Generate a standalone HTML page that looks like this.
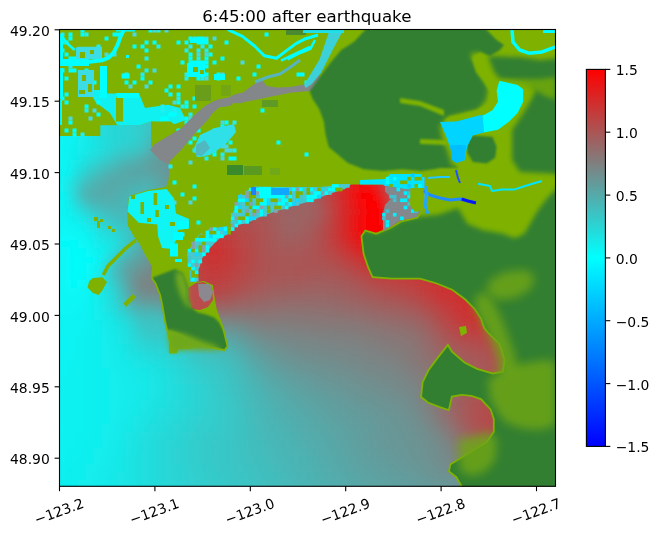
<!DOCTYPE html><html><head><meta charset="utf-8"><style>html,body{margin:0;padding:0;background:#fff;}svg{display:block;}text{font-family:"DejaVu Sans","Liberation Sans",sans-serif;fill:#000;}</style></head><body>
<svg width="658" height="536" viewBox="0 0 658 536">
<defs><clipPath id="ax"><rect x="59.5" y="29.5" width="496.0" height="456.8"/></clipPath>
<filter id="wb" x="-5%" y="-5%" width="110%" height="110%"><feGaussianBlur stdDeviation="5"/></filter>
<filter id="b1" x="-20%" y="-20%" width="140%" height="140%"><feGaussianBlur stdDeviation="1"/></filter>
<filter id="b2" x="-20%" y="-20%" width="140%" height="140%"><feGaussianBlur stdDeviation="2.5"/></filter>
<filter id="b3" x="-20%" y="-20%" width="140%" height="140%"><feGaussianBlur stdDeviation="5"/></filter>
<linearGradient id="cb" x1="0" y1="1" x2="0" y2="0"><stop offset="0" stop-color="#0000ff"/><stop offset="0.5" stop-color="#00ffff"/><stop offset="1" stop-color="#ff0000"/></linearGradient>
</defs>
<g clip-path="url(#ax)">
<g filter="url(#wb)"><rect x="38" y="8" width="8" height="8" fill="#00f9ff"/>
<rect x="46" y="8" width="8" height="8" fill="#00fbff"/>
<rect x="54" y="8" width="8" height="8" fill="#00fdff"/>
<rect x="62" y="8" width="8" height="8" fill="#00ffff"/>
<rect x="70" y="8" width="8" height="8" fill="#03fcfc"/>
<rect x="78" y="8" width="8" height="8" fill="#05fafa"/>
<rect x="86" y="8" width="8" height="8" fill="#08f7f7"/>
<rect x="94" y="8" width="8" height="8" fill="#0af5f5"/>
<rect x="102" y="8" width="8" height="8" fill="#0df2f2"/>
<rect x="110" y="8" width="8" height="8" fill="#0ff0f0"/>
<rect x="118" y="8" width="8" height="8" fill="#12eded"/>
<rect x="126" y="8" width="8" height="8" fill="#15eaea"/>
<rect x="134" y="8" width="8" height="8" fill="#17e8e8"/>
<rect x="142" y="8" width="8" height="8" fill="#1ae5e5"/>
<rect x="150" y="8" width="8" height="8" fill="#1de2e2"/>
<rect x="158" y="8" width="8" height="8" fill="#1fe0e0"/>
<rect x="166" y="8" width="8" height="8" fill="#22dddd"/>
<rect x="174" y="8" width="8" height="8" fill="#25dada"/>
<rect x="182" y="8" width="8" height="8" fill="#27d8d8"/>
<rect x="190" y="8" width="8" height="8" fill="#2ad5d5"/>
<rect x="198" y="8" width="8" height="8" fill="#2cd3d3"/>
<rect x="206" y="8" width="8" height="8" fill="#2fd0d0"/>
<rect x="214" y="8" width="8" height="8" fill="#31cece"/>
<rect x="222" y="8" width="8" height="8" fill="#33cccc"/>
<rect x="230" y="8" width="8" height="8" fill="#35caca"/>
<rect x="238" y="8" width="8" height="8" fill="#36c9c9"/>
<rect x="246" y="8" width="8" height="8" fill="#38c7c7"/>
<rect x="254" y="8" width="8" height="8" fill="#39c6c6"/>
<rect x="262" y="8" width="40" height="8" fill="#3ac5c5"/>
<rect x="302" y="8" width="8" height="8" fill="#39c6c6"/>
<rect x="310" y="8" width="8" height="8" fill="#38c7c7"/>
<rect x="318" y="8" width="8" height="8" fill="#37c8c8"/>
<rect x="326" y="8" width="8" height="8" fill="#35caca"/>
<rect x="334" y="8" width="8" height="8" fill="#33cccc"/>
<rect x="342" y="8" width="8" height="8" fill="#30cfcf"/>
<rect x="350" y="8" width="8" height="8" fill="#2dd2d2"/>
<rect x="358" y="8" width="8" height="8" fill="#2ad5d5"/>
<rect x="366" y="8" width="8" height="8" fill="#26d9d9"/>
<rect x="374" y="8" width="8" height="8" fill="#23dcdc"/>
<rect x="382" y="8" width="8" height="8" fill="#1fe0e0"/>
<rect x="390" y="8" width="8" height="8" fill="#1ae5e5"/>
<rect x="398" y="8" width="8" height="8" fill="#16e9e9"/>
<rect x="406" y="8" width="8" height="8" fill="#12eded"/>
<rect x="414" y="8" width="8" height="8" fill="#0df2f2"/>
<rect x="422" y="8" width="8" height="8" fill="#09f6f6"/>
<rect x="430" y="8" width="8" height="8" fill="#05fafa"/>
<rect x="438" y="8" width="8" height="8" fill="#00ffff"/>
<rect x="446" y="8" width="8" height="8" fill="#00fbff"/>
<rect x="454" y="8" width="8" height="8" fill="#00f7ff"/>
<rect x="462" y="8" width="8" height="8" fill="#00f4ff"/>
<rect x="470" y="8" width="8" height="8" fill="#00f0ff"/>
<rect x="478" y="8" width="8" height="8" fill="#00edff"/>
<rect x="486" y="8" width="8" height="8" fill="#00eaff"/>
<rect x="494" y="8" width="8" height="8" fill="#00e7ff"/>
<rect x="502" y="8" width="8" height="8" fill="#00e4ff"/>
<rect x="510" y="8" width="8" height="8" fill="#00e2ff"/>
<rect x="518" y="8" width="8" height="8" fill="#00e0ff"/>
<rect x="526" y="8" width="8" height="8" fill="#00deff"/>
<rect x="534" y="8" width="8" height="8" fill="#00dcff"/>
<rect x="542" y="8" width="8" height="8" fill="#00dbff"/>
<rect x="550" y="8" width="8" height="8" fill="#00daff"/>
<rect x="558" y="8" width="8" height="8" fill="#00d8ff"/>
<rect x="566" y="8" width="16" height="8" fill="#00d7ff"/>
<rect x="38" y="16" width="8" height="8" fill="#00faff"/>
<rect x="46" y="16" width="8" height="8" fill="#00fcff"/>
<rect x="54" y="16" width="8" height="8" fill="#00ffff"/>
<rect x="62" y="16" width="8" height="8" fill="#02fdfd"/>
<rect x="70" y="16" width="8" height="8" fill="#05fafa"/>
<rect x="78" y="16" width="8" height="8" fill="#07f8f8"/>
<rect x="86" y="16" width="8" height="8" fill="#0af5f5"/>
<rect x="94" y="16" width="8" height="8" fill="#0cf3f3"/>
<rect x="102" y="16" width="8" height="8" fill="#0ff0f0"/>
<rect x="110" y="16" width="8" height="8" fill="#12eded"/>
<rect x="118" y="16" width="8" height="8" fill="#14ebeb"/>
<rect x="126" y="16" width="8" height="8" fill="#17e8e8"/>
<rect x="134" y="16" width="8" height="8" fill="#1ae5e5"/>
<rect x="142" y="16" width="8" height="8" fill="#1de2e2"/>
<rect x="150" y="16" width="8" height="8" fill="#20dfdf"/>
<rect x="158" y="16" width="8" height="8" fill="#23dcdc"/>
<rect x="166" y="16" width="8" height="8" fill="#25dada"/>
<rect x="174" y="16" width="8" height="8" fill="#28d7d7"/>
<rect x="182" y="16" width="8" height="8" fill="#2bd4d4"/>
<rect x="190" y="16" width="8" height="8" fill="#2ed1d1"/>
<rect x="198" y="16" width="8" height="8" fill="#31cece"/>
<rect x="206" y="16" width="8" height="8" fill="#33cccc"/>
<rect x="214" y="16" width="8" height="8" fill="#35caca"/>
<rect x="222" y="16" width="8" height="8" fill="#38c7c7"/>
<rect x="230" y="16" width="8" height="8" fill="#3ac5c5"/>
<rect x="238" y="16" width="8" height="8" fill="#3bc4c4"/>
<rect x="246" y="16" width="8" height="8" fill="#3dc2c2"/>
<rect x="254" y="16" width="8" height="8" fill="#3ec1c1"/>
<rect x="262" y="16" width="8" height="8" fill="#3fc0c0"/>
<rect x="270" y="16" width="32" height="8" fill="#40bfbf"/>
<rect x="302" y="16" width="8" height="8" fill="#3fc0c0"/>
<rect x="310" y="16" width="8" height="8" fill="#3ec1c1"/>
<rect x="318" y="16" width="8" height="8" fill="#3cc3c3"/>
<rect x="326" y="16" width="8" height="8" fill="#3bc4c4"/>
<rect x="334" y="16" width="8" height="8" fill="#38c7c7"/>
<rect x="342" y="16" width="8" height="8" fill="#36c9c9"/>
<rect x="350" y="16" width="8" height="8" fill="#33cccc"/>
<rect x="358" y="16" width="8" height="8" fill="#2fd0d0"/>
<rect x="366" y="16" width="8" height="8" fill="#2cd3d3"/>
<rect x="374" y="16" width="8" height="8" fill="#28d7d7"/>
<rect x="382" y="16" width="8" height="8" fill="#23dcdc"/>
<rect x="390" y="16" width="8" height="8" fill="#1fe0e0"/>
<rect x="398" y="16" width="8" height="8" fill="#1be4e4"/>
<rect x="406" y="16" width="8" height="8" fill="#16e9e9"/>
<rect x="414" y="16" width="8" height="8" fill="#11eeee"/>
<rect x="422" y="16" width="8" height="8" fill="#0df2f2"/>
<rect x="430" y="16" width="8" height="8" fill="#08f7f7"/>
<rect x="438" y="16" width="8" height="8" fill="#04fbfb"/>
<rect x="446" y="16" width="8" height="8" fill="#00feff"/>
<rect x="454" y="16" width="8" height="8" fill="#00faff"/>
<rect x="462" y="16" width="8" height="8" fill="#00f6ff"/>
<rect x="470" y="16" width="8" height="8" fill="#00f3ff"/>
<rect x="478" y="16" width="8" height="8" fill="#00efff"/>
<rect x="486" y="16" width="8" height="8" fill="#00ecff"/>
<rect x="494" y="16" width="8" height="8" fill="#00e9ff"/>
<rect x="502" y="16" width="8" height="8" fill="#00e7ff"/>
<rect x="510" y="16" width="8" height="8" fill="#00e4ff"/>
<rect x="518" y="16" width="8" height="8" fill="#00e2ff"/>
<rect x="526" y="16" width="8" height="8" fill="#00e0ff"/>
<rect x="534" y="16" width="8" height="8" fill="#00dfff"/>
<rect x="542" y="16" width="8" height="8" fill="#00ddff"/>
<rect x="550" y="16" width="8" height="8" fill="#00dcff"/>
<rect x="558" y="16" width="8" height="8" fill="#00dbff"/>
<rect x="566" y="16" width="8" height="8" fill="#00daff"/>
<rect x="574" y="16" width="8" height="8" fill="#00d9ff"/>
<rect x="38" y="24" width="8" height="8" fill="#00fcff"/>
<rect x="46" y="24" width="8" height="8" fill="#00feff"/>
<rect x="54" y="24" width="8" height="8" fill="#01fefe"/>
<rect x="62" y="24" width="8" height="8" fill="#04fbfb"/>
<rect x="70" y="24" width="8" height="8" fill="#06f9f9"/>
<rect x="78" y="24" width="8" height="8" fill="#09f6f6"/>
<rect x="86" y="24" width="8" height="8" fill="#0cf3f3"/>
<rect x="94" y="24" width="8" height="8" fill="#0ef1f1"/>
<rect x="102" y="24" width="8" height="8" fill="#11eeee"/>
<rect x="110" y="24" width="8" height="8" fill="#14ebeb"/>
<rect x="118" y="24" width="8" height="8" fill="#17e8e8"/>
<rect x="126" y="24" width="8" height="8" fill="#1ae5e5"/>
<rect x="134" y="24" width="8" height="8" fill="#1de2e2"/>
<rect x="142" y="24" width="8" height="8" fill="#20dfdf"/>
<rect x="150" y="24" width="8" height="8" fill="#23dcdc"/>
<rect x="158" y="24" width="8" height="8" fill="#26d9d9"/>
<rect x="166" y="24" width="8" height="8" fill="#29d6d6"/>
<rect x="174" y="24" width="8" height="8" fill="#2cd3d3"/>
<rect x="182" y="24" width="8" height="8" fill="#2fd0d0"/>
<rect x="190" y="24" width="8" height="8" fill="#32cdcd"/>
<rect x="198" y="24" width="8" height="8" fill="#35caca"/>
<rect x="206" y="24" width="8" height="8" fill="#37c8c8"/>
<rect x="214" y="24" width="8" height="8" fill="#3ac5c5"/>
<rect x="222" y="24" width="8" height="8" fill="#3cc3c3"/>
<rect x="230" y="24" width="8" height="8" fill="#3ec1c1"/>
<rect x="238" y="24" width="8" height="8" fill="#40bfbf"/>
<rect x="246" y="24" width="8" height="8" fill="#42bdbd"/>
<rect x="254" y="24" width="8" height="8" fill="#43bcbc"/>
<rect x="262" y="24" width="16" height="8" fill="#45baba"/>
<rect x="278" y="24" width="24" height="8" fill="#46b9b9"/>
<rect x="302" y="24" width="8" height="8" fill="#45baba"/>
<rect x="310" y="24" width="8" height="8" fill="#44bbbb"/>
<rect x="318" y="24" width="8" height="8" fill="#43bcbc"/>
<rect x="326" y="24" width="8" height="8" fill="#41bebe"/>
<rect x="334" y="24" width="8" height="8" fill="#3ec1c1"/>
<rect x="342" y="24" width="8" height="8" fill="#3cc3c3"/>
<rect x="350" y="24" width="8" height="8" fill="#39c6c6"/>
<rect x="358" y="24" width="8" height="8" fill="#35caca"/>
<rect x="366" y="24" width="8" height="8" fill="#31cece"/>
<rect x="374" y="24" width="8" height="8" fill="#2dd2d2"/>
<rect x="382" y="24" width="8" height="8" fill="#28d7d7"/>
<rect x="390" y="24" width="8" height="8" fill="#24dbdb"/>
<rect x="398" y="24" width="8" height="8" fill="#1fe0e0"/>
<rect x="406" y="24" width="8" height="8" fill="#1ae5e5"/>
<rect x="414" y="24" width="8" height="8" fill="#15eaea"/>
<rect x="422" y="24" width="8" height="8" fill="#10efef"/>
<rect x="430" y="24" width="8" height="8" fill="#0bf4f4"/>
<rect x="438" y="24" width="8" height="8" fill="#07f8f8"/>
<rect x="446" y="24" width="8" height="8" fill="#02fdfd"/>
<rect x="454" y="24" width="8" height="8" fill="#00fdff"/>
<rect x="462" y="24" width="8" height="8" fill="#00f9ff"/>
<rect x="470" y="24" width="8" height="8" fill="#00f5ff"/>
<rect x="478" y="24" width="8" height="8" fill="#00f2ff"/>
<rect x="486" y="24" width="8" height="8" fill="#00efff"/>
<rect x="494" y="24" width="8" height="8" fill="#00ecff"/>
<rect x="502" y="24" width="8" height="8" fill="#00e9ff"/>
<rect x="510" y="24" width="8" height="8" fill="#00e7ff"/>
<rect x="518" y="24" width="8" height="8" fill="#00e5ff"/>
<rect x="526" y="24" width="8" height="8" fill="#00e3ff"/>
<rect x="534" y="24" width="8" height="8" fill="#00e1ff"/>
<rect x="542" y="24" width="8" height="8" fill="#00e0ff"/>
<rect x="550" y="24" width="8" height="8" fill="#00dfff"/>
<rect x="558" y="24" width="8" height="8" fill="#00deff"/>
<rect x="566" y="24" width="8" height="8" fill="#00ddff"/>
<rect x="574" y="24" width="8" height="8" fill="#00dcff"/>
<rect x="38" y="32" width="8" height="8" fill="#00fdff"/>
<rect x="46" y="32" width="8" height="8" fill="#01fefe"/>
<rect x="54" y="32" width="8" height="8" fill="#03fcfc"/>
<rect x="62" y="32" width="8" height="8" fill="#05fafa"/>
<rect x="70" y="32" width="8" height="8" fill="#08f7f7"/>
<rect x="78" y="32" width="8" height="8" fill="#0bf4f4"/>
<rect x="86" y="32" width="8" height="8" fill="#0df2f2"/>
<rect x="94" y="32" width="8" height="8" fill="#10efef"/>
<rect x="102" y="32" width="8" height="8" fill="#13ecec"/>
<rect x="110" y="32" width="8" height="8" fill="#16e9e9"/>
<rect x="118" y="32" width="8" height="8" fill="#19e6e6"/>
<rect x="126" y="32" width="8" height="8" fill="#1ce3e3"/>
<rect x="134" y="32" width="8" height="8" fill="#1fe0e0"/>
<rect x="142" y="32" width="8" height="8" fill="#22dddd"/>
<rect x="150" y="32" width="8" height="8" fill="#26d9d9"/>
<rect x="158" y="32" width="8" height="8" fill="#29d6d6"/>
<rect x="166" y="32" width="8" height="8" fill="#2cd3d3"/>
<rect x="174" y="32" width="8" height="8" fill="#2fd0d0"/>
<rect x="182" y="32" width="8" height="8" fill="#33cccc"/>
<rect x="190" y="32" width="8" height="8" fill="#36c9c9"/>
<rect x="198" y="32" width="8" height="8" fill="#39c6c6"/>
<rect x="206" y="32" width="8" height="8" fill="#3cc3c3"/>
<rect x="214" y="32" width="8" height="8" fill="#3fc0c0"/>
<rect x="222" y="32" width="8" height="8" fill="#41bebe"/>
<rect x="230" y="32" width="8" height="8" fill="#43bcbc"/>
<rect x="238" y="32" width="8" height="8" fill="#46b9b9"/>
<rect x="246" y="32" width="8" height="8" fill="#47b8b8"/>
<rect x="254" y="32" width="8" height="8" fill="#49b6b6"/>
<rect x="262" y="32" width="8" height="8" fill="#4ab5b5"/>
<rect x="270" y="32" width="8" height="8" fill="#4bb4b4"/>
<rect x="278" y="32" width="24" height="8" fill="#4cb3b3"/>
<rect x="302" y="32" width="8" height="8" fill="#4bb4b4"/>
<rect x="310" y="32" width="8" height="8" fill="#4ab5b5"/>
<rect x="318" y="32" width="8" height="8" fill="#49b6b6"/>
<rect x="326" y="32" width="8" height="8" fill="#47b8b8"/>
<rect x="334" y="32" width="8" height="8" fill="#45baba"/>
<rect x="342" y="32" width="8" height="8" fill="#42bdbd"/>
<rect x="350" y="32" width="8" height="8" fill="#3fc0c0"/>
<rect x="358" y="32" width="8" height="8" fill="#3bc4c4"/>
<rect x="366" y="32" width="8" height="8" fill="#37c8c8"/>
<rect x="374" y="32" width="8" height="8" fill="#32cdcd"/>
<rect x="382" y="32" width="8" height="8" fill="#2ed1d1"/>
<rect x="390" y="32" width="8" height="8" fill="#29d6d6"/>
<rect x="398" y="32" width="8" height="8" fill="#24dbdb"/>
<rect x="406" y="32" width="8" height="8" fill="#1ee1e1"/>
<rect x="414" y="32" width="8" height="8" fill="#19e6e6"/>
<rect x="422" y="32" width="8" height="8" fill="#14ebeb"/>
<rect x="430" y="32" width="8" height="8" fill="#0ff0f0"/>
<rect x="438" y="32" width="8" height="8" fill="#0af5f5"/>
<rect x="446" y="32" width="8" height="8" fill="#05fafa"/>
<rect x="454" y="32" width="8" height="8" fill="#01fefe"/>
<rect x="462" y="32" width="8" height="8" fill="#00fcff"/>
<rect x="470" y="32" width="8" height="8" fill="#00f8ff"/>
<rect x="478" y="32" width="8" height="8" fill="#00f4ff"/>
<rect x="486" y="32" width="8" height="8" fill="#00f1ff"/>
<rect x="494" y="32" width="8" height="8" fill="#00eeff"/>
<rect x="502" y="32" width="8" height="8" fill="#00ebff"/>
<rect x="510" y="32" width="8" height="8" fill="#00e9ff"/>
<rect x="518" y="32" width="8" height="8" fill="#00e7ff"/>
<rect x="526" y="32" width="8" height="8" fill="#00e5ff"/>
<rect x="534" y="32" width="8" height="8" fill="#00e4ff"/>
<rect x="542" y="32" width="8" height="8" fill="#00e2ff"/>
<rect x="550" y="32" width="8" height="8" fill="#00e1ff"/>
<rect x="558" y="32" width="16" height="8" fill="#00e0ff"/>
<rect x="574" y="32" width="8" height="8" fill="#00dfff"/>
<rect x="38" y="40" width="8" height="8" fill="#00feff"/>
<rect x="46" y="40" width="8" height="8" fill="#02fdfd"/>
<rect x="54" y="40" width="8" height="8" fill="#04fbfb"/>
<rect x="62" y="40" width="8" height="8" fill="#07f8f8"/>
<rect x="70" y="40" width="8" height="8" fill="#0af5f5"/>
<rect x="78" y="40" width="8" height="8" fill="#0cf3f3"/>
<rect x="86" y="40" width="8" height="8" fill="#0ff0f0"/>
<rect x="94" y="40" width="8" height="8" fill="#12eded"/>
<rect x="102" y="40" width="8" height="8" fill="#15eaea"/>
<rect x="110" y="40" width="8" height="8" fill="#18e7e7"/>
<rect x="118" y="40" width="8" height="8" fill="#1be4e4"/>
<rect x="126" y="40" width="8" height="8" fill="#1ee1e1"/>
<rect x="134" y="40" width="8" height="8" fill="#22dddd"/>
<rect x="142" y="40" width="8" height="8" fill="#25dada"/>
<rect x="150" y="40" width="8" height="8" fill="#28d7d7"/>
<rect x="158" y="40" width="8" height="8" fill="#2cd3d3"/>
<rect x="166" y="40" width="8" height="8" fill="#2fd0d0"/>
<rect x="174" y="40" width="8" height="8" fill="#33cccc"/>
<rect x="182" y="40" width="8" height="8" fill="#36c9c9"/>
<rect x="190" y="40" width="8" height="8" fill="#3ac5c5"/>
<rect x="198" y="40" width="8" height="8" fill="#3dc2c2"/>
<rect x="206" y="40" width="8" height="8" fill="#40bfbf"/>
<rect x="214" y="40" width="8" height="8" fill="#43bcbc"/>
<rect x="222" y="40" width="8" height="8" fill="#46b9b9"/>
<rect x="230" y="40" width="8" height="8" fill="#48b7b7"/>
<rect x="238" y="40" width="8" height="8" fill="#4bb4b4"/>
<rect x="246" y="40" width="8" height="8" fill="#4db2b2"/>
<rect x="254" y="40" width="8" height="8" fill="#4eb1b1"/>
<rect x="262" y="40" width="8" height="8" fill="#50afaf"/>
<rect x="270" y="40" width="8" height="8" fill="#51aeae"/>
<rect x="278" y="40" width="32" height="8" fill="#52adad"/>
<rect x="310" y="40" width="8" height="8" fill="#51aeae"/>
<rect x="318" y="40" width="8" height="8" fill="#4fb0b0"/>
<rect x="326" y="40" width="8" height="8" fill="#4db2b2"/>
<rect x="334" y="40" width="8" height="8" fill="#4bb4b4"/>
<rect x="342" y="40" width="8" height="8" fill="#48b7b7"/>
<rect x="350" y="40" width="8" height="8" fill="#45baba"/>
<rect x="358" y="40" width="8" height="8" fill="#41bebe"/>
<rect x="366" y="40" width="8" height="8" fill="#3dc2c2"/>
<rect x="374" y="40" width="8" height="8" fill="#38c7c7"/>
<rect x="382" y="40" width="8" height="8" fill="#33cccc"/>
<rect x="390" y="40" width="8" height="8" fill="#2ed1d1"/>
<rect x="398" y="40" width="8" height="8" fill="#28d7d7"/>
<rect x="406" y="40" width="8" height="8" fill="#23dcdc"/>
<rect x="414" y="40" width="8" height="8" fill="#1de2e2"/>
<rect x="422" y="40" width="8" height="8" fill="#18e7e7"/>
<rect x="430" y="40" width="8" height="8" fill="#12eded"/>
<rect x="438" y="40" width="8" height="8" fill="#0df2f2"/>
<rect x="446" y="40" width="8" height="8" fill="#08f7f7"/>
<rect x="454" y="40" width="8" height="8" fill="#04fbfb"/>
<rect x="462" y="40" width="8" height="8" fill="#00feff"/>
<rect x="470" y="40" width="8" height="8" fill="#00faff"/>
<rect x="478" y="40" width="8" height="8" fill="#00f7ff"/>
<rect x="486" y="40" width="8" height="8" fill="#00f3ff"/>
<rect x="494" y="40" width="8" height="8" fill="#00f0ff"/>
<rect x="502" y="40" width="8" height="8" fill="#00eeff"/>
<rect x="510" y="40" width="8" height="8" fill="#00ebff"/>
<rect x="518" y="40" width="8" height="8" fill="#00e9ff"/>
<rect x="526" y="40" width="8" height="8" fill="#00e8ff"/>
<rect x="534" y="40" width="8" height="8" fill="#00e6ff"/>
<rect x="542" y="40" width="8" height="8" fill="#00e5ff"/>
<rect x="550" y="40" width="8" height="8" fill="#00e4ff"/>
<rect x="558" y="40" width="8" height="8" fill="#00e3ff"/>
<rect x="566" y="40" width="16" height="8" fill="#00e2ff"/>
<rect x="38" y="48" width="8" height="8" fill="#01fefe"/>
<rect x="46" y="48" width="8" height="8" fill="#03fcfc"/>
<rect x="54" y="48" width="8" height="8" fill="#06f9f9"/>
<rect x="62" y="48" width="8" height="8" fill="#08f7f7"/>
<rect x="70" y="48" width="8" height="8" fill="#0bf4f4"/>
<rect x="78" y="48" width="8" height="8" fill="#0ef1f1"/>
<rect x="86" y="48" width="8" height="8" fill="#11eeee"/>
<rect x="94" y="48" width="8" height="8" fill="#14ebeb"/>
<rect x="102" y="48" width="8" height="8" fill="#17e8e8"/>
<rect x="110" y="48" width="8" height="8" fill="#1ae5e5"/>
<rect x="118" y="48" width="8" height="8" fill="#1de2e2"/>
<rect x="126" y="48" width="8" height="8" fill="#21dede"/>
<rect x="134" y="48" width="8" height="8" fill="#24dbdb"/>
<rect x="142" y="48" width="8" height="8" fill="#27d8d8"/>
<rect x="150" y="48" width="8" height="8" fill="#2bd4d4"/>
<rect x="158" y="48" width="8" height="8" fill="#2fd0d0"/>
<rect x="166" y="48" width="8" height="8" fill="#32cdcd"/>
<rect x="174" y="48" width="8" height="8" fill="#36c9c9"/>
<rect x="182" y="48" width="8" height="8" fill="#3ac5c5"/>
<rect x="190" y="48" width="8" height="8" fill="#3ec1c1"/>
<rect x="198" y="48" width="8" height="8" fill="#41bebe"/>
<rect x="206" y="48" width="8" height="8" fill="#45baba"/>
<rect x="214" y="48" width="8" height="8" fill="#48b7b7"/>
<rect x="222" y="48" width="8" height="8" fill="#4bb4b4"/>
<rect x="230" y="48" width="8" height="8" fill="#4db2b2"/>
<rect x="238" y="48" width="8" height="8" fill="#50afaf"/>
<rect x="246" y="48" width="8" height="8" fill="#52adad"/>
<rect x="254" y="48" width="8" height="8" fill="#54abab"/>
<rect x="262" y="48" width="8" height="8" fill="#56a9a9"/>
<rect x="270" y="48" width="8" height="8" fill="#57a8a8"/>
<rect x="278" y="48" width="32" height="8" fill="#58a7a7"/>
<rect x="310" y="48" width="8" height="8" fill="#57a8a8"/>
<rect x="318" y="48" width="8" height="8" fill="#56a9a9"/>
<rect x="326" y="48" width="8" height="8" fill="#54abab"/>
<rect x="334" y="48" width="8" height="8" fill="#52adad"/>
<rect x="342" y="48" width="8" height="8" fill="#4fb0b0"/>
<rect x="350" y="48" width="8" height="8" fill="#4bb4b4"/>
<rect x="358" y="48" width="8" height="8" fill="#47b8b8"/>
<rect x="366" y="48" width="8" height="8" fill="#43bcbc"/>
<rect x="374" y="48" width="8" height="8" fill="#3ec1c1"/>
<rect x="382" y="48" width="8" height="8" fill="#38c7c7"/>
<rect x="390" y="48" width="8" height="8" fill="#33cccc"/>
<rect x="398" y="48" width="8" height="8" fill="#2dd2d2"/>
<rect x="406" y="48" width="8" height="8" fill="#27d8d8"/>
<rect x="414" y="48" width="8" height="8" fill="#21dede"/>
<rect x="422" y="48" width="8" height="8" fill="#1be4e4"/>
<rect x="430" y="48" width="8" height="8" fill="#16e9e9"/>
<rect x="438" y="48" width="8" height="8" fill="#10efef"/>
<rect x="446" y="48" width="8" height="8" fill="#0bf4f4"/>
<rect x="454" y="48" width="8" height="8" fill="#06f9f9"/>
<rect x="462" y="48" width="8" height="8" fill="#02fdfd"/>
<rect x="470" y="48" width="8" height="8" fill="#00fdff"/>
<rect x="478" y="48" width="8" height="8" fill="#00f9ff"/>
<rect x="486" y="48" width="8" height="8" fill="#00f6ff"/>
<rect x="494" y="48" width="8" height="8" fill="#00f3ff"/>
<rect x="502" y="48" width="8" height="8" fill="#00f0ff"/>
<rect x="510" y="48" width="8" height="8" fill="#00eeff"/>
<rect x="518" y="48" width="8" height="8" fill="#00ecff"/>
<rect x="526" y="48" width="8" height="8" fill="#00eaff"/>
<rect x="534" y="48" width="8" height="8" fill="#00e9ff"/>
<rect x="542" y="48" width="8" height="8" fill="#00e8ff"/>
<rect x="550" y="48" width="8" height="8" fill="#00e7ff"/>
<rect x="558" y="48" width="8" height="8" fill="#00e6ff"/>
<rect x="566" y="48" width="16" height="8" fill="#00e5ff"/>
<rect x="38" y="56" width="8" height="8" fill="#02fdfd"/>
<rect x="46" y="56" width="8" height="8" fill="#04fbfb"/>
<rect x="54" y="56" width="8" height="8" fill="#07f8f8"/>
<rect x="62" y="56" width="8" height="8" fill="#0af5f5"/>
<rect x="70" y="56" width="8" height="8" fill="#0df2f2"/>
<rect x="78" y="56" width="8" height="8" fill="#0ff0f0"/>
<rect x="86" y="56" width="8" height="8" fill="#13ecec"/>
<rect x="94" y="56" width="8" height="8" fill="#16e9e9"/>
<rect x="102" y="56" width="8" height="8" fill="#19e6e6"/>
<rect x="110" y="56" width="8" height="8" fill="#1ce3e3"/>
<rect x="118" y="56" width="8" height="8" fill="#1fe0e0"/>
<rect x="126" y="56" width="8" height="8" fill="#23dcdc"/>
<rect x="134" y="56" width="8" height="8" fill="#26d9d9"/>
<rect x="142" y="56" width="8" height="8" fill="#2ad5d5"/>
<rect x="150" y="56" width="8" height="8" fill="#2ed1d1"/>
<rect x="158" y="56" width="8" height="8" fill="#32cdcd"/>
<rect x="166" y="56" width="8" height="8" fill="#36c9c9"/>
<rect x="174" y="56" width="8" height="8" fill="#3ac5c5"/>
<rect x="182" y="56" width="8" height="8" fill="#3ec1c1"/>
<rect x="190" y="56" width="8" height="8" fill="#41bebe"/>
<rect x="198" y="56" width="8" height="8" fill="#45baba"/>
<rect x="206" y="56" width="8" height="8" fill="#49b6b6"/>
<rect x="214" y="56" width="8" height="8" fill="#4cb3b3"/>
<rect x="222" y="56" width="8" height="8" fill="#50afaf"/>
<rect x="230" y="56" width="8" height="8" fill="#53acac"/>
<rect x="238" y="56" width="8" height="8" fill="#55aaaa"/>
<rect x="246" y="56" width="8" height="8" fill="#58a7a7"/>
<rect x="254" y="56" width="8" height="8" fill="#5aa5a5"/>
<rect x="262" y="56" width="8" height="8" fill="#5ba4a4"/>
<rect x="270" y="56" width="8" height="8" fill="#5da2a2"/>
<rect x="278" y="56" width="8" height="8" fill="#5ea1a1"/>
<rect x="286" y="56" width="24" height="8" fill="#5fa0a0"/>
<rect x="310" y="56" width="8" height="8" fill="#5ea1a1"/>
<rect x="318" y="56" width="8" height="8" fill="#5da2a2"/>
<rect x="326" y="56" width="8" height="8" fill="#5ba4a4"/>
<rect x="334" y="56" width="8" height="8" fill="#59a6a6"/>
<rect x="342" y="56" width="8" height="8" fill="#56a9a9"/>
<rect x="350" y="56" width="8" height="8" fill="#52adad"/>
<rect x="358" y="56" width="8" height="8" fill="#4eb1b1"/>
<rect x="366" y="56" width="8" height="8" fill="#49b6b6"/>
<rect x="374" y="56" width="8" height="8" fill="#44bbbb"/>
<rect x="382" y="56" width="8" height="8" fill="#3ec1c1"/>
<rect x="390" y="56" width="8" height="8" fill="#38c7c7"/>
<rect x="398" y="56" width="8" height="8" fill="#32cdcd"/>
<rect x="406" y="56" width="8" height="8" fill="#2bd4d4"/>
<rect x="414" y="56" width="8" height="8" fill="#25dada"/>
<rect x="422" y="56" width="8" height="8" fill="#1fe0e0"/>
<rect x="430" y="56" width="8" height="8" fill="#19e6e6"/>
<rect x="438" y="56" width="8" height="8" fill="#13ecec"/>
<rect x="446" y="56" width="8" height="8" fill="#0ef1f1"/>
<rect x="454" y="56" width="8" height="8" fill="#09f6f6"/>
<rect x="462" y="56" width="8" height="8" fill="#04fbfb"/>
<rect x="470" y="56" width="8" height="8" fill="#00ffff"/>
<rect x="478" y="56" width="8" height="8" fill="#00fbff"/>
<rect x="486" y="56" width="8" height="8" fill="#00f8ff"/>
<rect x="494" y="56" width="8" height="8" fill="#00f5ff"/>
<rect x="502" y="56" width="8" height="8" fill="#00f2ff"/>
<rect x="510" y="56" width="8" height="8" fill="#00f0ff"/>
<rect x="518" y="56" width="8" height="8" fill="#00eeff"/>
<rect x="526" y="56" width="8" height="8" fill="#00edff"/>
<rect x="534" y="56" width="8" height="8" fill="#00ecff"/>
<rect x="542" y="56" width="8" height="8" fill="#00ebff"/>
<rect x="550" y="56" width="8" height="8" fill="#00eaff"/>
<rect x="558" y="56" width="8" height="8" fill="#00e9ff"/>
<rect x="566" y="56" width="16" height="8" fill="#00e8ff"/>
<rect x="38" y="64" width="8" height="8" fill="#03fcfc"/>
<rect x="46" y="64" width="8" height="8" fill="#05fafa"/>
<rect x="54" y="64" width="8" height="8" fill="#08f7f7"/>
<rect x="62" y="64" width="8" height="8" fill="#0bf4f4"/>
<rect x="70" y="64" width="8" height="8" fill="#0ef1f1"/>
<rect x="78" y="64" width="8" height="8" fill="#11eeee"/>
<rect x="86" y="64" width="8" height="8" fill="#14ebeb"/>
<rect x="94" y="64" width="8" height="8" fill="#17e8e8"/>
<rect x="102" y="64" width="8" height="8" fill="#1be4e4"/>
<rect x="110" y="64" width="8" height="8" fill="#1ee1e1"/>
<rect x="118" y="64" width="8" height="8" fill="#21dede"/>
<rect x="126" y="64" width="8" height="8" fill="#25dada"/>
<rect x="134" y="64" width="8" height="8" fill="#28d7d7"/>
<rect x="142" y="64" width="8" height="8" fill="#2cd3d3"/>
<rect x="150" y="64" width="8" height="8" fill="#30cfcf"/>
<rect x="158" y="64" width="8" height="8" fill="#34cbcb"/>
<rect x="166" y="64" width="8" height="8" fill="#39c6c6"/>
<rect x="174" y="64" width="8" height="8" fill="#3dc2c2"/>
<rect x="182" y="64" width="8" height="8" fill="#41bebe"/>
<rect x="190" y="64" width="8" height="8" fill="#45baba"/>
<rect x="198" y="64" width="8" height="8" fill="#4ab5b5"/>
<rect x="206" y="64" width="8" height="8" fill="#4db2b2"/>
<rect x="214" y="64" width="8" height="8" fill="#51aeae"/>
<rect x="222" y="64" width="8" height="8" fill="#54abab"/>
<rect x="230" y="64" width="8" height="8" fill="#58a7a7"/>
<rect x="238" y="64" width="8" height="8" fill="#5aa5a5"/>
<rect x="246" y="64" width="8" height="8" fill="#5da2a2"/>
<rect x="254" y="64" width="8" height="8" fill="#5fa0a0"/>
<rect x="262" y="64" width="8" height="8" fill="#619e9e"/>
<rect x="270" y="64" width="8" height="8" fill="#639c9c"/>
<rect x="278" y="64" width="8" height="8" fill="#649b9b"/>
<rect x="286" y="64" width="32" height="8" fill="#659a9a"/>
<rect x="318" y="64" width="8" height="8" fill="#649b9b"/>
<rect x="326" y="64" width="8" height="8" fill="#629d9d"/>
<rect x="334" y="64" width="8" height="8" fill="#609f9f"/>
<rect x="342" y="64" width="8" height="8" fill="#5da2a2"/>
<rect x="350" y="64" width="8" height="8" fill="#59a6a6"/>
<rect x="358" y="64" width="8" height="8" fill="#54abab"/>
<rect x="366" y="64" width="8" height="8" fill="#4fb0b0"/>
<rect x="374" y="64" width="8" height="8" fill="#4ab5b5"/>
<rect x="382" y="64" width="8" height="8" fill="#44bbbb"/>
<rect x="390" y="64" width="8" height="8" fill="#3dc2c2"/>
<rect x="398" y="64" width="8" height="8" fill="#37c8c8"/>
<rect x="406" y="64" width="8" height="8" fill="#30cfcf"/>
<rect x="414" y="64" width="8" height="8" fill="#29d6d6"/>
<rect x="422" y="64" width="8" height="8" fill="#22dddd"/>
<rect x="430" y="64" width="8" height="8" fill="#1ce3e3"/>
<rect x="438" y="64" width="8" height="8" fill="#16e9e9"/>
<rect x="446" y="64" width="8" height="8" fill="#10efef"/>
<rect x="454" y="64" width="8" height="8" fill="#0bf4f4"/>
<rect x="462" y="64" width="8" height="8" fill="#06f9f9"/>
<rect x="470" y="64" width="8" height="8" fill="#02fdfd"/>
<rect x="478" y="64" width="8" height="8" fill="#00fdff"/>
<rect x="486" y="64" width="8" height="8" fill="#00faff"/>
<rect x="494" y="64" width="8" height="8" fill="#00f7ff"/>
<rect x="502" y="64" width="8" height="8" fill="#00f5ff"/>
<rect x="510" y="64" width="8" height="8" fill="#00f3ff"/>
<rect x="518" y="64" width="8" height="8" fill="#00f1ff"/>
<rect x="526" y="64" width="8" height="8" fill="#00f0ff"/>
<rect x="534" y="64" width="8" height="8" fill="#00eeff"/>
<rect x="542" y="64" width="16" height="8" fill="#00edff"/>
<rect x="558" y="64" width="16" height="8" fill="#00ecff"/>
<rect x="574" y="64" width="8" height="8" fill="#00ebff"/>
<rect x="38" y="72" width="8" height="8" fill="#04fbfb"/>
<rect x="46" y="72" width="8" height="8" fill="#06f9f9"/>
<rect x="54" y="72" width="8" height="8" fill="#09f6f6"/>
<rect x="62" y="72" width="8" height="8" fill="#0cf3f3"/>
<rect x="70" y="72" width="8" height="8" fill="#0ff0f0"/>
<rect x="78" y="72" width="8" height="8" fill="#12eded"/>
<rect x="86" y="72" width="8" height="8" fill="#15eaea"/>
<rect x="94" y="72" width="8" height="8" fill="#19e6e6"/>
<rect x="102" y="72" width="8" height="8" fill="#1ce3e3"/>
<rect x="110" y="72" width="8" height="8" fill="#20dfdf"/>
<rect x="118" y="72" width="8" height="8" fill="#23dcdc"/>
<rect x="126" y="72" width="8" height="8" fill="#27d8d8"/>
<rect x="134" y="72" width="8" height="8" fill="#2ad5d5"/>
<rect x="142" y="72" width="8" height="8" fill="#2ed1d1"/>
<rect x="150" y="72" width="8" height="8" fill="#32cdcd"/>
<rect x="158" y="72" width="8" height="8" fill="#37c8c8"/>
<rect x="166" y="72" width="8" height="8" fill="#3cc3c3"/>
<rect x="174" y="72" width="8" height="8" fill="#40bfbf"/>
<rect x="182" y="72" width="8" height="8" fill="#45baba"/>
<rect x="190" y="72" width="8" height="8" fill="#49b6b6"/>
<rect x="198" y="72" width="8" height="8" fill="#4eb1b1"/>
<rect x="206" y="72" width="8" height="8" fill="#52adad"/>
<rect x="214" y="72" width="8" height="8" fill="#56a9a9"/>
<rect x="222" y="72" width="8" height="8" fill="#59a6a6"/>
<rect x="230" y="72" width="8" height="8" fill="#5da2a2"/>
<rect x="238" y="72" width="8" height="8" fill="#609f9f"/>
<rect x="246" y="72" width="8" height="8" fill="#629d9d"/>
<rect x="254" y="72" width="8" height="8" fill="#659a9a"/>
<rect x="262" y="72" width="8" height="8" fill="#679898"/>
<rect x="270" y="72" width="8" height="8" fill="#699696"/>
<rect x="278" y="72" width="8" height="8" fill="#6a9595"/>
<rect x="286" y="72" width="8" height="8" fill="#6b9494"/>
<rect x="294" y="72" width="24" height="8" fill="#6c9393"/>
<rect x="318" y="72" width="8" height="8" fill="#6b9494"/>
<rect x="326" y="72" width="8" height="8" fill="#699696"/>
<rect x="334" y="72" width="8" height="8" fill="#679898"/>
<rect x="342" y="72" width="8" height="8" fill="#649b9b"/>
<rect x="350" y="72" width="8" height="8" fill="#609f9f"/>
<rect x="358" y="72" width="8" height="8" fill="#5ba4a4"/>
<rect x="366" y="72" width="8" height="8" fill="#56a9a9"/>
<rect x="374" y="72" width="8" height="8" fill="#50afaf"/>
<rect x="382" y="72" width="8" height="8" fill="#4ab5b5"/>
<rect x="390" y="72" width="8" height="8" fill="#43bcbc"/>
<rect x="398" y="72" width="8" height="8" fill="#3bc4c4"/>
<rect x="406" y="72" width="8" height="8" fill="#34cbcb"/>
<rect x="414" y="72" width="8" height="8" fill="#2dd2d2"/>
<rect x="422" y="72" width="8" height="8" fill="#26d9d9"/>
<rect x="430" y="72" width="8" height="8" fill="#1fe0e0"/>
<rect x="438" y="72" width="8" height="8" fill="#19e6e6"/>
<rect x="446" y="72" width="8" height="8" fill="#13ecec"/>
<rect x="454" y="72" width="8" height="8" fill="#0ef1f1"/>
<rect x="462" y="72" width="8" height="8" fill="#09f6f6"/>
<rect x="470" y="72" width="8" height="8" fill="#04fbfb"/>
<rect x="478" y="72" width="8" height="8" fill="#01fefe"/>
<rect x="486" y="72" width="8" height="8" fill="#00fcff"/>
<rect x="494" y="72" width="8" height="8" fill="#00faff"/>
<rect x="502" y="72" width="8" height="8" fill="#00f7ff"/>
<rect x="510" y="72" width="8" height="8" fill="#00f5ff"/>
<rect x="518" y="72" width="8" height="8" fill="#00f4ff"/>
<rect x="526" y="72" width="8" height="8" fill="#00f2ff"/>
<rect x="534" y="72" width="8" height="8" fill="#00f1ff"/>
<rect x="542" y="72" width="16" height="8" fill="#00f0ff"/>
<rect x="558" y="72" width="24" height="8" fill="#00efff"/>
<rect x="38" y="80" width="8" height="8" fill="#04fbfb"/>
<rect x="46" y="80" width="8" height="8" fill="#07f8f8"/>
<rect x="54" y="80" width="8" height="8" fill="#0af5f5"/>
<rect x="62" y="80" width="8" height="8" fill="#0df2f2"/>
<rect x="70" y="80" width="8" height="8" fill="#10efef"/>
<rect x="78" y="80" width="8" height="8" fill="#13ecec"/>
<rect x="86" y="80" width="8" height="8" fill="#17e8e8"/>
<rect x="94" y="80" width="8" height="8" fill="#1ae5e5"/>
<rect x="102" y="80" width="8" height="8" fill="#1ee1e1"/>
<rect x="110" y="80" width="8" height="8" fill="#21dede"/>
<rect x="118" y="80" width="8" height="8" fill="#25dada"/>
<rect x="126" y="80" width="8" height="8" fill="#28d7d7"/>
<rect x="134" y="80" width="8" height="8" fill="#2cd3d3"/>
<rect x="142" y="80" width="8" height="8" fill="#30cfcf"/>
<rect x="150" y="80" width="8" height="8" fill="#35caca"/>
<rect x="158" y="80" width="8" height="8" fill="#3ac5c5"/>
<rect x="166" y="80" width="8" height="8" fill="#3fc0c0"/>
<rect x="174" y="80" width="8" height="8" fill="#44bbbb"/>
<rect x="182" y="80" width="8" height="8" fill="#49b6b6"/>
<rect x="190" y="80" width="8" height="8" fill="#4eb1b1"/>
<rect x="198" y="80" width="8" height="8" fill="#52adad"/>
<rect x="206" y="80" width="8" height="8" fill="#57a8a8"/>
<rect x="214" y="80" width="8" height="8" fill="#5ba4a4"/>
<rect x="222" y="80" width="8" height="8" fill="#5ea1a1"/>
<rect x="230" y="80" width="8" height="8" fill="#629d9d"/>
<rect x="238" y="80" width="8" height="8" fill="#659a9a"/>
<rect x="246" y="80" width="8" height="8" fill="#689797"/>
<rect x="254" y="80" width="8" height="8" fill="#6a9595"/>
<rect x="262" y="80" width="8" height="8" fill="#6d9292"/>
<rect x="270" y="80" width="8" height="8" fill="#6f9090"/>
<rect x="278" y="80" width="8" height="8" fill="#708f8f"/>
<rect x="286" y="80" width="8" height="8" fill="#728d8d"/>
<rect x="294" y="80" width="24" height="8" fill="#738c8c"/>
<rect x="318" y="80" width="8" height="8" fill="#728d8d"/>
<rect x="326" y="80" width="8" height="8" fill="#718e8e"/>
<rect x="334" y="80" width="8" height="8" fill="#6e9191"/>
<rect x="342" y="80" width="8" height="8" fill="#6b9494"/>
<rect x="350" y="80" width="8" height="8" fill="#689797"/>
<rect x="358" y="80" width="8" height="8" fill="#639c9c"/>
<rect x="366" y="80" width="8" height="8" fill="#5da2a2"/>
<rect x="374" y="80" width="8" height="8" fill="#57a8a8"/>
<rect x="382" y="80" width="8" height="8" fill="#50afaf"/>
<rect x="390" y="80" width="8" height="8" fill="#48b7b7"/>
<rect x="398" y="80" width="8" height="8" fill="#41bebe"/>
<rect x="406" y="80" width="8" height="8" fill="#39c6c6"/>
<rect x="414" y="80" width="8" height="8" fill="#31cece"/>
<rect x="422" y="80" width="8" height="8" fill="#29d6d6"/>
<rect x="430" y="80" width="8" height="8" fill="#22dddd"/>
<rect x="438" y="80" width="8" height="8" fill="#1ce3e3"/>
<rect x="446" y="80" width="8" height="8" fill="#15eaea"/>
<rect x="454" y="80" width="8" height="8" fill="#10efef"/>
<rect x="462" y="80" width="8" height="8" fill="#0bf4f4"/>
<rect x="470" y="80" width="8" height="8" fill="#07f8f8"/>
<rect x="478" y="80" width="8" height="8" fill="#03fcfc"/>
<rect x="486" y="80" width="8" height="8" fill="#00ffff"/>
<rect x="494" y="80" width="8" height="8" fill="#00fcff"/>
<rect x="502" y="80" width="8" height="8" fill="#00faff"/>
<rect x="510" y="80" width="8" height="8" fill="#00f8ff"/>
<rect x="518" y="80" width="8" height="8" fill="#00f6ff"/>
<rect x="526" y="80" width="8" height="8" fill="#00f5ff"/>
<rect x="534" y="80" width="16" height="8" fill="#00f4ff"/>
<rect x="550" y="80" width="32" height="8" fill="#00f3ff"/>
<rect x="38" y="88" width="8" height="8" fill="#05fafa"/>
<rect x="46" y="88" width="8" height="8" fill="#08f7f7"/>
<rect x="54" y="88" width="8" height="8" fill="#0af5f5"/>
<rect x="62" y="88" width="8" height="8" fill="#0df2f2"/>
<rect x="70" y="88" width="8" height="8" fill="#10efef"/>
<rect x="78" y="88" width="8" height="8" fill="#14ebeb"/>
<rect x="86" y="88" width="8" height="8" fill="#18e7e7"/>
<rect x="94" y="88" width="8" height="8" fill="#1ce3e3"/>
<rect x="102" y="88" width="8" height="8" fill="#1fe0e0"/>
<rect x="110" y="88" width="8" height="8" fill="#23dcdc"/>
<rect x="118" y="88" width="8" height="8" fill="#26d9d9"/>
<rect x="126" y="88" width="8" height="8" fill="#2ad5d5"/>
<rect x="134" y="88" width="8" height="8" fill="#2ed1d1"/>
<rect x="142" y="88" width="8" height="8" fill="#32cdcd"/>
<rect x="150" y="88" width="8" height="8" fill="#37c8c8"/>
<rect x="158" y="88" width="8" height="8" fill="#3cc3c3"/>
<rect x="166" y="88" width="8" height="8" fill="#42bdbd"/>
<rect x="174" y="88" width="8" height="8" fill="#47b8b8"/>
<rect x="182" y="88" width="8" height="8" fill="#4db2b2"/>
<rect x="190" y="88" width="8" height="8" fill="#52adad"/>
<rect x="198" y="88" width="8" height="8" fill="#57a8a8"/>
<rect x="206" y="88" width="8" height="8" fill="#5ba4a4"/>
<rect x="214" y="88" width="8" height="8" fill="#609f9f"/>
<rect x="222" y="88" width="8" height="8" fill="#639c9c"/>
<rect x="230" y="88" width="8" height="8" fill="#679898"/>
<rect x="238" y="88" width="8" height="8" fill="#6a9595"/>
<rect x="246" y="88" width="8" height="8" fill="#6d9292"/>
<rect x="254" y="88" width="8" height="8" fill="#708f8f"/>
<rect x="262" y="88" width="8" height="8" fill="#728d8d"/>
<rect x="270" y="88" width="8" height="8" fill="#758a8a"/>
<rect x="278" y="88" width="8" height="8" fill="#768989"/>
<rect x="286" y="88" width="8" height="8" fill="#788787"/>
<rect x="294" y="88" width="8" height="8" fill="#798686"/>
<rect x="302" y="88" width="24" height="8" fill="#7a8585"/>
<rect x="326" y="88" width="8" height="8" fill="#788787"/>
<rect x="334" y="88" width="8" height="8" fill="#768989"/>
<rect x="342" y="88" width="8" height="8" fill="#738c8c"/>
<rect x="350" y="88" width="8" height="8" fill="#6f9090"/>
<rect x="358" y="88" width="8" height="8" fill="#6a9595"/>
<rect x="366" y="88" width="8" height="8" fill="#649b9b"/>
<rect x="374" y="88" width="8" height="8" fill="#5ea1a1"/>
<rect x="382" y="88" width="8" height="8" fill="#56a9a9"/>
<rect x="390" y="88" width="8" height="8" fill="#4eb1b1"/>
<rect x="398" y="88" width="8" height="8" fill="#46b9b9"/>
<rect x="406" y="88" width="8" height="8" fill="#3dc2c2"/>
<rect x="414" y="88" width="8" height="8" fill="#35caca"/>
<rect x="422" y="88" width="8" height="8" fill="#2dd2d2"/>
<rect x="430" y="88" width="8" height="8" fill="#25dada"/>
<rect x="438" y="88" width="8" height="8" fill="#1ee1e1"/>
<rect x="446" y="88" width="8" height="8" fill="#18e7e7"/>
<rect x="454" y="88" width="8" height="8" fill="#12eded"/>
<rect x="462" y="88" width="8" height="8" fill="#0df2f2"/>
<rect x="470" y="88" width="8" height="8" fill="#09f6f6"/>
<rect x="478" y="88" width="8" height="8" fill="#05fafa"/>
<rect x="486" y="88" width="8" height="8" fill="#02fdfd"/>
<rect x="494" y="88" width="8" height="8" fill="#00feff"/>
<rect x="502" y="88" width="8" height="8" fill="#00fcff"/>
<rect x="510" y="88" width="8" height="8" fill="#00fbff"/>
<rect x="518" y="88" width="8" height="8" fill="#00f9ff"/>
<rect x="526" y="88" width="16" height="8" fill="#00f8ff"/>
<rect x="542" y="88" width="24" height="8" fill="#00f7ff"/>
<rect x="566" y="88" width="16" height="8" fill="#00f6ff"/>
<rect x="38" y="96" width="8" height="8" fill="#05fafa"/>
<rect x="46" y="96" width="8" height="8" fill="#08f7f7"/>
<rect x="54" y="96" width="8" height="8" fill="#0bf4f4"/>
<rect x="62" y="96" width="8" height="8" fill="#0df2f2"/>
<rect x="70" y="96" width="8" height="8" fill="#11eeee"/>
<rect x="78" y="96" width="8" height="8" fill="#15eaea"/>
<rect x="86" y="96" width="8" height="8" fill="#19e6e6"/>
<rect x="94" y="96" width="8" height="8" fill="#1de2e2"/>
<rect x="102" y="96" width="8" height="8" fill="#21dede"/>
<rect x="110" y="96" width="8" height="8" fill="#24dbdb"/>
<rect x="118" y="96" width="8" height="8" fill="#28d7d7"/>
<rect x="126" y="96" width="8" height="8" fill="#2bd4d4"/>
<rect x="134" y="96" width="8" height="8" fill="#2fd0d0"/>
<rect x="142" y="96" width="8" height="8" fill="#34cbcb"/>
<rect x="150" y="96" width="8" height="8" fill="#39c6c6"/>
<rect x="158" y="96" width="8" height="8" fill="#3fc0c0"/>
<rect x="166" y="96" width="8" height="8" fill="#45baba"/>
<rect x="174" y="96" width="8" height="8" fill="#4bb4b4"/>
<rect x="182" y="96" width="8" height="8" fill="#51aeae"/>
<rect x="190" y="96" width="8" height="8" fill="#56a9a9"/>
<rect x="198" y="96" width="8" height="8" fill="#5ba4a4"/>
<rect x="206" y="96" width="8" height="8" fill="#609f9f"/>
<rect x="214" y="96" width="8" height="8" fill="#649b9b"/>
<rect x="222" y="96" width="8" height="8" fill="#689797"/>
<rect x="230" y="96" width="8" height="8" fill="#6c9393"/>
<rect x="238" y="96" width="8" height="8" fill="#708f8f"/>
<rect x="246" y="96" width="8" height="8" fill="#738c8c"/>
<rect x="254" y="96" width="8" height="8" fill="#758a8a"/>
<rect x="262" y="96" width="8" height="8" fill="#788787"/>
<rect x="270" y="96" width="8" height="8" fill="#7a8585"/>
<rect x="278" y="96" width="8" height="8" fill="#7c8383"/>
<rect x="286" y="96" width="8" height="8" fill="#7e8181"/>
<rect x="294" y="96" width="8" height="8" fill="#7f8080"/>
<rect x="302" y="96" width="24" height="8" fill="#817e7e"/>
<rect x="326" y="96" width="8" height="8" fill="#807f7f"/>
<rect x="334" y="96" width="8" height="8" fill="#7e8181"/>
<rect x="342" y="96" width="8" height="8" fill="#7c8383"/>
<rect x="350" y="96" width="8" height="8" fill="#788787"/>
<rect x="358" y="96" width="8" height="8" fill="#728d8d"/>
<rect x="366" y="96" width="8" height="8" fill="#6c9393"/>
<rect x="374" y="96" width="8" height="8" fill="#659a9a"/>
<rect x="382" y="96" width="8" height="8" fill="#5da2a2"/>
<rect x="390" y="96" width="8" height="8" fill="#54abab"/>
<rect x="398" y="96" width="8" height="8" fill="#4bb4b4"/>
<rect x="406" y="96" width="8" height="8" fill="#42bdbd"/>
<rect x="414" y="96" width="8" height="8" fill="#39c6c6"/>
<rect x="422" y="96" width="8" height="8" fill="#30cfcf"/>
<rect x="430" y="96" width="8" height="8" fill="#28d7d7"/>
<rect x="438" y="96" width="8" height="8" fill="#21dede"/>
<rect x="446" y="96" width="8" height="8" fill="#1ae5e5"/>
<rect x="454" y="96" width="8" height="8" fill="#14ebeb"/>
<rect x="462" y="96" width="8" height="8" fill="#0ff0f0"/>
<rect x="470" y="96" width="8" height="8" fill="#0bf4f4"/>
<rect x="478" y="96" width="8" height="8" fill="#07f8f8"/>
<rect x="486" y="96" width="8" height="8" fill="#04fbfb"/>
<rect x="494" y="96" width="8" height="8" fill="#02fdfd"/>
<rect x="502" y="96" width="8" height="8" fill="#00ffff"/>
<rect x="510" y="96" width="8" height="8" fill="#00feff"/>
<rect x="518" y="96" width="16" height="8" fill="#00fcff"/>
<rect x="534" y="96" width="16" height="8" fill="#00fbff"/>
<rect x="550" y="96" width="24" height="8" fill="#00faff"/>
<rect x="574" y="96" width="8" height="8" fill="#00fbff"/>
<rect x="38" y="104" width="8" height="8" fill="#06f9f9"/>
<rect x="46" y="104" width="8" height="8" fill="#08f7f7"/>
<rect x="54" y="104" width="8" height="8" fill="#0bf4f4"/>
<rect x="62" y="104" width="8" height="8" fill="#0df2f2"/>
<rect x="70" y="104" width="8" height="8" fill="#11eeee"/>
<rect x="78" y="104" width="8" height="8" fill="#15eaea"/>
<rect x="86" y="104" width="8" height="8" fill="#19e6e6"/>
<rect x="94" y="104" width="8" height="8" fill="#1ee1e1"/>
<rect x="102" y="104" width="8" height="8" fill="#22dddd"/>
<rect x="110" y="104" width="8" height="8" fill="#26d9d9"/>
<rect x="118" y="104" width="8" height="8" fill="#29d6d6"/>
<rect x="126" y="104" width="8" height="8" fill="#2cd3d3"/>
<rect x="134" y="104" width="8" height="8" fill="#30cfcf"/>
<rect x="142" y="104" width="8" height="8" fill="#35caca"/>
<rect x="150" y="104" width="8" height="8" fill="#3bc4c4"/>
<rect x="158" y="104" width="8" height="8" fill="#41bebe"/>
<rect x="166" y="104" width="8" height="8" fill="#48b7b7"/>
<rect x="174" y="104" width="8" height="8" fill="#4fb0b0"/>
<rect x="182" y="104" width="8" height="8" fill="#55aaaa"/>
<rect x="190" y="104" width="8" height="8" fill="#5ba4a4"/>
<rect x="198" y="104" width="8" height="8" fill="#609f9f"/>
<rect x="206" y="104" width="8" height="8" fill="#659a9a"/>
<rect x="214" y="104" width="8" height="8" fill="#699696"/>
<rect x="222" y="104" width="8" height="8" fill="#6e9191"/>
<rect x="230" y="104" width="8" height="8" fill="#718e8e"/>
<rect x="238" y="104" width="8" height="8" fill="#758a8a"/>
<rect x="246" y="104" width="8" height="8" fill="#788787"/>
<rect x="254" y="104" width="8" height="8" fill="#7b8484"/>
<rect x="262" y="104" width="8" height="8" fill="#7d8282"/>
<rect x="270" y="104" width="8" height="8" fill="#807f7f"/>
<rect x="278" y="104" width="8" height="8" fill="#827d7d"/>
<rect x="286" y="104" width="8" height="8" fill="#847b7b"/>
<rect x="294" y="104" width="8" height="8" fill="#867979"/>
<rect x="302" y="104" width="8" height="8" fill="#877878"/>
<rect x="310" y="104" width="8" height="8" fill="#887777"/>
<rect x="318" y="104" width="8" height="8" fill="#897676"/>
<rect x="326" y="104" width="8" height="8" fill="#887777"/>
<rect x="334" y="104" width="8" height="8" fill="#877878"/>
<rect x="342" y="104" width="8" height="8" fill="#847b7b"/>
<rect x="350" y="104" width="8" height="8" fill="#807f7f"/>
<rect x="358" y="104" width="8" height="8" fill="#7b8484"/>
<rect x="366" y="104" width="8" height="8" fill="#748b8b"/>
<rect x="374" y="104" width="8" height="8" fill="#6c9393"/>
<rect x="382" y="104" width="8" height="8" fill="#649b9b"/>
<rect x="390" y="104" width="8" height="8" fill="#5aa5a5"/>
<rect x="398" y="104" width="8" height="8" fill="#50afaf"/>
<rect x="406" y="104" width="8" height="8" fill="#46b9b9"/>
<rect x="414" y="104" width="8" height="8" fill="#3cc3c3"/>
<rect x="422" y="104" width="8" height="8" fill="#33cccc"/>
<rect x="430" y="104" width="8" height="8" fill="#2ad5d5"/>
<rect x="438" y="104" width="8" height="8" fill="#23dcdc"/>
<rect x="446" y="104" width="8" height="8" fill="#1ce3e3"/>
<rect x="454" y="104" width="8" height="8" fill="#16e9e9"/>
<rect x="462" y="104" width="8" height="8" fill="#11eeee"/>
<rect x="470" y="104" width="8" height="8" fill="#0df2f2"/>
<rect x="478" y="104" width="8" height="8" fill="#0af5f5"/>
<rect x="486" y="104" width="8" height="8" fill="#07f8f8"/>
<rect x="494" y="104" width="8" height="8" fill="#05fafa"/>
<rect x="502" y="104" width="8" height="8" fill="#03fcfc"/>
<rect x="510" y="104" width="8" height="8" fill="#02fdfd"/>
<rect x="518" y="104" width="8" height="8" fill="#01fefe"/>
<rect x="526" y="104" width="24" height="8" fill="#00ffff"/>
<rect x="550" y="104" width="8" height="8" fill="#00feff"/>
<rect x="558" y="104" width="24" height="8" fill="#00ffff"/>
<rect x="38" y="112" width="8" height="8" fill="#06f9f9"/>
<rect x="46" y="112" width="8" height="8" fill="#08f7f7"/>
<rect x="54" y="112" width="8" height="8" fill="#0bf4f4"/>
<rect x="62" y="112" width="8" height="8" fill="#0df2f2"/>
<rect x="70" y="112" width="8" height="8" fill="#10efef"/>
<rect x="78" y="112" width="8" height="8" fill="#15eaea"/>
<rect x="86" y="112" width="8" height="8" fill="#1ae5e5"/>
<rect x="94" y="112" width="8" height="8" fill="#1fe0e0"/>
<rect x="102" y="112" width="8" height="8" fill="#24dbdb"/>
<rect x="110" y="112" width="8" height="8" fill="#27d8d8"/>
<rect x="118" y="112" width="8" height="8" fill="#2ad5d5"/>
<rect x="126" y="112" width="8" height="8" fill="#2dd2d2"/>
<rect x="134" y="112" width="8" height="8" fill="#31cece"/>
<rect x="142" y="112" width="8" height="8" fill="#36c9c9"/>
<rect x="150" y="112" width="8" height="8" fill="#3dc2c2"/>
<rect x="158" y="112" width="8" height="8" fill="#44bbbb"/>
<rect x="166" y="112" width="8" height="8" fill="#4cb3b3"/>
<rect x="174" y="112" width="8" height="8" fill="#53acac"/>
<rect x="182" y="112" width="8" height="8" fill="#5aa5a5"/>
<rect x="190" y="112" width="8" height="8" fill="#609f9f"/>
<rect x="198" y="112" width="8" height="8" fill="#659a9a"/>
<rect x="206" y="112" width="8" height="8" fill="#6a9595"/>
<rect x="214" y="112" width="8" height="8" fill="#6f9090"/>
<rect x="222" y="112" width="8" height="8" fill="#738c8c"/>
<rect x="230" y="112" width="8" height="8" fill="#768989"/>
<rect x="238" y="112" width="8" height="8" fill="#7a8585"/>
<rect x="246" y="112" width="8" height="8" fill="#7d8282"/>
<rect x="254" y="112" width="8" height="8" fill="#807f7f"/>
<rect x="262" y="112" width="8" height="8" fill="#827d7d"/>
<rect x="270" y="112" width="8" height="8" fill="#857a7a"/>
<rect x="278" y="112" width="8" height="8" fill="#877878"/>
<rect x="286" y="112" width="8" height="8" fill="#8a7575"/>
<rect x="294" y="112" width="8" height="8" fill="#8c7373"/>
<rect x="302" y="112" width="8" height="8" fill="#8e7171"/>
<rect x="310" y="112" width="8" height="8" fill="#8f7070"/>
<rect x="318" y="112" width="16" height="8" fill="#906f6f"/>
<rect x="334" y="112" width="8" height="8" fill="#8f7070"/>
<rect x="342" y="112" width="8" height="8" fill="#8d7272"/>
<rect x="350" y="112" width="8" height="8" fill="#897676"/>
<rect x="358" y="112" width="8" height="8" fill="#847b7b"/>
<rect x="366" y="112" width="8" height="8" fill="#7d8282"/>
<rect x="374" y="112" width="8" height="8" fill="#758a8a"/>
<rect x="382" y="112" width="8" height="8" fill="#6b9494"/>
<rect x="390" y="112" width="8" height="8" fill="#609f9f"/>
<rect x="398" y="112" width="8" height="8" fill="#55aaaa"/>
<rect x="406" y="112" width="8" height="8" fill="#4ab5b5"/>
<rect x="414" y="112" width="8" height="8" fill="#40bfbf"/>
<rect x="422" y="112" width="8" height="8" fill="#36c9c9"/>
<rect x="430" y="112" width="8" height="8" fill="#2dd2d2"/>
<rect x="438" y="112" width="8" height="8" fill="#25dada"/>
<rect x="446" y="112" width="8" height="8" fill="#1ee1e1"/>
<rect x="454" y="112" width="8" height="8" fill="#18e7e7"/>
<rect x="462" y="112" width="8" height="8" fill="#13ecec"/>
<rect x="470" y="112" width="8" height="8" fill="#0ff0f0"/>
<rect x="478" y="112" width="8" height="8" fill="#0cf3f3"/>
<rect x="486" y="112" width="8" height="8" fill="#0af5f5"/>
<rect x="494" y="112" width="8" height="8" fill="#08f7f7"/>
<rect x="502" y="112" width="8" height="8" fill="#06f9f9"/>
<rect x="510" y="112" width="8" height="8" fill="#05fafa"/>
<rect x="518" y="112" width="64" height="8" fill="#04fbfb"/>
<rect x="38" y="120" width="8" height="8" fill="#06f9f9"/>
<rect x="46" y="120" width="8" height="8" fill="#08f7f7"/>
<rect x="54" y="120" width="8" height="8" fill="#0af5f5"/>
<rect x="62" y="120" width="8" height="8" fill="#0cf3f3"/>
<rect x="70" y="120" width="8" height="8" fill="#0ff0f0"/>
<rect x="78" y="120" width="8" height="8" fill="#14ebeb"/>
<rect x="86" y="120" width="8" height="8" fill="#1ae5e5"/>
<rect x="94" y="120" width="8" height="8" fill="#20dfdf"/>
<rect x="102" y="120" width="8" height="8" fill="#25dada"/>
<rect x="110" y="120" width="8" height="8" fill="#28d7d7"/>
<rect x="118" y="120" width="8" height="8" fill="#2bd4d4"/>
<rect x="126" y="120" width="8" height="8" fill="#2dd2d2"/>
<rect x="134" y="120" width="8" height="8" fill="#31cece"/>
<rect x="142" y="120" width="8" height="8" fill="#37c8c8"/>
<rect x="150" y="120" width="8" height="8" fill="#3fc0c0"/>
<rect x="158" y="120" width="8" height="8" fill="#47b8b8"/>
<rect x="166" y="120" width="8" height="8" fill="#50afaf"/>
<rect x="174" y="120" width="8" height="8" fill="#58a7a7"/>
<rect x="182" y="120" width="8" height="8" fill="#5fa0a0"/>
<rect x="190" y="120" width="8" height="8" fill="#659a9a"/>
<rect x="198" y="120" width="8" height="8" fill="#6a9595"/>
<rect x="206" y="120" width="8" height="8" fill="#6f9090"/>
<rect x="214" y="120" width="8" height="8" fill="#748b8b"/>
<rect x="222" y="120" width="8" height="8" fill="#788787"/>
<rect x="230" y="120" width="8" height="8" fill="#7b8484"/>
<rect x="238" y="120" width="8" height="8" fill="#7f8080"/>
<rect x="246" y="120" width="8" height="8" fill="#827d7d"/>
<rect x="254" y="120" width="8" height="8" fill="#847b7b"/>
<rect x="262" y="120" width="8" height="8" fill="#877878"/>
<rect x="270" y="120" width="8" height="8" fill="#8a7575"/>
<rect x="278" y="120" width="8" height="8" fill="#8c7373"/>
<rect x="286" y="120" width="8" height="8" fill="#8f7070"/>
<rect x="294" y="120" width="8" height="8" fill="#916e6e"/>
<rect x="302" y="120" width="8" height="8" fill="#946b6b"/>
<rect x="310" y="120" width="8" height="8" fill="#966969"/>
<rect x="318" y="120" width="8" height="8" fill="#976868"/>
<rect x="326" y="120" width="16" height="8" fill="#986767"/>
<rect x="342" y="120" width="8" height="8" fill="#966969"/>
<rect x="350" y="120" width="8" height="8" fill="#936c6c"/>
<rect x="358" y="120" width="8" height="8" fill="#8e7171"/>
<rect x="366" y="120" width="8" height="8" fill="#867979"/>
<rect x="374" y="120" width="8" height="8" fill="#7d8282"/>
<rect x="382" y="120" width="8" height="8" fill="#728d8d"/>
<rect x="390" y="120" width="8" height="8" fill="#679898"/>
<rect x="398" y="120" width="8" height="8" fill="#5ba4a4"/>
<rect x="406" y="120" width="8" height="8" fill="#4eb1b1"/>
<rect x="414" y="120" width="8" height="8" fill="#43bcbc"/>
<rect x="422" y="120" width="8" height="8" fill="#38c7c7"/>
<rect x="430" y="120" width="8" height="8" fill="#2fd0d0"/>
<rect x="438" y="120" width="8" height="8" fill="#27d8d8"/>
<rect x="446" y="120" width="8" height="8" fill="#20dfdf"/>
<rect x="454" y="120" width="8" height="8" fill="#1ae5e5"/>
<rect x="462" y="120" width="8" height="8" fill="#15eaea"/>
<rect x="470" y="120" width="8" height="8" fill="#12eded"/>
<rect x="478" y="120" width="8" height="8" fill="#0ff0f0"/>
<rect x="486" y="120" width="8" height="8" fill="#0cf3f3"/>
<rect x="494" y="120" width="8" height="8" fill="#0bf4f4"/>
<rect x="502" y="120" width="8" height="8" fill="#0af5f5"/>
<rect x="510" y="120" width="8" height="8" fill="#09f6f6"/>
<rect x="518" y="120" width="40" height="8" fill="#08f7f7"/>
<rect x="558" y="120" width="24" height="8" fill="#09f6f6"/>
<rect x="38" y="128" width="8" height="8" fill="#06f9f9"/>
<rect x="46" y="128" width="8" height="8" fill="#08f7f7"/>
<rect x="54" y="128" width="8" height="8" fill="#0af5f5"/>
<rect x="62" y="128" width="8" height="8" fill="#0cf3f3"/>
<rect x="70" y="128" width="8" height="8" fill="#0ef1f1"/>
<rect x="78" y="128" width="8" height="8" fill="#12eded"/>
<rect x="86" y="128" width="8" height="8" fill="#19e6e6"/>
<rect x="94" y="128" width="8" height="8" fill="#21dede"/>
<rect x="102" y="128" width="8" height="8" fill="#25dada"/>
<rect x="110" y="128" width="8" height="8" fill="#28d7d7"/>
<rect x="118" y="128" width="8" height="8" fill="#2bd4d4"/>
<rect x="126" y="128" width="8" height="8" fill="#2dd2d2"/>
<rect x="134" y="128" width="8" height="8" fill="#31cece"/>
<rect x="142" y="128" width="8" height="8" fill="#38c7c7"/>
<rect x="150" y="128" width="8" height="8" fill="#42bdbd"/>
<rect x="158" y="128" width="8" height="8" fill="#4cb3b3"/>
<rect x="166" y="128" width="8" height="8" fill="#55aaaa"/>
<rect x="174" y="128" width="8" height="8" fill="#5da2a2"/>
<rect x="182" y="128" width="8" height="8" fill="#649b9b"/>
<rect x="190" y="128" width="8" height="8" fill="#6a9595"/>
<rect x="198" y="128" width="8" height="8" fill="#6f9090"/>
<rect x="206" y="128" width="8" height="8" fill="#748b8b"/>
<rect x="214" y="128" width="8" height="8" fill="#798686"/>
<rect x="222" y="128" width="8" height="8" fill="#7d8282"/>
<rect x="230" y="128" width="8" height="8" fill="#807f7f"/>
<rect x="238" y="128" width="8" height="8" fill="#837c7c"/>
<rect x="246" y="128" width="8" height="8" fill="#867979"/>
<rect x="254" y="128" width="8" height="8" fill="#897676"/>
<rect x="262" y="128" width="8" height="8" fill="#8b7474"/>
<rect x="270" y="128" width="8" height="8" fill="#8e7171"/>
<rect x="278" y="128" width="8" height="8" fill="#916e6e"/>
<rect x="286" y="128" width="8" height="8" fill="#936c6c"/>
<rect x="294" y="128" width="8" height="8" fill="#966969"/>
<rect x="302" y="128" width="8" height="8" fill="#996666"/>
<rect x="310" y="128" width="8" height="8" fill="#9c6363"/>
<rect x="318" y="128" width="8" height="8" fill="#9f6060"/>
<rect x="326" y="128" width="8" height="8" fill="#a05f5f"/>
<rect x="334" y="128" width="8" height="8" fill="#a15e5e"/>
<rect x="342" y="128" width="8" height="8" fill="#a05f5f"/>
<rect x="350" y="128" width="8" height="8" fill="#9d6262"/>
<rect x="358" y="128" width="8" height="8" fill="#986767"/>
<rect x="366" y="128" width="8" height="8" fill="#906f6f"/>
<rect x="374" y="128" width="8" height="8" fill="#867979"/>
<rect x="382" y="128" width="8" height="8" fill="#7a8585"/>
<rect x="390" y="128" width="8" height="8" fill="#6d9292"/>
<rect x="398" y="128" width="8" height="8" fill="#609f9f"/>
<rect x="406" y="128" width="8" height="8" fill="#52adad"/>
<rect x="414" y="128" width="8" height="8" fill="#46b9b9"/>
<rect x="422" y="128" width="8" height="8" fill="#3bc4c4"/>
<rect x="430" y="128" width="8" height="8" fill="#31cece"/>
<rect x="438" y="128" width="8" height="8" fill="#29d6d6"/>
<rect x="446" y="128" width="8" height="8" fill="#22dddd"/>
<rect x="454" y="128" width="8" height="8" fill="#1ce3e3"/>
<rect x="462" y="128" width="8" height="8" fill="#18e7e7"/>
<rect x="470" y="128" width="8" height="8" fill="#14ebeb"/>
<rect x="478" y="128" width="8" height="8" fill="#11eeee"/>
<rect x="486" y="128" width="8" height="8" fill="#10efef"/>
<rect x="494" y="128" width="8" height="8" fill="#0ef1f1"/>
<rect x="502" y="128" width="56" height="8" fill="#0df2f2"/>
<rect x="558" y="128" width="16" height="8" fill="#0ef1f1"/>
<rect x="574" y="128" width="8" height="8" fill="#0ff0f0"/>
<rect x="38" y="136" width="8" height="8" fill="#06f9f9"/>
<rect x="46" y="136" width="8" height="8" fill="#08f7f7"/>
<rect x="54" y="136" width="8" height="8" fill="#09f6f6"/>
<rect x="62" y="136" width="8" height="8" fill="#0bf4f4"/>
<rect x="70" y="136" width="8" height="8" fill="#0ef1f1"/>
<rect x="78" y="136" width="8" height="8" fill="#12eded"/>
<rect x="86" y="136" width="8" height="8" fill="#18e7e7"/>
<rect x="94" y="136" width="8" height="8" fill="#1fe0e0"/>
<rect x="102" y="136" width="8" height="8" fill="#24dbdb"/>
<rect x="110" y="136" width="8" height="8" fill="#28d7d7"/>
<rect x="118" y="136" width="8" height="8" fill="#2bd4d4"/>
<rect x="126" y="136" width="8" height="8" fill="#2dd2d2"/>
<rect x="134" y="136" width="8" height="8" fill="#31cece"/>
<rect x="142" y="136" width="8" height="8" fill="#3bc4c4"/>
<rect x="150" y="136" width="8" height="8" fill="#47b8b8"/>
<rect x="158" y="136" width="8" height="8" fill="#52adad"/>
<rect x="166" y="136" width="8" height="8" fill="#5ca3a3"/>
<rect x="174" y="136" width="8" height="8" fill="#639c9c"/>
<rect x="182" y="136" width="8" height="8" fill="#6a9595"/>
<rect x="190" y="136" width="8" height="8" fill="#6f9090"/>
<rect x="198" y="136" width="8" height="8" fill="#758a8a"/>
<rect x="206" y="136" width="8" height="8" fill="#798686"/>
<rect x="214" y="136" width="8" height="8" fill="#7e8181"/>
<rect x="222" y="136" width="8" height="8" fill="#817e7e"/>
<rect x="230" y="136" width="8" height="8" fill="#857a7a"/>
<rect x="238" y="136" width="8" height="8" fill="#887777"/>
<rect x="246" y="136" width="8" height="8" fill="#8a7575"/>
<rect x="254" y="136" width="8" height="8" fill="#8d7272"/>
<rect x="262" y="136" width="8" height="8" fill="#8f7070"/>
<rect x="270" y="136" width="8" height="8" fill="#926d6d"/>
<rect x="278" y="136" width="8" height="8" fill="#956a6a"/>
<rect x="286" y="136" width="8" height="8" fill="#976868"/>
<rect x="294" y="136" width="8" height="8" fill="#9b6464"/>
<rect x="302" y="136" width="8" height="8" fill="#9e6161"/>
<rect x="310" y="136" width="8" height="8" fill="#a25d5d"/>
<rect x="318" y="136" width="8" height="8" fill="#a55a5a"/>
<rect x="326" y="136" width="8" height="8" fill="#a85757"/>
<rect x="334" y="136" width="16" height="8" fill="#aa5555"/>
<rect x="350" y="136" width="8" height="8" fill="#a85757"/>
<rect x="358" y="136" width="8" height="8" fill="#a35c5c"/>
<rect x="366" y="136" width="8" height="8" fill="#9b6464"/>
<rect x="374" y="136" width="8" height="8" fill="#906f6f"/>
<rect x="382" y="136" width="8" height="8" fill="#837c7c"/>
<rect x="390" y="136" width="8" height="8" fill="#748b8b"/>
<rect x="398" y="136" width="8" height="8" fill="#659a9a"/>
<rect x="406" y="136" width="8" height="8" fill="#56a9a9"/>
<rect x="414" y="136" width="8" height="8" fill="#49b6b6"/>
<rect x="422" y="136" width="8" height="8" fill="#3dc2c2"/>
<rect x="430" y="136" width="8" height="8" fill="#32cdcd"/>
<rect x="438" y="136" width="8" height="8" fill="#2ad5d5"/>
<rect x="446" y="136" width="8" height="8" fill="#23dcdc"/>
<rect x="454" y="136" width="8" height="8" fill="#1ee1e1"/>
<rect x="462" y="136" width="8" height="8" fill="#1ae5e5"/>
<rect x="470" y="136" width="8" height="8" fill="#17e8e8"/>
<rect x="478" y="136" width="8" height="8" fill="#15eaea"/>
<rect x="486" y="136" width="8" height="8" fill="#13ecec"/>
<rect x="494" y="136" width="16" height="8" fill="#12eded"/>
<rect x="510" y="136" width="16" height="8" fill="#11eeee"/>
<rect x="526" y="136" width="24" height="8" fill="#12eded"/>
<rect x="550" y="136" width="16" height="8" fill="#13ecec"/>
<rect x="566" y="136" width="16" height="8" fill="#14ebeb"/>
<rect x="38" y="144" width="8" height="8" fill="#06f9f9"/>
<rect x="46" y="144" width="8" height="8" fill="#07f8f8"/>
<rect x="54" y="144" width="8" height="8" fill="#09f6f6"/>
<rect x="62" y="144" width="8" height="8" fill="#0cf3f3"/>
<rect x="70" y="144" width="8" height="8" fill="#0ff0f0"/>
<rect x="78" y="144" width="8" height="8" fill="#13ecec"/>
<rect x="86" y="144" width="8" height="8" fill="#18e7e7"/>
<rect x="94" y="144" width="8" height="8" fill="#1ee1e1"/>
<rect x="102" y="144" width="8" height="8" fill="#24dbdb"/>
<rect x="110" y="144" width="8" height="8" fill="#2bd4d4"/>
<rect x="118" y="144" width="8" height="8" fill="#30cfcf"/>
<rect x="126" y="144" width="8" height="8" fill="#33cccc"/>
<rect x="134" y="144" width="8" height="8" fill="#36c9c9"/>
<rect x="142" y="144" width="8" height="8" fill="#42bdbd"/>
<rect x="150" y="144" width="8" height="8" fill="#50afaf"/>
<rect x="158" y="144" width="8" height="8" fill="#5ba4a4"/>
<rect x="166" y="144" width="8" height="8" fill="#639c9c"/>
<rect x="174" y="144" width="8" height="8" fill="#699696"/>
<rect x="182" y="144" width="8" height="8" fill="#6f9090"/>
<rect x="190" y="144" width="8" height="8" fill="#748b8b"/>
<rect x="198" y="144" width="8" height="8" fill="#7a8585"/>
<rect x="206" y="144" width="8" height="8" fill="#7e8181"/>
<rect x="214" y="144" width="8" height="8" fill="#827d7d"/>
<rect x="222" y="144" width="8" height="8" fill="#867979"/>
<rect x="230" y="144" width="8" height="8" fill="#897676"/>
<rect x="238" y="144" width="8" height="8" fill="#8c7373"/>
<rect x="246" y="144" width="8" height="8" fill="#8f7070"/>
<rect x="254" y="144" width="8" height="8" fill="#916e6e"/>
<rect x="262" y="144" width="8" height="8" fill="#936c6c"/>
<rect x="270" y="144" width="8" height="8" fill="#956a6a"/>
<rect x="278" y="144" width="8" height="8" fill="#986767"/>
<rect x="286" y="144" width="8" height="8" fill="#9b6464"/>
<rect x="294" y="144" width="8" height="8" fill="#9e6161"/>
<rect x="302" y="144" width="8" height="8" fill="#a25d5d"/>
<rect x="310" y="144" width="8" height="8" fill="#a75858"/>
<rect x="318" y="144" width="8" height="8" fill="#ab5454"/>
<rect x="326" y="144" width="8" height="8" fill="#b04f4f"/>
<rect x="334" y="144" width="8" height="8" fill="#b34c4c"/>
<rect x="342" y="144" width="8" height="8" fill="#b54a4a"/>
<rect x="350" y="144" width="8" height="8" fill="#b34c4c"/>
<rect x="358" y="144" width="8" height="8" fill="#af5050"/>
<rect x="366" y="144" width="8" height="8" fill="#a75858"/>
<rect x="374" y="144" width="8" height="8" fill="#9b6464"/>
<rect x="382" y="144" width="8" height="8" fill="#8c7373"/>
<rect x="390" y="144" width="8" height="8" fill="#7b8484"/>
<rect x="398" y="144" width="8" height="8" fill="#6a9595"/>
<rect x="406" y="144" width="8" height="8" fill="#59a6a6"/>
<rect x="414" y="144" width="8" height="8" fill="#4bb4b4"/>
<rect x="422" y="144" width="8" height="8" fill="#3ec1c1"/>
<rect x="430" y="144" width="8" height="8" fill="#34cbcb"/>
<rect x="438" y="144" width="8" height="8" fill="#2cd3d3"/>
<rect x="446" y="144" width="8" height="8" fill="#25dada"/>
<rect x="454" y="144" width="8" height="8" fill="#20dfdf"/>
<rect x="462" y="144" width="8" height="8" fill="#1de2e2"/>
<rect x="470" y="144" width="8" height="8" fill="#1ae5e5"/>
<rect x="478" y="144" width="8" height="8" fill="#18e7e7"/>
<rect x="486" y="144" width="16" height="8" fill="#17e8e8"/>
<rect x="502" y="144" width="16" height="8" fill="#16e9e9"/>
<rect x="518" y="144" width="24" height="8" fill="#17e8e8"/>
<rect x="542" y="144" width="16" height="8" fill="#18e7e7"/>
<rect x="558" y="144" width="16" height="8" fill="#19e6e6"/>
<rect x="574" y="144" width="8" height="8" fill="#1ae5e5"/>
<rect x="38" y="152" width="8" height="8" fill="#06f9f9"/>
<rect x="46" y="152" width="8" height="8" fill="#07f8f8"/>
<rect x="54" y="152" width="8" height="8" fill="#09f6f6"/>
<rect x="62" y="152" width="8" height="8" fill="#0cf3f3"/>
<rect x="70" y="152" width="8" height="8" fill="#11eeee"/>
<rect x="78" y="152" width="8" height="8" fill="#17e8e8"/>
<rect x="86" y="152" width="8" height="8" fill="#1de2e2"/>
<rect x="94" y="152" width="8" height="8" fill="#25dada"/>
<rect x="102" y="152" width="8" height="8" fill="#2cd3d3"/>
<rect x="110" y="152" width="8" height="8" fill="#34cbcb"/>
<rect x="118" y="152" width="8" height="8" fill="#3cc3c3"/>
<rect x="126" y="152" width="8" height="8" fill="#41bebe"/>
<rect x="134" y="152" width="8" height="8" fill="#47b8b8"/>
<rect x="142" y="152" width="8" height="8" fill="#52adad"/>
<rect x="150" y="152" width="8" height="8" fill="#5ca3a3"/>
<rect x="158" y="152" width="8" height="8" fill="#639c9c"/>
<rect x="166" y="152" width="8" height="8" fill="#689797"/>
<rect x="174" y="152" width="8" height="8" fill="#6e9191"/>
<rect x="182" y="152" width="8" height="8" fill="#738c8c"/>
<rect x="190" y="152" width="8" height="8" fill="#798686"/>
<rect x="198" y="152" width="8" height="8" fill="#7e8181"/>
<rect x="206" y="152" width="8" height="8" fill="#837c7c"/>
<rect x="214" y="152" width="8" height="8" fill="#877878"/>
<rect x="222" y="152" width="8" height="8" fill="#8b7474"/>
<rect x="230" y="152" width="8" height="8" fill="#8e7171"/>
<rect x="238" y="152" width="8" height="8" fill="#906f6f"/>
<rect x="246" y="152" width="8" height="8" fill="#926d6d"/>
<rect x="254" y="152" width="8" height="8" fill="#946b6b"/>
<rect x="262" y="152" width="8" height="8" fill="#966969"/>
<rect x="270" y="152" width="8" height="8" fill="#986767"/>
<rect x="278" y="152" width="8" height="8" fill="#9a6565"/>
<rect x="286" y="152" width="8" height="8" fill="#9d6262"/>
<rect x="294" y="152" width="8" height="8" fill="#a15e5e"/>
<rect x="302" y="152" width="8" height="8" fill="#a55a5a"/>
<rect x="310" y="152" width="8" height="8" fill="#aa5555"/>
<rect x="318" y="152" width="8" height="8" fill="#b04f4f"/>
<rect x="326" y="152" width="8" height="8" fill="#b64949"/>
<rect x="334" y="152" width="8" height="8" fill="#bb4444"/>
<rect x="342" y="152" width="16" height="8" fill="#bf4040"/>
<rect x="358" y="152" width="8" height="8" fill="#bc4343"/>
<rect x="366" y="152" width="8" height="8" fill="#b34c4c"/>
<rect x="374" y="152" width="8" height="8" fill="#a65959"/>
<rect x="382" y="152" width="8" height="8" fill="#956a6a"/>
<rect x="390" y="152" width="8" height="8" fill="#827d7d"/>
<rect x="398" y="152" width="8" height="8" fill="#6e9191"/>
<rect x="406" y="152" width="8" height="8" fill="#5ca3a3"/>
<rect x="414" y="152" width="8" height="8" fill="#4cb3b3"/>
<rect x="422" y="152" width="8" height="8" fill="#3fc0c0"/>
<rect x="430" y="152" width="8" height="8" fill="#35caca"/>
<rect x="438" y="152" width="8" height="8" fill="#2dd2d2"/>
<rect x="446" y="152" width="8" height="8" fill="#27d8d8"/>
<rect x="454" y="152" width="8" height="8" fill="#23dcdc"/>
<rect x="462" y="152" width="8" height="8" fill="#20dfdf"/>
<rect x="470" y="152" width="8" height="8" fill="#1ee1e1"/>
<rect x="478" y="152" width="8" height="8" fill="#1de2e2"/>
<rect x="486" y="152" width="32" height="8" fill="#1ce3e3"/>
<rect x="518" y="152" width="16" height="8" fill="#1de2e2"/>
<rect x="534" y="152" width="16" height="8" fill="#1ee1e1"/>
<rect x="550" y="152" width="16" height="8" fill="#1fe0e0"/>
<rect x="566" y="152" width="16" height="8" fill="#20dfdf"/>
<rect x="38" y="160" width="8" height="8" fill="#06f9f9"/>
<rect x="46" y="160" width="8" height="8" fill="#08f7f7"/>
<rect x="54" y="160" width="8" height="8" fill="#09f6f6"/>
<rect x="62" y="160" width="8" height="8" fill="#0bf4f4"/>
<rect x="70" y="160" width="8" height="8" fill="#14ebeb"/>
<rect x="78" y="160" width="8" height="8" fill="#1ee1e1"/>
<rect x="86" y="160" width="8" height="8" fill="#28d7d7"/>
<rect x="94" y="160" width="8" height="8" fill="#31cece"/>
<rect x="102" y="160" width="8" height="8" fill="#3ac5c5"/>
<rect x="110" y="160" width="8" height="8" fill="#43bcbc"/>
<rect x="118" y="160" width="8" height="8" fill="#4bb4b4"/>
<rect x="126" y="160" width="8" height="8" fill="#51aeae"/>
<rect x="134" y="160" width="8" height="8" fill="#55aaaa"/>
<rect x="142" y="160" width="8" height="8" fill="#5ca3a3"/>
<rect x="150" y="160" width="8" height="8" fill="#629d9d"/>
<rect x="158" y="160" width="8" height="8" fill="#669999"/>
<rect x="166" y="160" width="8" height="8" fill="#6b9494"/>
<rect x="174" y="160" width="8" height="8" fill="#708f8f"/>
<rect x="182" y="160" width="8" height="8" fill="#778888"/>
<rect x="190" y="160" width="8" height="8" fill="#7d8282"/>
<rect x="198" y="160" width="8" height="8" fill="#827d7d"/>
<rect x="206" y="160" width="8" height="8" fill="#877878"/>
<rect x="214" y="160" width="8" height="8" fill="#8c7373"/>
<rect x="222" y="160" width="8" height="8" fill="#8f7070"/>
<rect x="230" y="160" width="8" height="8" fill="#926d6d"/>
<rect x="238" y="160" width="8" height="8" fill="#946b6b"/>
<rect x="246" y="160" width="8" height="8" fill="#966969"/>
<rect x="254" y="160" width="8" height="8" fill="#976868"/>
<rect x="262" y="160" width="8" height="8" fill="#996666"/>
<rect x="270" y="160" width="8" height="8" fill="#9a6565"/>
<rect x="278" y="160" width="8" height="8" fill="#9c6363"/>
<rect x="286" y="160" width="8" height="8" fill="#9e6161"/>
<rect x="294" y="160" width="8" height="8" fill="#a25d5d"/>
<rect x="302" y="160" width="8" height="8" fill="#a75858"/>
<rect x="310" y="160" width="8" height="8" fill="#ad5252"/>
<rect x="318" y="160" width="8" height="8" fill="#b44b4b"/>
<rect x="326" y="160" width="8" height="8" fill="#bc4343"/>
<rect x="334" y="160" width="8" height="8" fill="#c33c3c"/>
<rect x="342" y="160" width="8" height="8" fill="#c93636"/>
<rect x="350" y="160" width="8" height="8" fill="#cc3333"/>
<rect x="358" y="160" width="8" height="8" fill="#ca3535"/>
<rect x="366" y="160" width="8" height="8" fill="#c23d3d"/>
<rect x="374" y="160" width="8" height="8" fill="#b34c4c"/>
<rect x="382" y="160" width="8" height="8" fill="#9f6060"/>
<rect x="390" y="160" width="8" height="8" fill="#897676"/>
<rect x="398" y="160" width="8" height="8" fill="#728d8d"/>
<rect x="406" y="160" width="8" height="8" fill="#5ea1a1"/>
<rect x="414" y="160" width="8" height="8" fill="#4eb1b1"/>
<rect x="422" y="160" width="8" height="8" fill="#40bfbf"/>
<rect x="430" y="160" width="8" height="8" fill="#37c8c8"/>
<rect x="438" y="160" width="8" height="8" fill="#2fd0d0"/>
<rect x="446" y="160" width="8" height="8" fill="#2ad5d5"/>
<rect x="454" y="160" width="8" height="8" fill="#26d9d9"/>
<rect x="462" y="160" width="8" height="8" fill="#24dbdb"/>
<rect x="470" y="160" width="8" height="8" fill="#23dcdc"/>
<rect x="478" y="160" width="40" height="8" fill="#22dddd"/>
<rect x="518" y="160" width="8" height="8" fill="#23dcdc"/>
<rect x="526" y="160" width="16" height="8" fill="#24dbdb"/>
<rect x="542" y="160" width="16" height="8" fill="#25dada"/>
<rect x="558" y="160" width="24" height="8" fill="#26d9d9"/>
<rect x="38" y="168" width="8" height="8" fill="#05fafa"/>
<rect x="46" y="168" width="8" height="8" fill="#08f7f7"/>
<rect x="54" y="168" width="8" height="8" fill="#0af5f5"/>
<rect x="62" y="168" width="8" height="8" fill="#0cf3f3"/>
<rect x="70" y="168" width="8" height="8" fill="#19e6e6"/>
<rect x="78" y="168" width="8" height="8" fill="#28d7d7"/>
<rect x="86" y="168" width="8" height="8" fill="#35caca"/>
<rect x="94" y="168" width="8" height="8" fill="#3fc0c0"/>
<rect x="102" y="168" width="8" height="8" fill="#48b7b7"/>
<rect x="110" y="168" width="8" height="8" fill="#4fb0b0"/>
<rect x="118" y="168" width="8" height="8" fill="#55aaaa"/>
<rect x="126" y="168" width="16" height="8" fill="#59a6a6"/>
<rect x="142" y="168" width="8" height="8" fill="#5aa5a5"/>
<rect x="150" y="168" width="8" height="8" fill="#5ea1a1"/>
<rect x="158" y="168" width="8" height="8" fill="#639c9c"/>
<rect x="166" y="168" width="8" height="8" fill="#6a9595"/>
<rect x="174" y="168" width="8" height="8" fill="#718e8e"/>
<rect x="182" y="168" width="8" height="8" fill="#798686"/>
<rect x="190" y="168" width="8" height="8" fill="#807f7f"/>
<rect x="198" y="168" width="8" height="8" fill="#867979"/>
<rect x="206" y="168" width="8" height="8" fill="#8c7373"/>
<rect x="214" y="168" width="8" height="8" fill="#906f6f"/>
<rect x="222" y="168" width="8" height="8" fill="#946b6b"/>
<rect x="230" y="168" width="8" height="8" fill="#966969"/>
<rect x="238" y="168" width="8" height="8" fill="#986767"/>
<rect x="246" y="168" width="16" height="8" fill="#9a6565"/>
<rect x="262" y="168" width="8" height="8" fill="#9b6464"/>
<rect x="270" y="168" width="8" height="8" fill="#9c6363"/>
<rect x="278" y="168" width="8" height="8" fill="#9d6262"/>
<rect x="286" y="168" width="8" height="8" fill="#9f6060"/>
<rect x="294" y="168" width="8" height="8" fill="#a25d5d"/>
<rect x="302" y="168" width="8" height="8" fill="#a75858"/>
<rect x="310" y="168" width="8" height="8" fill="#ad5252"/>
<rect x="318" y="168" width="8" height="8" fill="#b64949"/>
<rect x="326" y="168" width="8" height="8" fill="#bf4040"/>
<rect x="334" y="168" width="8" height="8" fill="#c93636"/>
<rect x="342" y="168" width="8" height="8" fill="#d22d2d"/>
<rect x="350" y="168" width="8" height="8" fill="#d82727"/>
<rect x="358" y="168" width="8" height="8" fill="#d92626"/>
<rect x="366" y="168" width="8" height="8" fill="#d12e2e"/>
<rect x="374" y="168" width="8" height="8" fill="#c13e3e"/>
<rect x="382" y="168" width="8" height="8" fill="#aa5555"/>
<rect x="390" y="168" width="8" height="8" fill="#8f7070"/>
<rect x="398" y="168" width="8" height="8" fill="#758a8a"/>
<rect x="406" y="168" width="8" height="8" fill="#5fa0a0"/>
<rect x="414" y="168" width="8" height="8" fill="#4eb1b1"/>
<rect x="422" y="168" width="8" height="8" fill="#42bdbd"/>
<rect x="430" y="168" width="8" height="8" fill="#38c7c7"/>
<rect x="438" y="168" width="8" height="8" fill="#32cdcd"/>
<rect x="446" y="168" width="8" height="8" fill="#2ed1d1"/>
<rect x="454" y="168" width="8" height="8" fill="#2bd4d4"/>
<rect x="462" y="168" width="8" height="8" fill="#29d6d6"/>
<rect x="470" y="168" width="32" height="8" fill="#28d7d7"/>
<rect x="502" y="168" width="8" height="8" fill="#29d6d6"/>
<rect x="510" y="168" width="16" height="8" fill="#2ad5d5"/>
<rect x="526" y="168" width="16" height="8" fill="#2bd4d4"/>
<rect x="542" y="168" width="16" height="8" fill="#2cd3d3"/>
<rect x="558" y="168" width="24" height="8" fill="#2dd2d2"/>
<rect x="38" y="176" width="8" height="8" fill="#04fbfb"/>
<rect x="46" y="176" width="8" height="8" fill="#06f9f9"/>
<rect x="54" y="176" width="8" height="8" fill="#0af5f5"/>
<rect x="62" y="176" width="8" height="8" fill="#12eded"/>
<rect x="70" y="176" width="8" height="8" fill="#22dddd"/>
<rect x="78" y="176" width="8" height="8" fill="#34cbcb"/>
<rect x="86" y="176" width="8" height="8" fill="#42bdbd"/>
<rect x="94" y="176" width="8" height="8" fill="#4bb4b4"/>
<rect x="102" y="176" width="8" height="8" fill="#52adad"/>
<rect x="110" y="176" width="16" height="8" fill="#56a9a9"/>
<rect x="126" y="176" width="8" height="8" fill="#55aaaa"/>
<rect x="134" y="176" width="8" height="8" fill="#53acac"/>
<rect x="142" y="176" width="8" height="8" fill="#52adad"/>
<rect x="150" y="176" width="8" height="8" fill="#55aaaa"/>
<rect x="158" y="176" width="8" height="8" fill="#5ea1a1"/>
<rect x="166" y="176" width="8" height="8" fill="#679898"/>
<rect x="174" y="176" width="8" height="8" fill="#718e8e"/>
<rect x="182" y="176" width="8" height="8" fill="#7a8585"/>
<rect x="190" y="176" width="8" height="8" fill="#837c7c"/>
<rect x="198" y="176" width="8" height="8" fill="#8a7575"/>
<rect x="206" y="176" width="8" height="8" fill="#906f6f"/>
<rect x="214" y="176" width="8" height="8" fill="#956a6a"/>
<rect x="222" y="176" width="8" height="8" fill="#996666"/>
<rect x="230" y="176" width="8" height="8" fill="#9b6464"/>
<rect x="238" y="176" width="8" height="8" fill="#9c6363"/>
<rect x="246" y="176" width="40" height="8" fill="#9d6262"/>
<rect x="286" y="176" width="8" height="8" fill="#9f6060"/>
<rect x="294" y="176" width="8" height="8" fill="#a15e5e"/>
<rect x="302" y="176" width="8" height="8" fill="#a55a5a"/>
<rect x="310" y="176" width="8" height="8" fill="#ac5353"/>
<rect x="318" y="176" width="8" height="8" fill="#b54a4a"/>
<rect x="326" y="176" width="8" height="8" fill="#c13e3e"/>
<rect x="334" y="176" width="8" height="8" fill="#ce3131"/>
<rect x="342" y="176" width="8" height="8" fill="#da2525"/>
<rect x="350" y="176" width="8" height="8" fill="#e41b1b"/>
<rect x="358" y="176" width="8" height="8" fill="#e81717"/>
<rect x="366" y="176" width="8" height="8" fill="#e21d1d"/>
<rect x="374" y="176" width="8" height="8" fill="#d02f2f"/>
<rect x="382" y="176" width="8" height="8" fill="#b54a4a"/>
<rect x="390" y="176" width="8" height="8" fill="#956a6a"/>
<rect x="398" y="176" width="8" height="8" fill="#788787"/>
<rect x="406" y="176" width="8" height="8" fill="#609f9f"/>
<rect x="414" y="176" width="8" height="8" fill="#4fb0b0"/>
<rect x="422" y="176" width="8" height="8" fill="#44bbbb"/>
<rect x="430" y="176" width="8" height="8" fill="#3cc3c3"/>
<rect x="438" y="176" width="8" height="8" fill="#36c9c9"/>
<rect x="446" y="176" width="8" height="8" fill="#33cccc"/>
<rect x="454" y="176" width="8" height="8" fill="#31cece"/>
<rect x="462" y="176" width="8" height="8" fill="#30cfcf"/>
<rect x="470" y="176" width="16" height="8" fill="#2fd0d0"/>
<rect x="486" y="176" width="16" height="8" fill="#30cfcf"/>
<rect x="502" y="176" width="16" height="8" fill="#31cece"/>
<rect x="518" y="176" width="16" height="8" fill="#32cdcd"/>
<rect x="534" y="176" width="16" height="8" fill="#33cccc"/>
<rect x="550" y="176" width="32" height="8" fill="#34cbcb"/>
<rect x="38" y="184" width="8" height="8" fill="#02fdfd"/>
<rect x="46" y="184" width="8" height="8" fill="#04fbfb"/>
<rect x="54" y="184" width="8" height="8" fill="#08f7f7"/>
<rect x="62" y="184" width="8" height="8" fill="#14ebeb"/>
<rect x="70" y="184" width="8" height="8" fill="#29d6d6"/>
<rect x="78" y="184" width="8" height="8" fill="#40bfbf"/>
<rect x="86" y="184" width="8" height="8" fill="#4db2b2"/>
<rect x="94" y="184" width="8" height="8" fill="#52adad"/>
<rect x="102" y="184" width="16" height="8" fill="#56a9a9"/>
<rect x="118" y="184" width="8" height="8" fill="#52adad"/>
<rect x="126" y="184" width="8" height="8" fill="#4eb1b1"/>
<rect x="134" y="184" width="8" height="8" fill="#4bb4b4"/>
<rect x="142" y="184" width="8" height="8" fill="#4ab5b5"/>
<rect x="150" y="184" width="8" height="8" fill="#4fb0b0"/>
<rect x="158" y="184" width="8" height="8" fill="#5aa5a5"/>
<rect x="166" y="184" width="8" height="8" fill="#669999"/>
<rect x="174" y="184" width="8" height="8" fill="#728d8d"/>
<rect x="182" y="184" width="8" height="8" fill="#7d8282"/>
<rect x="190" y="184" width="8" height="8" fill="#877878"/>
<rect x="198" y="184" width="8" height="8" fill="#8f7070"/>
<rect x="206" y="184" width="8" height="8" fill="#956a6a"/>
<rect x="214" y="184" width="8" height="8" fill="#9a6565"/>
<rect x="222" y="184" width="8" height="8" fill="#9e6161"/>
<rect x="230" y="184" width="8" height="8" fill="#a05f5f"/>
<rect x="238" y="184" width="16" height="8" fill="#a15e5e"/>
<rect x="254" y="184" width="8" height="8" fill="#a05f5f"/>
<rect x="262" y="184" width="8" height="8" fill="#9f6060"/>
<rect x="270" y="184" width="24" height="8" fill="#9e6161"/>
<rect x="294" y="184" width="8" height="8" fill="#9f6060"/>
<rect x="302" y="184" width="8" height="8" fill="#a25d5d"/>
<rect x="310" y="184" width="8" height="8" fill="#a95656"/>
<rect x="318" y="184" width="8" height="8" fill="#b34c4c"/>
<rect x="326" y="184" width="8" height="8" fill="#c03f3f"/>
<rect x="334" y="184" width="8" height="8" fill="#cf3030"/>
<rect x="342" y="184" width="8" height="8" fill="#de2121"/>
<rect x="350" y="184" width="8" height="8" fill="#ec1313"/>
<rect x="358" y="184" width="8" height="8" fill="#f50a0a"/>
<rect x="366" y="184" width="8" height="8" fill="#f30c0c"/>
<rect x="374" y="184" width="8" height="8" fill="#e11e1e"/>
<rect x="382" y="184" width="8" height="8" fill="#c13e3e"/>
<rect x="390" y="184" width="8" height="8" fill="#9b6464"/>
<rect x="398" y="184" width="8" height="8" fill="#798686"/>
<rect x="406" y="184" width="8" height="8" fill="#619e9e"/>
<rect x="414" y="184" width="8" height="8" fill="#52adad"/>
<rect x="422" y="184" width="8" height="8" fill="#47b8b8"/>
<rect x="430" y="184" width="8" height="8" fill="#41bebe"/>
<rect x="438" y="184" width="8" height="8" fill="#3cc3c3"/>
<rect x="446" y="184" width="8" height="8" fill="#3ac5c5"/>
<rect x="454" y="184" width="40" height="8" fill="#38c7c7"/>
<rect x="494" y="184" width="16" height="8" fill="#39c6c6"/>
<rect x="510" y="184" width="16" height="8" fill="#3ac5c5"/>
<rect x="526" y="184" width="24" height="8" fill="#3bc4c4"/>
<rect x="550" y="184" width="32" height="8" fill="#3cc3c3"/>
<rect x="38" y="192" width="8" height="8" fill="#02fdfd"/>
<rect x="46" y="192" width="8" height="8" fill="#03fcfc"/>
<rect x="54" y="192" width="8" height="8" fill="#06f9f9"/>
<rect x="62" y="192" width="8" height="8" fill="#10efef"/>
<rect x="70" y="192" width="8" height="8" fill="#28d7d7"/>
<rect x="78" y="192" width="8" height="8" fill="#45baba"/>
<rect x="86" y="192" width="8" height="8" fill="#52adad"/>
<rect x="94" y="192" width="8" height="8" fill="#53acac"/>
<rect x="102" y="192" width="8" height="8" fill="#54abab"/>
<rect x="110" y="192" width="8" height="8" fill="#52adad"/>
<rect x="118" y="192" width="8" height="8" fill="#4eb1b1"/>
<rect x="126" y="192" width="8" height="8" fill="#4ab5b5"/>
<rect x="134" y="192" width="8" height="8" fill="#48b7b7"/>
<rect x="142" y="192" width="8" height="8" fill="#49b6b6"/>
<rect x="150" y="192" width="8" height="8" fill="#4fb0b0"/>
<rect x="158" y="192" width="8" height="8" fill="#5aa5a5"/>
<rect x="166" y="192" width="8" height="8" fill="#679898"/>
<rect x="174" y="192" width="8" height="8" fill="#748b8b"/>
<rect x="182" y="192" width="8" height="8" fill="#817e7e"/>
<rect x="190" y="192" width="8" height="8" fill="#8b7474"/>
<rect x="198" y="192" width="8" height="8" fill="#946b6b"/>
<rect x="206" y="192" width="8" height="8" fill="#9b6464"/>
<rect x="214" y="192" width="8" height="8" fill="#a05f5f"/>
<rect x="222" y="192" width="8" height="8" fill="#a35c5c"/>
<rect x="230" y="192" width="16" height="8" fill="#a55a5a"/>
<rect x="246" y="192" width="8" height="8" fill="#a45b5b"/>
<rect x="254" y="192" width="8" height="8" fill="#a35c5c"/>
<rect x="262" y="192" width="8" height="8" fill="#a15e5e"/>
<rect x="270" y="192" width="8" height="8" fill="#9f6060"/>
<rect x="278" y="192" width="8" height="8" fill="#9e6161"/>
<rect x="286" y="192" width="16" height="8" fill="#9d6262"/>
<rect x="302" y="192" width="8" height="8" fill="#9f6060"/>
<rect x="310" y="192" width="8" height="8" fill="#a45b5b"/>
<rect x="318" y="192" width="8" height="8" fill="#af5050"/>
<rect x="326" y="192" width="8" height="8" fill="#be4141"/>
<rect x="334" y="192" width="8" height="8" fill="#ce3131"/>
<rect x="342" y="192" width="8" height="8" fill="#de2121"/>
<rect x="350" y="192" width="8" height="8" fill="#ed1212"/>
<rect x="358" y="192" width="8" height="8" fill="#fc0303"/>
<rect x="366" y="192" width="8" height="8" fill="#ff0000"/>
<rect x="374" y="192" width="8" height="8" fill="#f10e0e"/>
<rect x="382" y="192" width="8" height="8" fill="#ce3131"/>
<rect x="390" y="192" width="8" height="8" fill="#a25d5d"/>
<rect x="398" y="192" width="8" height="8" fill="#7c8383"/>
<rect x="406" y="192" width="8" height="8" fill="#669999"/>
<rect x="414" y="192" width="8" height="8" fill="#58a7a7"/>
<rect x="422" y="192" width="8" height="8" fill="#4fb0b0"/>
<rect x="430" y="192" width="8" height="8" fill="#49b6b6"/>
<rect x="438" y="192" width="8" height="8" fill="#45baba"/>
<rect x="446" y="192" width="8" height="8" fill="#43bcbc"/>
<rect x="454" y="192" width="8" height="8" fill="#42bdbd"/>
<rect x="462" y="192" width="24" height="8" fill="#41bebe"/>
<rect x="486" y="192" width="16" height="8" fill="#42bdbd"/>
<rect x="502" y="192" width="24" height="8" fill="#43bcbc"/>
<rect x="526" y="192" width="40" height="8" fill="#44bbbb"/>
<rect x="566" y="192" width="16" height="8" fill="#43bcbc"/>
<rect x="38" y="200" width="8" height="8" fill="#04fbfb"/>
<rect x="46" y="200" width="8" height="8" fill="#05fafa"/>
<rect x="54" y="200" width="8" height="8" fill="#07f8f8"/>
<rect x="62" y="200" width="8" height="8" fill="#0ef1f1"/>
<rect x="70" y="200" width="8" height="8" fill="#1fe0e0"/>
<rect x="78" y="200" width="8" height="8" fill="#33cccc"/>
<rect x="86" y="200" width="8" height="8" fill="#43bcbc"/>
<rect x="94" y="200" width="8" height="8" fill="#4ab5b5"/>
<rect x="102" y="200" width="16" height="8" fill="#4db2b2"/>
<rect x="118" y="200" width="8" height="8" fill="#4bb4b4"/>
<rect x="126" y="200" width="8" height="8" fill="#49b6b6"/>
<rect x="134" y="200" width="8" height="8" fill="#48b7b7"/>
<rect x="142" y="200" width="8" height="8" fill="#4bb4b4"/>
<rect x="150" y="200" width="8" height="8" fill="#52adad"/>
<rect x="158" y="200" width="8" height="8" fill="#5da2a2"/>
<rect x="166" y="200" width="8" height="8" fill="#6b9494"/>
<rect x="174" y="200" width="8" height="8" fill="#798686"/>
<rect x="182" y="200" width="8" height="8" fill="#867979"/>
<rect x="190" y="200" width="8" height="8" fill="#926d6d"/>
<rect x="198" y="200" width="8" height="8" fill="#9b6464"/>
<rect x="206" y="200" width="8" height="8" fill="#a25d5d"/>
<rect x="214" y="200" width="8" height="8" fill="#a75858"/>
<rect x="222" y="200" width="8" height="8" fill="#a95656"/>
<rect x="230" y="200" width="8" height="8" fill="#aa5555"/>
<rect x="238" y="200" width="8" height="8" fill="#a95656"/>
<rect x="246" y="200" width="8" height="8" fill="#a85757"/>
<rect x="254" y="200" width="8" height="8" fill="#a65959"/>
<rect x="262" y="200" width="8" height="8" fill="#a45b5b"/>
<rect x="270" y="200" width="8" height="8" fill="#a05f5f"/>
<rect x="278" y="200" width="8" height="8" fill="#9e6161"/>
<rect x="286" y="200" width="16" height="8" fill="#9c6363"/>
<rect x="302" y="200" width="8" height="8" fill="#9d6262"/>
<rect x="310" y="200" width="8" height="8" fill="#9f6060"/>
<rect x="318" y="200" width="8" height="8" fill="#aa5555"/>
<rect x="326" y="200" width="8" height="8" fill="#bb4444"/>
<rect x="334" y="200" width="8" height="8" fill="#cb3434"/>
<rect x="342" y="200" width="8" height="8" fill="#da2525"/>
<rect x="350" y="200" width="8" height="8" fill="#e71818"/>
<rect x="358" y="200" width="8" height="8" fill="#f60909"/>
<rect x="366" y="200" width="8" height="8" fill="#ff0000"/>
<rect x="374" y="200" width="8" height="8" fill="#fe0101"/>
<rect x="382" y="200" width="8" height="8" fill="#dd2222"/>
<rect x="390" y="200" width="8" height="8" fill="#b04f4f"/>
<rect x="398" y="200" width="8" height="8" fill="#897676"/>
<rect x="406" y="200" width="8" height="8" fill="#728d8d"/>
<rect x="414" y="200" width="8" height="8" fill="#639c9c"/>
<rect x="422" y="200" width="8" height="8" fill="#5aa5a5"/>
<rect x="430" y="200" width="8" height="8" fill="#54abab"/>
<rect x="438" y="200" width="8" height="8" fill="#51aeae"/>
<rect x="446" y="200" width="8" height="8" fill="#4eb1b1"/>
<rect x="454" y="200" width="8" height="8" fill="#4db2b2"/>
<rect x="462" y="200" width="24" height="8" fill="#4cb3b3"/>
<rect x="486" y="200" width="64" height="8" fill="#4db2b2"/>
<rect x="550" y="200" width="16" height="8" fill="#4cb3b3"/>
<rect x="566" y="200" width="16" height="8" fill="#4bb4b4"/>
<rect x="38" y="208" width="8" height="8" fill="#05fafa"/>
<rect x="46" y="208" width="8" height="8" fill="#08f7f7"/>
<rect x="54" y="208" width="8" height="8" fill="#0af5f5"/>
<rect x="62" y="208" width="8" height="8" fill="#0df2f2"/>
<rect x="70" y="208" width="8" height="8" fill="#16e9e9"/>
<rect x="78" y="208" width="8" height="8" fill="#22dddd"/>
<rect x="86" y="208" width="8" height="8" fill="#30cfcf"/>
<rect x="94" y="208" width="8" height="8" fill="#3bc4c4"/>
<rect x="102" y="208" width="8" height="8" fill="#42bdbd"/>
<rect x="110" y="208" width="8" height="8" fill="#46b9b9"/>
<rect x="118" y="208" width="16" height="8" fill="#47b8b8"/>
<rect x="134" y="208" width="8" height="8" fill="#49b6b6"/>
<rect x="142" y="208" width="8" height="8" fill="#4eb1b1"/>
<rect x="150" y="208" width="8" height="8" fill="#56a9a9"/>
<rect x="158" y="208" width="8" height="8" fill="#629d9d"/>
<rect x="166" y="208" width="8" height="8" fill="#708f8f"/>
<rect x="174" y="208" width="8" height="8" fill="#7f8080"/>
<rect x="182" y="208" width="8" height="8" fill="#8d7272"/>
<rect x="190" y="208" width="8" height="8" fill="#996666"/>
<rect x="198" y="208" width="8" height="8" fill="#a35c5c"/>
<rect x="206" y="208" width="8" height="8" fill="#aa5555"/>
<rect x="214" y="208" width="8" height="8" fill="#ae5151"/>
<rect x="222" y="208" width="16" height="8" fill="#af5050"/>
<rect x="238" y="208" width="8" height="8" fill="#ad5252"/>
<rect x="246" y="208" width="8" height="8" fill="#ac5353"/>
<rect x="254" y="208" width="8" height="8" fill="#a95656"/>
<rect x="262" y="208" width="8" height="8" fill="#a65959"/>
<rect x="270" y="208" width="8" height="8" fill="#a25d5d"/>
<rect x="278" y="208" width="8" height="8" fill="#9d6262"/>
<rect x="286" y="208" width="8" height="8" fill="#9b6464"/>
<rect x="294" y="208" width="16" height="8" fill="#9c6363"/>
<rect x="310" y="208" width="8" height="8" fill="#9f6060"/>
<rect x="318" y="208" width="8" height="8" fill="#a95656"/>
<rect x="326" y="208" width="8" height="8" fill="#b94646"/>
<rect x="334" y="208" width="8" height="8" fill="#c93636"/>
<rect x="342" y="208" width="8" height="8" fill="#d82727"/>
<rect x="350" y="208" width="8" height="8" fill="#e41b1b"/>
<rect x="358" y="208" width="8" height="8" fill="#f20d0d"/>
<rect x="366" y="208" width="16" height="8" fill="#ff0000"/>
<rect x="382" y="208" width="8" height="8" fill="#e61919"/>
<rect x="390" y="208" width="8" height="8" fill="#c13e3e"/>
<rect x="398" y="208" width="8" height="8" fill="#9e6161"/>
<rect x="406" y="208" width="8" height="8" fill="#857a7a"/>
<rect x="414" y="208" width="8" height="8" fill="#748b8b"/>
<rect x="422" y="208" width="8" height="8" fill="#6a9595"/>
<rect x="430" y="208" width="8" height="8" fill="#639c9c"/>
<rect x="438" y="208" width="8" height="8" fill="#5fa0a0"/>
<rect x="446" y="208" width="8" height="8" fill="#5ca3a3"/>
<rect x="454" y="208" width="8" height="8" fill="#5aa5a5"/>
<rect x="462" y="208" width="16" height="8" fill="#59a6a6"/>
<rect x="478" y="208" width="40" height="8" fill="#58a7a7"/>
<rect x="518" y="208" width="16" height="8" fill="#57a8a8"/>
<rect x="534" y="208" width="16" height="8" fill="#56a9a9"/>
<rect x="550" y="208" width="8" height="8" fill="#55aaaa"/>
<rect x="558" y="208" width="16" height="8" fill="#54abab"/>
<rect x="574" y="208" width="8" height="8" fill="#53acac"/>
<rect x="38" y="216" width="8" height="8" fill="#07f8f8"/>
<rect x="46" y="216" width="8" height="8" fill="#08f7f7"/>
<rect x="54" y="216" width="8" height="8" fill="#09f6f6"/>
<rect x="62" y="216" width="8" height="8" fill="#0bf4f4"/>
<rect x="70" y="216" width="8" height="8" fill="#0ff0f0"/>
<rect x="78" y="216" width="8" height="8" fill="#16e9e9"/>
<rect x="86" y="216" width="8" height="8" fill="#20dfdf"/>
<rect x="94" y="216" width="8" height="8" fill="#2cd3d3"/>
<rect x="102" y="216" width="8" height="8" fill="#35caca"/>
<rect x="110" y="216" width="8" height="8" fill="#3dc2c2"/>
<rect x="118" y="216" width="8" height="8" fill="#41bebe"/>
<rect x="126" y="216" width="8" height="8" fill="#44bbbb"/>
<rect x="134" y="216" width="8" height="8" fill="#48b7b7"/>
<rect x="142" y="216" width="8" height="8" fill="#50afaf"/>
<rect x="150" y="216" width="8" height="8" fill="#5ba4a4"/>
<rect x="158" y="216" width="8" height="8" fill="#689797"/>
<rect x="166" y="216" width="8" height="8" fill="#778888"/>
<rect x="174" y="216" width="8" height="8" fill="#867979"/>
<rect x="182" y="216" width="8" height="8" fill="#956a6a"/>
<rect x="190" y="216" width="8" height="8" fill="#a25d5d"/>
<rect x="198" y="216" width="8" height="8" fill="#ac5353"/>
<rect x="206" y="216" width="8" height="8" fill="#b24d4d"/>
<rect x="214" y="216" width="16" height="8" fill="#b54a4a"/>
<rect x="230" y="216" width="8" height="8" fill="#b44b4b"/>
<rect x="238" y="216" width="8" height="8" fill="#b14e4e"/>
<rect x="246" y="216" width="8" height="8" fill="#af5050"/>
<rect x="254" y="216" width="8" height="8" fill="#ac5353"/>
<rect x="262" y="216" width="8" height="8" fill="#a85757"/>
<rect x="270" y="216" width="8" height="8" fill="#a35c5c"/>
<rect x="278" y="216" width="8" height="8" fill="#9d6262"/>
<rect x="286" y="216" width="8" height="8" fill="#996666"/>
<rect x="294" y="216" width="8" height="8" fill="#9b6464"/>
<rect x="302" y="216" width="8" height="8" fill="#9e6161"/>
<rect x="310" y="216" width="8" height="8" fill="#a25d5d"/>
<rect x="318" y="216" width="8" height="8" fill="#ab5454"/>
<rect x="326" y="216" width="8" height="8" fill="#ba4545"/>
<rect x="334" y="216" width="8" height="8" fill="#c93636"/>
<rect x="342" y="216" width="8" height="8" fill="#d82727"/>
<rect x="350" y="216" width="8" height="8" fill="#e71818"/>
<rect x="358" y="216" width="8" height="8" fill="#f50a0a"/>
<rect x="366" y="216" width="16" height="8" fill="#ff0000"/>
<rect x="382" y="216" width="8" height="8" fill="#ed1212"/>
<rect x="390" y="216" width="8" height="8" fill="#cf3030"/>
<rect x="398" y="216" width="8" height="8" fill="#b14e4e"/>
<rect x="406" y="216" width="8" height="8" fill="#996666"/>
<rect x="414" y="216" width="8" height="8" fill="#877878"/>
<rect x="422" y="216" width="8" height="8" fill="#7b8484"/>
<rect x="430" y="216" width="8" height="8" fill="#738c8c"/>
<rect x="438" y="216" width="8" height="8" fill="#6e9191"/>
<rect x="446" y="216" width="8" height="8" fill="#6b9494"/>
<rect x="454" y="216" width="8" height="8" fill="#699696"/>
<rect x="462" y="216" width="8" height="8" fill="#679898"/>
<rect x="470" y="216" width="8" height="8" fill="#669999"/>
<rect x="478" y="216" width="16" height="8" fill="#659a9a"/>
<rect x="494" y="216" width="8" height="8" fill="#649b9b"/>
<rect x="502" y="216" width="16" height="8" fill="#639c9c"/>
<rect x="518" y="216" width="8" height="8" fill="#629d9d"/>
<rect x="526" y="216" width="8" height="8" fill="#619e9e"/>
<rect x="534" y="216" width="8" height="8" fill="#609f9f"/>
<rect x="542" y="216" width="8" height="8" fill="#5fa0a0"/>
<rect x="550" y="216" width="8" height="8" fill="#5ea1a1"/>
<rect x="558" y="216" width="8" height="8" fill="#5da2a2"/>
<rect x="566" y="216" width="8" height="8" fill="#5ca3a3"/>
<rect x="574" y="216" width="8" height="8" fill="#5ba4a4"/>
<rect x="38" y="224" width="8" height="8" fill="#07f8f8"/>
<rect x="46" y="224" width="24" height="8" fill="#08f7f7"/>
<rect x="70" y="224" width="8" height="8" fill="#0af5f5"/>
<rect x="78" y="224" width="8" height="8" fill="#0df2f2"/>
<rect x="86" y="224" width="8" height="8" fill="#14ebeb"/>
<rect x="94" y="224" width="8" height="8" fill="#20dfdf"/>
<rect x="102" y="224" width="8" height="8" fill="#2ad5d5"/>
<rect x="110" y="224" width="8" height="8" fill="#31cece"/>
<rect x="118" y="224" width="8" height="8" fill="#37c8c8"/>
<rect x="126" y="224" width="8" height="8" fill="#3ec1c1"/>
<rect x="134" y="224" width="8" height="8" fill="#47b8b8"/>
<rect x="142" y="224" width="8" height="8" fill="#52adad"/>
<rect x="150" y="224" width="8" height="8" fill="#5fa0a0"/>
<rect x="158" y="224" width="8" height="8" fill="#6e9191"/>
<rect x="166" y="224" width="8" height="8" fill="#7d8282"/>
<rect x="174" y="224" width="8" height="8" fill="#8e7171"/>
<rect x="182" y="224" width="8" height="8" fill="#9d6262"/>
<rect x="190" y="224" width="8" height="8" fill="#ab5454"/>
<rect x="198" y="224" width="8" height="8" fill="#b54a4a"/>
<rect x="206" y="224" width="8" height="8" fill="#bb4444"/>
<rect x="214" y="224" width="8" height="8" fill="#bd4242"/>
<rect x="222" y="224" width="8" height="8" fill="#bb4444"/>
<rect x="230" y="224" width="8" height="8" fill="#b84747"/>
<rect x="238" y="224" width="8" height="8" fill="#b44b4b"/>
<rect x="246" y="224" width="8" height="8" fill="#b14e4e"/>
<rect x="254" y="224" width="8" height="8" fill="#ad5252"/>
<rect x="262" y="224" width="8" height="8" fill="#aa5555"/>
<rect x="270" y="224" width="8" height="8" fill="#a45b5b"/>
<rect x="278" y="224" width="8" height="8" fill="#9e6161"/>
<rect x="286" y="224" width="8" height="8" fill="#9b6464"/>
<rect x="294" y="224" width="8" height="8" fill="#9c6363"/>
<rect x="302" y="224" width="8" height="8" fill="#a05f5f"/>
<rect x="310" y="224" width="8" height="8" fill="#a65959"/>
<rect x="318" y="224" width="8" height="8" fill="#af5050"/>
<rect x="326" y="224" width="8" height="8" fill="#bc4343"/>
<rect x="334" y="224" width="8" height="8" fill="#ca3535"/>
<rect x="342" y="224" width="8" height="8" fill="#d92626"/>
<rect x="350" y="224" width="8" height="8" fill="#e81717"/>
<rect x="358" y="224" width="8" height="8" fill="#f50a0a"/>
<rect x="366" y="224" width="8" height="8" fill="#fe0101"/>
<rect x="374" y="224" width="8" height="8" fill="#fd0202"/>
<rect x="382" y="224" width="8" height="8" fill="#ee1111"/>
<rect x="390" y="224" width="8" height="8" fill="#d82727"/>
<rect x="398" y="224" width="8" height="8" fill="#bf4040"/>
<rect x="406" y="224" width="8" height="8" fill="#aa5555"/>
<rect x="414" y="224" width="8" height="8" fill="#996666"/>
<rect x="422" y="224" width="8" height="8" fill="#8d7272"/>
<rect x="430" y="224" width="8" height="8" fill="#857a7a"/>
<rect x="438" y="224" width="8" height="8" fill="#7f8080"/>
<rect x="446" y="224" width="8" height="8" fill="#7b8484"/>
<rect x="454" y="224" width="8" height="8" fill="#788787"/>
<rect x="462" y="224" width="8" height="8" fill="#768989"/>
<rect x="470" y="224" width="8" height="8" fill="#748b8b"/>
<rect x="478" y="224" width="8" height="8" fill="#738c8c"/>
<rect x="486" y="224" width="8" height="8" fill="#718e8e"/>
<rect x="494" y="224" width="8" height="8" fill="#708f8f"/>
<rect x="502" y="224" width="8" height="8" fill="#6f9090"/>
<rect x="510" y="224" width="8" height="8" fill="#6e9191"/>
<rect x="518" y="224" width="8" height="8" fill="#6c9393"/>
<rect x="526" y="224" width="8" height="8" fill="#6b9494"/>
<rect x="534" y="224" width="8" height="8" fill="#6a9595"/>
<rect x="542" y="224" width="8" height="8" fill="#689797"/>
<rect x="550" y="224" width="8" height="8" fill="#679898"/>
<rect x="558" y="224" width="8" height="8" fill="#659a9a"/>
<rect x="566" y="224" width="8" height="8" fill="#649b9b"/>
<rect x="574" y="224" width="8" height="8" fill="#629d9d"/>
<rect x="38" y="232" width="16" height="8" fill="#08f7f7"/>
<rect x="54" y="232" width="24" height="8" fill="#07f8f8"/>
<rect x="78" y="232" width="8" height="8" fill="#0af5f5"/>
<rect x="86" y="232" width="8" height="8" fill="#10efef"/>
<rect x="94" y="232" width="8" height="8" fill="#1ae5e5"/>
<rect x="102" y="232" width="8" height="8" fill="#20dfdf"/>
<rect x="110" y="232" width="8" height="8" fill="#25dada"/>
<rect x="118" y="232" width="8" height="8" fill="#2fd0d0"/>
<rect x="126" y="232" width="8" height="8" fill="#3ac5c5"/>
<rect x="134" y="232" width="8" height="8" fill="#47b8b8"/>
<rect x="142" y="232" width="8" height="8" fill="#55aaaa"/>
<rect x="150" y="232" width="8" height="8" fill="#639c9c"/>
<rect x="158" y="232" width="8" height="8" fill="#738c8c"/>
<rect x="166" y="232" width="8" height="8" fill="#847b7b"/>
<rect x="174" y="232" width="8" height="8" fill="#956a6a"/>
<rect x="182" y="232" width="8" height="8" fill="#a55a5a"/>
<rect x="190" y="232" width="8" height="8" fill="#b44b4b"/>
<rect x="198" y="232" width="8" height="8" fill="#be4141"/>
<rect x="206" y="232" width="16" height="8" fill="#c43b3b"/>
<rect x="222" y="232" width="8" height="8" fill="#c13e3e"/>
<rect x="230" y="232" width="8" height="8" fill="#bc4343"/>
<rect x="238" y="232" width="8" height="8" fill="#b74848"/>
<rect x="246" y="232" width="8" height="8" fill="#b34c4c"/>
<rect x="254" y="232" width="8" height="8" fill="#af5050"/>
<rect x="262" y="232" width="8" height="8" fill="#aa5555"/>
<rect x="270" y="232" width="8" height="8" fill="#a65959"/>
<rect x="278" y="232" width="8" height="8" fill="#a15e5e"/>
<rect x="286" y="232" width="8" height="8" fill="#9f6060"/>
<rect x="294" y="232" width="8" height="8" fill="#a05f5f"/>
<rect x="302" y="232" width="8" height="8" fill="#a35c5c"/>
<rect x="310" y="232" width="8" height="8" fill="#a95656"/>
<rect x="318" y="232" width="8" height="8" fill="#b14e4e"/>
<rect x="326" y="232" width="8" height="8" fill="#bd4242"/>
<rect x="334" y="232" width="8" height="8" fill="#ca3535"/>
<rect x="342" y="232" width="8" height="8" fill="#d72828"/>
<rect x="350" y="232" width="8" height="8" fill="#e41b1b"/>
<rect x="358" y="232" width="8" height="8" fill="#f00f0f"/>
<rect x="366" y="232" width="16" height="8" fill="#f60909"/>
<rect x="382" y="232" width="8" height="8" fill="#ec1313"/>
<rect x="390" y="232" width="8" height="8" fill="#db2424"/>
<rect x="398" y="232" width="8" height="8" fill="#c83737"/>
<rect x="406" y="232" width="8" height="8" fill="#b74848"/>
<rect x="414" y="232" width="8" height="8" fill="#a85757"/>
<rect x="422" y="232" width="8" height="8" fill="#9d6262"/>
<rect x="430" y="232" width="8" height="8" fill="#956a6a"/>
<rect x="438" y="232" width="8" height="8" fill="#8f7070"/>
<rect x="446" y="232" width="8" height="8" fill="#8a7575"/>
<rect x="454" y="232" width="8" height="8" fill="#877878"/>
<rect x="462" y="232" width="8" height="8" fill="#847b7b"/>
<rect x="470" y="232" width="8" height="8" fill="#827d7d"/>
<rect x="478" y="232" width="8" height="8" fill="#807f7f"/>
<rect x="486" y="232" width="8" height="8" fill="#7e8181"/>
<rect x="494" y="232" width="8" height="8" fill="#7d8282"/>
<rect x="502" y="232" width="8" height="8" fill="#7b8484"/>
<rect x="510" y="232" width="8" height="8" fill="#798686"/>
<rect x="518" y="232" width="8" height="8" fill="#778888"/>
<rect x="526" y="232" width="8" height="8" fill="#758a8a"/>
<rect x="534" y="232" width="8" height="8" fill="#738c8c"/>
<rect x="542" y="232" width="8" height="8" fill="#728d8d"/>
<rect x="550" y="232" width="8" height="8" fill="#708f8f"/>
<rect x="558" y="232" width="8" height="8" fill="#6e9191"/>
<rect x="566" y="232" width="8" height="8" fill="#6c9393"/>
<rect x="574" y="232" width="8" height="8" fill="#6a9595"/>
<rect x="38" y="240" width="16" height="8" fill="#09f6f6"/>
<rect x="54" y="240" width="8" height="8" fill="#08f7f7"/>
<rect x="62" y="240" width="16" height="8" fill="#06f9f9"/>
<rect x="78" y="240" width="8" height="8" fill="#07f8f8"/>
<rect x="86" y="240" width="8" height="8" fill="#0cf3f3"/>
<rect x="94" y="240" width="8" height="8" fill="#14ebeb"/>
<rect x="102" y="240" width="8" height="8" fill="#17e8e8"/>
<rect x="110" y="240" width="8" height="8" fill="#1ee1e1"/>
<rect x="118" y="240" width="8" height="8" fill="#2ed1d1"/>
<rect x="126" y="240" width="8" height="8" fill="#3dc2c2"/>
<rect x="134" y="240" width="8" height="8" fill="#4cb3b3"/>
<rect x="142" y="240" width="8" height="8" fill="#59a6a6"/>
<rect x="150" y="240" width="8" height="8" fill="#689797"/>
<rect x="158" y="240" width="8" height="8" fill="#788787"/>
<rect x="166" y="240" width="8" height="8" fill="#897676"/>
<rect x="174" y="240" width="8" height="8" fill="#9b6464"/>
<rect x="182" y="240" width="8" height="8" fill="#ab5454"/>
<rect x="190" y="240" width="8" height="8" fill="#ba4545"/>
<rect x="198" y="240" width="8" height="8" fill="#c63939"/>
<rect x="206" y="240" width="8" height="8" fill="#cb3434"/>
<rect x="214" y="240" width="8" height="8" fill="#ca3535"/>
<rect x="222" y="240" width="8" height="8" fill="#c53a3a"/>
<rect x="230" y="240" width="8" height="8" fill="#bf4040"/>
<rect x="238" y="240" width="8" height="8" fill="#b94646"/>
<rect x="246" y="240" width="8" height="8" fill="#b44b4b"/>
<rect x="254" y="240" width="8" height="8" fill="#b04f4f"/>
<rect x="262" y="240" width="8" height="8" fill="#ab5454"/>
<rect x="270" y="240" width="8" height="8" fill="#a85757"/>
<rect x="278" y="240" width="8" height="8" fill="#a45b5b"/>
<rect x="286" y="240" width="8" height="8" fill="#a35c5c"/>
<rect x="294" y="240" width="8" height="8" fill="#a45b5b"/>
<rect x="302" y="240" width="8" height="8" fill="#a65959"/>
<rect x="310" y="240" width="8" height="8" fill="#ab5454"/>
<rect x="318" y="240" width="8" height="8" fill="#b24d4d"/>
<rect x="326" y="240" width="8" height="8" fill="#bb4444"/>
<rect x="334" y="240" width="8" height="8" fill="#c63939"/>
<rect x="342" y="240" width="8" height="8" fill="#d22d2d"/>
<rect x="350" y="240" width="8" height="8" fill="#dc2323"/>
<rect x="358" y="240" width="8" height="8" fill="#e61919"/>
<rect x="366" y="240" width="16" height="8" fill="#ec1313"/>
<rect x="382" y="240" width="8" height="8" fill="#e61919"/>
<rect x="390" y="240" width="8" height="8" fill="#db2424"/>
<rect x="398" y="240" width="8" height="8" fill="#cd3232"/>
<rect x="406" y="240" width="8" height="8" fill="#c03f3f"/>
<rect x="414" y="240" width="8" height="8" fill="#b44b4b"/>
<rect x="422" y="240" width="8" height="8" fill="#ab5454"/>
<rect x="430" y="240" width="8" height="8" fill="#a45b5b"/>
<rect x="438" y="240" width="8" height="8" fill="#9e6161"/>
<rect x="446" y="240" width="8" height="8" fill="#996666"/>
<rect x="454" y="240" width="8" height="8" fill="#966969"/>
<rect x="462" y="240" width="8" height="8" fill="#936c6c"/>
<rect x="470" y="240" width="8" height="8" fill="#906f6f"/>
<rect x="478" y="240" width="8" height="8" fill="#8e7171"/>
<rect x="486" y="240" width="8" height="8" fill="#8b7474"/>
<rect x="494" y="240" width="8" height="8" fill="#897676"/>
<rect x="502" y="240" width="8" height="8" fill="#867979"/>
<rect x="510" y="240" width="8" height="8" fill="#847b7b"/>
<rect x="518" y="240" width="8" height="8" fill="#827d7d"/>
<rect x="526" y="240" width="8" height="8" fill="#7f8080"/>
<rect x="534" y="240" width="8" height="8" fill="#7d8282"/>
<rect x="542" y="240" width="8" height="8" fill="#7b8484"/>
<rect x="550" y="240" width="8" height="8" fill="#788787"/>
<rect x="558" y="240" width="8" height="8" fill="#768989"/>
<rect x="566" y="240" width="8" height="8" fill="#748b8b"/>
<rect x="574" y="240" width="8" height="8" fill="#728d8d"/>
<rect x="38" y="248" width="8" height="8" fill="#0bf4f4"/>
<rect x="46" y="248" width="8" height="8" fill="#0af5f5"/>
<rect x="54" y="248" width="8" height="8" fill="#09f6f6"/>
<rect x="62" y="248" width="8" height="8" fill="#07f8f8"/>
<rect x="70" y="248" width="16" height="8" fill="#05fafa"/>
<rect x="86" y="248" width="8" height="8" fill="#08f7f7"/>
<rect x="94" y="248" width="8" height="8" fill="#0ef1f1"/>
<rect x="102" y="248" width="8" height="8" fill="#15eaea"/>
<rect x="110" y="248" width="8" height="8" fill="#23dcdc"/>
<rect x="118" y="248" width="8" height="8" fill="#37c8c8"/>
<rect x="126" y="248" width="8" height="8" fill="#47b8b8"/>
<rect x="134" y="248" width="8" height="8" fill="#54abab"/>
<rect x="142" y="248" width="8" height="8" fill="#5fa0a0"/>
<rect x="150" y="248" width="8" height="8" fill="#6d9292"/>
<rect x="158" y="248" width="8" height="8" fill="#7d8282"/>
<rect x="166" y="248" width="8" height="8" fill="#8e7171"/>
<rect x="174" y="248" width="8" height="8" fill="#9e6161"/>
<rect x="182" y="248" width="8" height="8" fill="#af5050"/>
<rect x="190" y="248" width="8" height="8" fill="#bd4242"/>
<rect x="198" y="248" width="8" height="8" fill="#c93636"/>
<rect x="206" y="248" width="8" height="8" fill="#cd3232"/>
<rect x="214" y="248" width="8" height="8" fill="#cc3333"/>
<rect x="222" y="248" width="8" height="8" fill="#c73838"/>
<rect x="230" y="248" width="8" height="8" fill="#c13e3e"/>
<rect x="238" y="248" width="8" height="8" fill="#bb4444"/>
<rect x="246" y="248" width="8" height="8" fill="#b54a4a"/>
<rect x="254" y="248" width="8" height="8" fill="#b04f4f"/>
<rect x="262" y="248" width="8" height="8" fill="#ac5353"/>
<rect x="270" y="248" width="8" height="8" fill="#a95656"/>
<rect x="278" y="248" width="8" height="8" fill="#a75858"/>
<rect x="286" y="248" width="8" height="8" fill="#a65959"/>
<rect x="294" y="248" width="8" height="8" fill="#a75858"/>
<rect x="302" y="248" width="8" height="8" fill="#a95656"/>
<rect x="310" y="248" width="8" height="8" fill="#ac5353"/>
<rect x="318" y="248" width="8" height="8" fill="#b14e4e"/>
<rect x="326" y="248" width="8" height="8" fill="#b74848"/>
<rect x="334" y="248" width="8" height="8" fill="#bf4040"/>
<rect x="342" y="248" width="8" height="8" fill="#c83737"/>
<rect x="350" y="248" width="8" height="8" fill="#d22d2d"/>
<rect x="358" y="248" width="8" height="8" fill="#da2525"/>
<rect x="366" y="248" width="8" height="8" fill="#df2020"/>
<rect x="374" y="248" width="8" height="8" fill="#e11e1e"/>
<rect x="382" y="248" width="8" height="8" fill="#de2121"/>
<rect x="390" y="248" width="8" height="8" fill="#d72828"/>
<rect x="398" y="248" width="8" height="8" fill="#ce3131"/>
<rect x="406" y="248" width="8" height="8" fill="#c53a3a"/>
<rect x="414" y="248" width="8" height="8" fill="#bd4242"/>
<rect x="422" y="248" width="8" height="8" fill="#b64949"/>
<rect x="430" y="248" width="8" height="8" fill="#b04f4f"/>
<rect x="438" y="248" width="8" height="8" fill="#ab5454"/>
<rect x="446" y="248" width="8" height="8" fill="#a75858"/>
<rect x="454" y="248" width="8" height="8" fill="#a45b5b"/>
<rect x="462" y="248" width="8" height="8" fill="#a15e5e"/>
<rect x="470" y="248" width="8" height="8" fill="#9d6262"/>
<rect x="478" y="248" width="8" height="8" fill="#9a6565"/>
<rect x="486" y="248" width="8" height="8" fill="#976868"/>
<rect x="494" y="248" width="8" height="8" fill="#956a6a"/>
<rect x="502" y="248" width="8" height="8" fill="#926d6d"/>
<rect x="510" y="248" width="8" height="8" fill="#8f7070"/>
<rect x="518" y="248" width="8" height="8" fill="#8c7373"/>
<rect x="526" y="248" width="8" height="8" fill="#897676"/>
<rect x="534" y="248" width="8" height="8" fill="#867979"/>
<rect x="542" y="248" width="8" height="8" fill="#837c7c"/>
<rect x="550" y="248" width="8" height="8" fill="#817e7e"/>
<rect x="558" y="248" width="8" height="8" fill="#7e8181"/>
<rect x="566" y="248" width="8" height="8" fill="#7c8383"/>
<rect x="574" y="248" width="8" height="8" fill="#798686"/>
<rect x="38" y="256" width="16" height="8" fill="#0bf4f4"/>
<rect x="54" y="256" width="8" height="8" fill="#0af5f5"/>
<rect x="62" y="256" width="8" height="8" fill="#07f8f8"/>
<rect x="70" y="256" width="16" height="8" fill="#04fbfb"/>
<rect x="86" y="256" width="8" height="8" fill="#06f9f9"/>
<rect x="94" y="256" width="8" height="8" fill="#0df2f2"/>
<rect x="102" y="256" width="8" height="8" fill="#1de2e2"/>
<rect x="110" y="256" width="8" height="8" fill="#33cccc"/>
<rect x="118" y="256" width="8" height="8" fill="#49b6b6"/>
<rect x="126" y="256" width="8" height="8" fill="#55aaaa"/>
<rect x="134" y="256" width="8" height="8" fill="#5da2a2"/>
<rect x="142" y="256" width="8" height="8" fill="#669999"/>
<rect x="150" y="256" width="8" height="8" fill="#728d8d"/>
<rect x="158" y="256" width="8" height="8" fill="#817e7e"/>
<rect x="166" y="256" width="8" height="8" fill="#916e6e"/>
<rect x="174" y="256" width="8" height="8" fill="#a15e5e"/>
<rect x="182" y="256" width="8" height="8" fill="#af5050"/>
<rect x="190" y="256" width="8" height="8" fill="#bc4343"/>
<rect x="198" y="256" width="8" height="8" fill="#c63939"/>
<rect x="206" y="256" width="16" height="8" fill="#ca3535"/>
<rect x="222" y="256" width="8" height="8" fill="#c63939"/>
<rect x="230" y="256" width="8" height="8" fill="#c13e3e"/>
<rect x="238" y="256" width="8" height="8" fill="#bb4444"/>
<rect x="246" y="256" width="8" height="8" fill="#b54a4a"/>
<rect x="254" y="256" width="8" height="8" fill="#b04f4f"/>
<rect x="262" y="256" width="8" height="8" fill="#ad5252"/>
<rect x="270" y="256" width="8" height="8" fill="#aa5555"/>
<rect x="278" y="256" width="24" height="8" fill="#a95656"/>
<rect x="302" y="256" width="8" height="8" fill="#aa5555"/>
<rect x="310" y="256" width="8" height="8" fill="#ac5353"/>
<rect x="318" y="256" width="8" height="8" fill="#ae5151"/>
<rect x="326" y="256" width="8" height="8" fill="#b24d4d"/>
<rect x="334" y="256" width="8" height="8" fill="#b74848"/>
<rect x="342" y="256" width="8" height="8" fill="#be4141"/>
<rect x="350" y="256" width="8" height="8" fill="#c53a3a"/>
<rect x="358" y="256" width="8" height="8" fill="#cd3232"/>
<rect x="366" y="256" width="8" height="8" fill="#d32c2c"/>
<rect x="374" y="256" width="16" height="8" fill="#d52a2a"/>
<rect x="390" y="256" width="8" height="8" fill="#d22d2d"/>
<rect x="398" y="256" width="8" height="8" fill="#cd3232"/>
<rect x="406" y="256" width="8" height="8" fill="#c83737"/>
<rect x="414" y="256" width="8" height="8" fill="#c33c3c"/>
<rect x="422" y="256" width="8" height="8" fill="#be4141"/>
<rect x="430" y="256" width="8" height="8" fill="#bb4444"/>
<rect x="438" y="256" width="8" height="8" fill="#b74848"/>
<rect x="446" y="256" width="8" height="8" fill="#b44b4b"/>
<rect x="454" y="256" width="8" height="8" fill="#b04f4f"/>
<rect x="462" y="256" width="8" height="8" fill="#ad5252"/>
<rect x="470" y="256" width="8" height="8" fill="#aa5555"/>
<rect x="478" y="256" width="8" height="8" fill="#a65959"/>
<rect x="486" y="256" width="8" height="8" fill="#a35c5c"/>
<rect x="494" y="256" width="8" height="8" fill="#a05f5f"/>
<rect x="502" y="256" width="8" height="8" fill="#9c6363"/>
<rect x="510" y="256" width="8" height="8" fill="#996666"/>
<rect x="518" y="256" width="8" height="8" fill="#956a6a"/>
<rect x="526" y="256" width="8" height="8" fill="#926d6d"/>
<rect x="534" y="256" width="8" height="8" fill="#8f7070"/>
<rect x="542" y="256" width="8" height="8" fill="#8c7373"/>
<rect x="550" y="256" width="8" height="8" fill="#887777"/>
<rect x="558" y="256" width="8" height="8" fill="#867979"/>
<rect x="566" y="256" width="8" height="8" fill="#837c7c"/>
<rect x="574" y="256" width="8" height="8" fill="#807f7f"/>
<rect x="38" y="264" width="8" height="8" fill="#0cf3f3"/>
<rect x="46" y="264" width="8" height="8" fill="#0bf4f4"/>
<rect x="54" y="264" width="8" height="8" fill="#0af5f5"/>
<rect x="62" y="264" width="8" height="8" fill="#07f8f8"/>
<rect x="70" y="264" width="16" height="8" fill="#04fbfb"/>
<rect x="86" y="264" width="8" height="8" fill="#07f8f8"/>
<rect x="94" y="264" width="8" height="8" fill="#11eeee"/>
<rect x="102" y="264" width="8" height="8" fill="#26d9d9"/>
<rect x="110" y="264" width="8" height="8" fill="#3fc0c0"/>
<rect x="118" y="264" width="8" height="8" fill="#52adad"/>
<rect x="126" y="264" width="8" height="8" fill="#5ea1a1"/>
<rect x="134" y="264" width="8" height="8" fill="#679898"/>
<rect x="142" y="264" width="8" height="8" fill="#6e9191"/>
<rect x="150" y="264" width="8" height="8" fill="#788787"/>
<rect x="158" y="264" width="8" height="8" fill="#847b7b"/>
<rect x="166" y="264" width="8" height="8" fill="#926d6d"/>
<rect x="174" y="264" width="8" height="8" fill="#a15e5e"/>
<rect x="182" y="264" width="8" height="8" fill="#af5050"/>
<rect x="190" y="264" width="8" height="8" fill="#b94646"/>
<rect x="198" y="264" width="8" height="8" fill="#c13e3e"/>
<rect x="206" y="264" width="16" height="8" fill="#c63939"/>
<rect x="222" y="264" width="8" height="8" fill="#c33c3c"/>
<rect x="230" y="264" width="8" height="8" fill="#bf4040"/>
<rect x="238" y="264" width="8" height="8" fill="#b94646"/>
<rect x="246" y="264" width="8" height="8" fill="#b44b4b"/>
<rect x="254" y="264" width="8" height="8" fill="#b04f4f"/>
<rect x="262" y="264" width="8" height="8" fill="#ac5353"/>
<rect x="270" y="264" width="8" height="8" fill="#aa5555"/>
<rect x="278" y="264" width="16" height="8" fill="#a95656"/>
<rect x="294" y="264" width="32" height="8" fill="#aa5555"/>
<rect x="326" y="264" width="8" height="8" fill="#ac5353"/>
<rect x="334" y="264" width="8" height="8" fill="#af5050"/>
<rect x="342" y="264" width="8" height="8" fill="#b44b4b"/>
<rect x="350" y="264" width="8" height="8" fill="#ba4545"/>
<rect x="358" y="264" width="8" height="8" fill="#c13e3e"/>
<rect x="366" y="264" width="8" height="8" fill="#c73838"/>
<rect x="374" y="264" width="8" height="8" fill="#ca3535"/>
<rect x="382" y="264" width="8" height="8" fill="#cc3333"/>
<rect x="390" y="264" width="8" height="8" fill="#cb3434"/>
<rect x="398" y="264" width="8" height="8" fill="#ca3535"/>
<rect x="406" y="264" width="8" height="8" fill="#c73838"/>
<rect x="414" y="264" width="8" height="8" fill="#c63939"/>
<rect x="422" y="264" width="8" height="8" fill="#c43b3b"/>
<rect x="430" y="264" width="8" height="8" fill="#c23d3d"/>
<rect x="438" y="264" width="8" height="8" fill="#c13e3e"/>
<rect x="446" y="264" width="8" height="8" fill="#be4141"/>
<rect x="454" y="264" width="8" height="8" fill="#bb4444"/>
<rect x="462" y="264" width="8" height="8" fill="#b84747"/>
<rect x="470" y="264" width="8" height="8" fill="#b44b4b"/>
<rect x="478" y="264" width="8" height="8" fill="#b14e4e"/>
<rect x="486" y="264" width="8" height="8" fill="#ad5252"/>
<rect x="494" y="264" width="8" height="8" fill="#aa5555"/>
<rect x="502" y="264" width="8" height="8" fill="#a65959"/>
<rect x="510" y="264" width="8" height="8" fill="#a25d5d"/>
<rect x="518" y="264" width="8" height="8" fill="#9e6161"/>
<rect x="526" y="264" width="8" height="8" fill="#9a6565"/>
<rect x="534" y="264" width="8" height="8" fill="#976868"/>
<rect x="542" y="264" width="8" height="8" fill="#936c6c"/>
<rect x="550" y="264" width="8" height="8" fill="#906f6f"/>
<rect x="558" y="264" width="8" height="8" fill="#8d7272"/>
<rect x="566" y="264" width="8" height="8" fill="#8a7575"/>
<rect x="574" y="264" width="8" height="8" fill="#877878"/>
<rect x="38" y="272" width="8" height="8" fill="#0bf4f4"/>
<rect x="46" y="272" width="8" height="8" fill="#0af5f5"/>
<rect x="54" y="272" width="8" height="8" fill="#09f6f6"/>
<rect x="62" y="272" width="8" height="8" fill="#07f8f8"/>
<rect x="70" y="272" width="16" height="8" fill="#05fafa"/>
<rect x="86" y="272" width="8" height="8" fill="#09f6f6"/>
<rect x="94" y="272" width="8" height="8" fill="#15eaea"/>
<rect x="102" y="272" width="8" height="8" fill="#28d7d7"/>
<rect x="110" y="272" width="8" height="8" fill="#3ec1c1"/>
<rect x="118" y="272" width="8" height="8" fill="#51aeae"/>
<rect x="126" y="272" width="8" height="8" fill="#629d9d"/>
<rect x="134" y="272" width="8" height="8" fill="#718e8e"/>
<rect x="142" y="272" width="8" height="8" fill="#778888"/>
<rect x="150" y="272" width="8" height="8" fill="#7d8282"/>
<rect x="158" y="272" width="8" height="8" fill="#867979"/>
<rect x="166" y="272" width="8" height="8" fill="#926d6d"/>
<rect x="174" y="272" width="8" height="8" fill="#a05f5f"/>
<rect x="182" y="272" width="8" height="8" fill="#ad5252"/>
<rect x="190" y="272" width="8" height="8" fill="#b84747"/>
<rect x="198" y="272" width="8" height="8" fill="#c03f3f"/>
<rect x="206" y="272" width="8" height="8" fill="#c33c3c"/>
<rect x="214" y="272" width="8" height="8" fill="#c13e3e"/>
<rect x="222" y="272" width="8" height="8" fill="#bf4040"/>
<rect x="230" y="272" width="8" height="8" fill="#bb4444"/>
<rect x="238" y="272" width="8" height="8" fill="#b64949"/>
<rect x="246" y="272" width="8" height="8" fill="#b24d4d"/>
<rect x="254" y="272" width="8" height="8" fill="#ae5151"/>
<rect x="262" y="272" width="8" height="8" fill="#ab5454"/>
<rect x="270" y="272" width="8" height="8" fill="#a95656"/>
<rect x="278" y="272" width="8" height="8" fill="#a85757"/>
<rect x="286" y="272" width="8" height="8" fill="#a75858"/>
<rect x="294" y="272" width="8" height="8" fill="#a85757"/>
<rect x="302" y="272" width="8" height="8" fill="#a75858"/>
<rect x="310" y="272" width="16" height="8" fill="#a65959"/>
<rect x="326" y="272" width="8" height="8" fill="#a75858"/>
<rect x="334" y="272" width="8" height="8" fill="#a95656"/>
<rect x="342" y="272" width="8" height="8" fill="#ac5353"/>
<rect x="350" y="272" width="8" height="8" fill="#b14e4e"/>
<rect x="358" y="272" width="8" height="8" fill="#b64949"/>
<rect x="366" y="272" width="8" height="8" fill="#bc4343"/>
<rect x="374" y="272" width="8" height="8" fill="#c03f3f"/>
<rect x="382" y="272" width="8" height="8" fill="#c23d3d"/>
<rect x="390" y="272" width="16" height="8" fill="#c43b3b"/>
<rect x="406" y="272" width="8" height="8" fill="#c53a3a"/>
<rect x="414" y="272" width="8" height="8" fill="#c63939"/>
<rect x="422" y="272" width="8" height="8" fill="#c73838"/>
<rect x="430" y="272" width="16" height="8" fill="#c83737"/>
<rect x="446" y="272" width="8" height="8" fill="#c63939"/>
<rect x="454" y="272" width="8" height="8" fill="#c43b3b"/>
<rect x="462" y="272" width="8" height="8" fill="#c13e3e"/>
<rect x="470" y="272" width="8" height="8" fill="#bd4242"/>
<rect x="478" y="272" width="8" height="8" fill="#ba4545"/>
<rect x="486" y="272" width="8" height="8" fill="#b64949"/>
<rect x="494" y="272" width="8" height="8" fill="#b24d4d"/>
<rect x="502" y="272" width="8" height="8" fill="#ae5151"/>
<rect x="510" y="272" width="8" height="8" fill="#aa5555"/>
<rect x="518" y="272" width="8" height="8" fill="#a65959"/>
<rect x="526" y="272" width="8" height="8" fill="#a25d5d"/>
<rect x="534" y="272" width="8" height="8" fill="#9e6161"/>
<rect x="542" y="272" width="8" height="8" fill="#9a6565"/>
<rect x="550" y="272" width="8" height="8" fill="#966969"/>
<rect x="558" y="272" width="8" height="8" fill="#936c6c"/>
<rect x="566" y="272" width="8" height="8" fill="#906f6f"/>
<rect x="574" y="272" width="8" height="8" fill="#8d7272"/>
<rect x="38" y="280" width="8" height="8" fill="#0bf4f4"/>
<rect x="46" y="280" width="8" height="8" fill="#0af5f5"/>
<rect x="54" y="280" width="8" height="8" fill="#09f6f6"/>
<rect x="62" y="280" width="8" height="8" fill="#07f8f8"/>
<rect x="70" y="280" width="8" height="8" fill="#06f9f9"/>
<rect x="78" y="280" width="8" height="8" fill="#07f8f8"/>
<rect x="86" y="280" width="8" height="8" fill="#0bf4f4"/>
<rect x="94" y="280" width="8" height="8" fill="#15eaea"/>
<rect x="102" y="280" width="8" height="8" fill="#23dcdc"/>
<rect x="110" y="280" width="8" height="8" fill="#34cbcb"/>
<rect x="118" y="280" width="8" height="8" fill="#4ab5b5"/>
<rect x="126" y="280" width="8" height="8" fill="#629d9d"/>
<rect x="134" y="280" width="8" height="8" fill="#778888"/>
<rect x="142" y="280" width="8" height="8" fill="#7b8484"/>
<rect x="150" y="280" width="8" height="8" fill="#7c8383"/>
<rect x="158" y="280" width="8" height="8" fill="#837c7c"/>
<rect x="166" y="280" width="8" height="8" fill="#8e7171"/>
<rect x="174" y="280" width="8" height="8" fill="#9c6363"/>
<rect x="182" y="280" width="8" height="8" fill="#aa5555"/>
<rect x="190" y="280" width="8" height="8" fill="#b74848"/>
<rect x="198" y="280" width="8" height="8" fill="#bf4040"/>
<rect x="206" y="280" width="8" height="8" fill="#c03f3f"/>
<rect x="214" y="280" width="8" height="8" fill="#bd4242"/>
<rect x="222" y="280" width="8" height="8" fill="#ba4545"/>
<rect x="230" y="280" width="8" height="8" fill="#b64949"/>
<rect x="238" y="280" width="8" height="8" fill="#b24d4d"/>
<rect x="246" y="280" width="8" height="8" fill="#ae5151"/>
<rect x="254" y="280" width="8" height="8" fill="#aa5555"/>
<rect x="262" y="280" width="8" height="8" fill="#a75858"/>
<rect x="270" y="280" width="8" height="8" fill="#a55a5a"/>
<rect x="278" y="280" width="8" height="8" fill="#a45b5b"/>
<rect x="286" y="280" width="16" height="8" fill="#a35c5c"/>
<rect x="302" y="280" width="8" height="8" fill="#a25d5d"/>
<rect x="310" y="280" width="16" height="8" fill="#a15e5e"/>
<rect x="326" y="280" width="8" height="8" fill="#a25d5d"/>
<rect x="334" y="280" width="8" height="8" fill="#a35c5c"/>
<rect x="342" y="280" width="8" height="8" fill="#a65959"/>
<rect x="350" y="280" width="8" height="8" fill="#a95656"/>
<rect x="358" y="280" width="8" height="8" fill="#ad5252"/>
<rect x="366" y="280" width="8" height="8" fill="#b24d4d"/>
<rect x="374" y="280" width="8" height="8" fill="#b64949"/>
<rect x="382" y="280" width="8" height="8" fill="#b94646"/>
<rect x="390" y="280" width="8" height="8" fill="#bb4444"/>
<rect x="398" y="280" width="8" height="8" fill="#bd4242"/>
<rect x="406" y="280" width="8" height="8" fill="#c03f3f"/>
<rect x="414" y="280" width="8" height="8" fill="#c33c3c"/>
<rect x="422" y="280" width="8" height="8" fill="#c63939"/>
<rect x="430" y="280" width="8" height="8" fill="#ca3535"/>
<rect x="438" y="280" width="8" height="8" fill="#cc3333"/>
<rect x="446" y="280" width="8" height="8" fill="#cb3434"/>
<rect x="454" y="280" width="8" height="8" fill="#c93636"/>
<rect x="462" y="280" width="8" height="8" fill="#c73838"/>
<rect x="470" y="280" width="8" height="8" fill="#c53a3a"/>
<rect x="478" y="280" width="8" height="8" fill="#c13e3e"/>
<rect x="486" y="280" width="8" height="8" fill="#be4141"/>
<rect x="494" y="280" width="8" height="8" fill="#ba4545"/>
<rect x="502" y="280" width="8" height="8" fill="#b54a4a"/>
<rect x="510" y="280" width="8" height="8" fill="#b14e4e"/>
<rect x="518" y="280" width="8" height="8" fill="#ac5353"/>
<rect x="526" y="280" width="8" height="8" fill="#a85757"/>
<rect x="534" y="280" width="8" height="8" fill="#a45b5b"/>
<rect x="542" y="280" width="8" height="8" fill="#a05f5f"/>
<rect x="550" y="280" width="8" height="8" fill="#9c6363"/>
<rect x="558" y="280" width="8" height="8" fill="#996666"/>
<rect x="566" y="280" width="8" height="8" fill="#956a6a"/>
<rect x="574" y="280" width="8" height="8" fill="#926d6d"/>
<rect x="38" y="288" width="8" height="8" fill="#0bf4f4"/>
<rect x="46" y="288" width="8" height="8" fill="#0af5f5"/>
<rect x="54" y="288" width="8" height="8" fill="#09f6f6"/>
<rect x="62" y="288" width="8" height="8" fill="#08f7f7"/>
<rect x="70" y="288" width="8" height="8" fill="#07f8f8"/>
<rect x="78" y="288" width="8" height="8" fill="#09f6f6"/>
<rect x="86" y="288" width="8" height="8" fill="#0df2f2"/>
<rect x="94" y="288" width="8" height="8" fill="#14ebeb"/>
<rect x="102" y="288" width="8" height="8" fill="#1ee1e1"/>
<rect x="110" y="288" width="8" height="8" fill="#2ad5d5"/>
<rect x="118" y="288" width="8" height="8" fill="#41bebe"/>
<rect x="126" y="288" width="8" height="8" fill="#5da2a2"/>
<rect x="134" y="288" width="8" height="8" fill="#718e8e"/>
<rect x="142" y="288" width="16" height="8" fill="#768989"/>
<rect x="158" y="288" width="8" height="8" fill="#7b8484"/>
<rect x="166" y="288" width="8" height="8" fill="#857a7a"/>
<rect x="174" y="288" width="8" height="8" fill="#936c6c"/>
<rect x="182" y="288" width="8" height="8" fill="#a25d5d"/>
<rect x="190" y="288" width="8" height="8" fill="#b14e4e"/>
<rect x="198" y="288" width="16" height="8" fill="#b94646"/>
<rect x="214" y="288" width="8" height="8" fill="#b64949"/>
<rect x="222" y="288" width="8" height="8" fill="#b34c4c"/>
<rect x="230" y="288" width="8" height="8" fill="#af5050"/>
<rect x="238" y="288" width="8" height="8" fill="#ab5454"/>
<rect x="246" y="288" width="8" height="8" fill="#a75858"/>
<rect x="254" y="288" width="8" height="8" fill="#a45b5b"/>
<rect x="262" y="288" width="8" height="8" fill="#a15e5e"/>
<rect x="270" y="288" width="8" height="8" fill="#9f6060"/>
<rect x="278" y="288" width="8" height="8" fill="#9e6161"/>
<rect x="286" y="288" width="16" height="8" fill="#9d6262"/>
<rect x="302" y="288" width="24" height="8" fill="#9c6363"/>
<rect x="326" y="288" width="8" height="8" fill="#9d6262"/>
<rect x="334" y="288" width="8" height="8" fill="#9e6161"/>
<rect x="342" y="288" width="8" height="8" fill="#a15e5e"/>
<rect x="350" y="288" width="8" height="8" fill="#a35c5c"/>
<rect x="358" y="288" width="8" height="8" fill="#a65959"/>
<rect x="366" y="288" width="8" height="8" fill="#aa5555"/>
<rect x="374" y="288" width="8" height="8" fill="#ad5252"/>
<rect x="382" y="288" width="8" height="8" fill="#b04f4f"/>
<rect x="390" y="288" width="8" height="8" fill="#b34c4c"/>
<rect x="398" y="288" width="8" height="8" fill="#b64949"/>
<rect x="406" y="288" width="8" height="8" fill="#b94646"/>
<rect x="414" y="288" width="8" height="8" fill="#bd4242"/>
<rect x="422" y="288" width="8" height="8" fill="#c23d3d"/>
<rect x="430" y="288" width="8" height="8" fill="#c83737"/>
<rect x="438" y="288" width="24" height="8" fill="#cc3333"/>
<rect x="462" y="288" width="8" height="8" fill="#cb3434"/>
<rect x="470" y="288" width="8" height="8" fill="#ca3535"/>
<rect x="478" y="288" width="8" height="8" fill="#c73838"/>
<rect x="486" y="288" width="8" height="8" fill="#c33c3c"/>
<rect x="494" y="288" width="8" height="8" fill="#bf4040"/>
<rect x="502" y="288" width="8" height="8" fill="#bb4444"/>
<rect x="510" y="288" width="8" height="8" fill="#b64949"/>
<rect x="518" y="288" width="8" height="8" fill="#b24d4d"/>
<rect x="526" y="288" width="8" height="8" fill="#ad5252"/>
<rect x="534" y="288" width="8" height="8" fill="#a95656"/>
<rect x="542" y="288" width="8" height="8" fill="#a55a5a"/>
<rect x="550" y="288" width="8" height="8" fill="#a15e5e"/>
<rect x="558" y="288" width="8" height="8" fill="#9e6161"/>
<rect x="566" y="288" width="8" height="8" fill="#9a6565"/>
<rect x="574" y="288" width="8" height="8" fill="#976868"/>
<rect x="38" y="296" width="8" height="8" fill="#0bf4f4"/>
<rect x="46" y="296" width="16" height="8" fill="#0af5f5"/>
<rect x="62" y="296" width="16" height="8" fill="#09f6f6"/>
<rect x="78" y="296" width="8" height="8" fill="#0af5f5"/>
<rect x="86" y="296" width="8" height="8" fill="#0ef1f1"/>
<rect x="94" y="296" width="8" height="8" fill="#13ecec"/>
<rect x="102" y="296" width="8" height="8" fill="#1ce3e3"/>
<rect x="110" y="296" width="8" height="8" fill="#28d7d7"/>
<rect x="118" y="296" width="8" height="8" fill="#3cc3c3"/>
<rect x="126" y="296" width="8" height="8" fill="#55aaaa"/>
<rect x="134" y="296" width="8" height="8" fill="#639c9c"/>
<rect x="142" y="296" width="8" height="8" fill="#679898"/>
<rect x="150" y="296" width="8" height="8" fill="#689797"/>
<rect x="158" y="296" width="8" height="8" fill="#6d9292"/>
<rect x="166" y="296" width="8" height="8" fill="#778888"/>
<rect x="174" y="296" width="8" height="8" fill="#857a7a"/>
<rect x="182" y="296" width="8" height="8" fill="#946b6b"/>
<rect x="190" y="296" width="8" height="8" fill="#a15e5e"/>
<rect x="198" y="296" width="8" height="8" fill="#aa5555"/>
<rect x="206" y="296" width="8" height="8" fill="#ac5353"/>
<rect x="214" y="296" width="8" height="8" fill="#aa5555"/>
<rect x="222" y="296" width="8" height="8" fill="#a85757"/>
<rect x="230" y="296" width="8" height="8" fill="#a55a5a"/>
<rect x="238" y="296" width="8" height="8" fill="#a15e5e"/>
<rect x="246" y="296" width="8" height="8" fill="#9e6161"/>
<rect x="254" y="296" width="8" height="8" fill="#9c6363"/>
<rect x="262" y="296" width="8" height="8" fill="#9a6565"/>
<rect x="270" y="296" width="8" height="8" fill="#986767"/>
<rect x="278" y="296" width="8" height="8" fill="#976868"/>
<rect x="286" y="296" width="40" height="8" fill="#966969"/>
<rect x="326" y="296" width="8" height="8" fill="#976868"/>
<rect x="334" y="296" width="8" height="8" fill="#996666"/>
<rect x="342" y="296" width="8" height="8" fill="#9b6464"/>
<rect x="350" y="296" width="8" height="8" fill="#9d6262"/>
<rect x="358" y="296" width="8" height="8" fill="#9f6060"/>
<rect x="366" y="296" width="8" height="8" fill="#a25d5d"/>
<rect x="374" y="296" width="8" height="8" fill="#a55a5a"/>
<rect x="382" y="296" width="8" height="8" fill="#a85757"/>
<rect x="390" y="296" width="8" height="8" fill="#aa5555"/>
<rect x="398" y="296" width="8" height="8" fill="#ad5252"/>
<rect x="406" y="296" width="8" height="8" fill="#b04f4f"/>
<rect x="414" y="296" width="8" height="8" fill="#b54a4a"/>
<rect x="422" y="296" width="8" height="8" fill="#bb4444"/>
<rect x="430" y="296" width="8" height="8" fill="#c13e3e"/>
<rect x="438" y="296" width="8" height="8" fill="#c73838"/>
<rect x="446" y="296" width="8" height="8" fill="#ca3535"/>
<rect x="454" y="296" width="8" height="8" fill="#cc3333"/>
<rect x="462" y="296" width="16" height="8" fill="#cd3232"/>
<rect x="478" y="296" width="8" height="8" fill="#cb3434"/>
<rect x="486" y="296" width="8" height="8" fill="#c73838"/>
<rect x="494" y="296" width="8" height="8" fill="#c33c3c"/>
<rect x="502" y="296" width="8" height="8" fill="#bf4040"/>
<rect x="510" y="296" width="8" height="8" fill="#ba4545"/>
<rect x="518" y="296" width="8" height="8" fill="#b64949"/>
<rect x="526" y="296" width="8" height="8" fill="#b14e4e"/>
<rect x="534" y="296" width="8" height="8" fill="#ad5252"/>
<rect x="542" y="296" width="8" height="8" fill="#a95656"/>
<rect x="550" y="296" width="8" height="8" fill="#a65959"/>
<rect x="558" y="296" width="8" height="8" fill="#a25d5d"/>
<rect x="566" y="296" width="8" height="8" fill="#9f6060"/>
<rect x="574" y="296" width="8" height="8" fill="#9c6363"/>
<rect x="38" y="304" width="8" height="8" fill="#0cf3f3"/>
<rect x="46" y="304" width="8" height="8" fill="#0bf4f4"/>
<rect x="54" y="304" width="24" height="8" fill="#0af5f5"/>
<rect x="78" y="304" width="8" height="8" fill="#0bf4f4"/>
<rect x="86" y="304" width="8" height="8" fill="#0ef1f1"/>
<rect x="94" y="304" width="8" height="8" fill="#13ecec"/>
<rect x="102" y="304" width="8" height="8" fill="#1ae5e5"/>
<rect x="110" y="304" width="8" height="8" fill="#25dada"/>
<rect x="118" y="304" width="8" height="8" fill="#33cccc"/>
<rect x="126" y="304" width="8" height="8" fill="#44bbbb"/>
<rect x="134" y="304" width="8" height="8" fill="#50afaf"/>
<rect x="142" y="304" width="8" height="8" fill="#54abab"/>
<rect x="150" y="304" width="8" height="8" fill="#55aaaa"/>
<rect x="158" y="304" width="8" height="8" fill="#5aa5a5"/>
<rect x="166" y="304" width="8" height="8" fill="#669999"/>
<rect x="174" y="304" width="8" height="8" fill="#738c8c"/>
<rect x="182" y="304" width="8" height="8" fill="#827d7d"/>
<rect x="190" y="304" width="8" height="8" fill="#8e7171"/>
<rect x="198" y="304" width="8" height="8" fill="#966969"/>
<rect x="206" y="304" width="16" height="8" fill="#9a6565"/>
<rect x="222" y="304" width="8" height="8" fill="#996666"/>
<rect x="230" y="304" width="8" height="8" fill="#976868"/>
<rect x="238" y="304" width="8" height="8" fill="#956a6a"/>
<rect x="246" y="304" width="8" height="8" fill="#946b6b"/>
<rect x="254" y="304" width="8" height="8" fill="#936c6c"/>
<rect x="262" y="304" width="8" height="8" fill="#926d6d"/>
<rect x="270" y="304" width="16" height="8" fill="#906f6f"/>
<rect x="286" y="304" width="24" height="8" fill="#8f7070"/>
<rect x="310" y="304" width="8" height="8" fill="#906f6f"/>
<rect x="318" y="304" width="16" height="8" fill="#916e6e"/>
<rect x="334" y="304" width="8" height="8" fill="#936c6c"/>
<rect x="342" y="304" width="8" height="8" fill="#956a6a"/>
<rect x="350" y="304" width="8" height="8" fill="#966969"/>
<rect x="358" y="304" width="8" height="8" fill="#986767"/>
<rect x="366" y="304" width="8" height="8" fill="#9b6464"/>
<rect x="374" y="304" width="8" height="8" fill="#9d6262"/>
<rect x="382" y="304" width="8" height="8" fill="#9f6060"/>
<rect x="390" y="304" width="8" height="8" fill="#a15e5e"/>
<rect x="398" y="304" width="8" height="8" fill="#a45b5b"/>
<rect x="406" y="304" width="8" height="8" fill="#a75858"/>
<rect x="414" y="304" width="8" height="8" fill="#ab5454"/>
<rect x="422" y="304" width="8" height="8" fill="#b14e4e"/>
<rect x="430" y="304" width="8" height="8" fill="#b94646"/>
<rect x="438" y="304" width="8" height="8" fill="#bf4040"/>
<rect x="446" y="304" width="8" height="8" fill="#c53a3a"/>
<rect x="454" y="304" width="8" height="8" fill="#ca3535"/>
<rect x="462" y="304" width="8" height="8" fill="#cd3232"/>
<rect x="470" y="304" width="8" height="8" fill="#ce3131"/>
<rect x="478" y="304" width="8" height="8" fill="#cc3333"/>
<rect x="486" y="304" width="8" height="8" fill="#c93636"/>
<rect x="494" y="304" width="8" height="8" fill="#c53a3a"/>
<rect x="502" y="304" width="8" height="8" fill="#c13e3e"/>
<rect x="510" y="304" width="8" height="8" fill="#bc4343"/>
<rect x="518" y="304" width="8" height="8" fill="#b84747"/>
<rect x="526" y="304" width="8" height="8" fill="#b44b4b"/>
<rect x="534" y="304" width="8" height="8" fill="#b04f4f"/>
<rect x="542" y="304" width="8" height="8" fill="#ad5252"/>
<rect x="550" y="304" width="8" height="8" fill="#a95656"/>
<rect x="558" y="304" width="8" height="8" fill="#a65959"/>
<rect x="566" y="304" width="8" height="8" fill="#a35c5c"/>
<rect x="574" y="304" width="8" height="8" fill="#9f6060"/>
<rect x="38" y="312" width="16" height="8" fill="#0cf3f3"/>
<rect x="54" y="312" width="24" height="8" fill="#0bf4f4"/>
<rect x="78" y="312" width="8" height="8" fill="#0cf3f3"/>
<rect x="86" y="312" width="8" height="8" fill="#0ef1f1"/>
<rect x="94" y="312" width="8" height="8" fill="#12eded"/>
<rect x="102" y="312" width="8" height="8" fill="#17e8e8"/>
<rect x="110" y="312" width="8" height="8" fill="#1fe0e0"/>
<rect x="118" y="312" width="8" height="8" fill="#27d8d8"/>
<rect x="126" y="312" width="8" height="8" fill="#32cdcd"/>
<rect x="134" y="312" width="8" height="8" fill="#3fc0c0"/>
<rect x="142" y="312" width="8" height="8" fill="#43bcbc"/>
<rect x="150" y="312" width="8" height="8" fill="#42bdbd"/>
<rect x="158" y="312" width="8" height="8" fill="#48b7b7"/>
<rect x="166" y="312" width="8" height="8" fill="#54abab"/>
<rect x="174" y="312" width="8" height="8" fill="#629d9d"/>
<rect x="182" y="312" width="8" height="8" fill="#6f9090"/>
<rect x="190" y="312" width="8" height="8" fill="#7a8585"/>
<rect x="198" y="312" width="8" height="8" fill="#827d7d"/>
<rect x="206" y="312" width="8" height="8" fill="#867979"/>
<rect x="214" y="312" width="32" height="8" fill="#877878"/>
<rect x="246" y="312" width="8" height="8" fill="#887777"/>
<rect x="254" y="312" width="24" height="8" fill="#897676"/>
<rect x="278" y="312" width="16" height="8" fill="#887777"/>
<rect x="294" y="312" width="8" height="8" fill="#897676"/>
<rect x="302" y="312" width="16" height="8" fill="#8a7575"/>
<rect x="318" y="312" width="8" height="8" fill="#8b7474"/>
<rect x="326" y="312" width="8" height="8" fill="#8c7373"/>
<rect x="334" y="312" width="8" height="8" fill="#8d7272"/>
<rect x="342" y="312" width="8" height="8" fill="#8e7171"/>
<rect x="350" y="312" width="8" height="8" fill="#8f7070"/>
<rect x="358" y="312" width="8" height="8" fill="#916e6e"/>
<rect x="366" y="312" width="8" height="8" fill="#936c6c"/>
<rect x="374" y="312" width="8" height="8" fill="#956a6a"/>
<rect x="382" y="312" width="8" height="8" fill="#976868"/>
<rect x="390" y="312" width="8" height="8" fill="#996666"/>
<rect x="398" y="312" width="8" height="8" fill="#9b6464"/>
<rect x="406" y="312" width="8" height="8" fill="#9e6161"/>
<rect x="414" y="312" width="8" height="8" fill="#a25d5d"/>
<rect x="422" y="312" width="8" height="8" fill="#a85757"/>
<rect x="430" y="312" width="8" height="8" fill="#b04f4f"/>
<rect x="438" y="312" width="8" height="8" fill="#b84747"/>
<rect x="446" y="312" width="8" height="8" fill="#bf4040"/>
<rect x="454" y="312" width="8" height="8" fill="#c63939"/>
<rect x="462" y="312" width="8" height="8" fill="#cb3434"/>
<rect x="470" y="312" width="8" height="8" fill="#cd3232"/>
<rect x="478" y="312" width="8" height="8" fill="#cb3434"/>
<rect x="486" y="312" width="8" height="8" fill="#c83737"/>
<rect x="494" y="312" width="8" height="8" fill="#c43b3b"/>
<rect x="502" y="312" width="8" height="8" fill="#c13e3e"/>
<rect x="510" y="312" width="8" height="8" fill="#bd4242"/>
<rect x="518" y="312" width="8" height="8" fill="#b94646"/>
<rect x="526" y="312" width="8" height="8" fill="#b64949"/>
<rect x="534" y="312" width="8" height="8" fill="#b24d4d"/>
<rect x="542" y="312" width="8" height="8" fill="#af5050"/>
<rect x="550" y="312" width="8" height="8" fill="#ac5353"/>
<rect x="558" y="312" width="8" height="8" fill="#a95656"/>
<rect x="566" y="312" width="8" height="8" fill="#a65959"/>
<rect x="574" y="312" width="8" height="8" fill="#a35c5c"/>
<rect x="38" y="320" width="40" height="8" fill="#0cf3f3"/>
<rect x="78" y="320" width="8" height="8" fill="#0df2f2"/>
<rect x="86" y="320" width="8" height="8" fill="#0ef1f1"/>
<rect x="94" y="320" width="8" height="8" fill="#11eeee"/>
<rect x="102" y="320" width="8" height="8" fill="#15eaea"/>
<rect x="110" y="320" width="8" height="8" fill="#19e6e6"/>
<rect x="118" y="320" width="8" height="8" fill="#1fe0e0"/>
<rect x="126" y="320" width="8" height="8" fill="#27d8d8"/>
<rect x="134" y="320" width="8" height="8" fill="#34cbcb"/>
<rect x="142" y="320" width="8" height="8" fill="#3cc3c3"/>
<rect x="150" y="320" width="8" height="8" fill="#3ac5c5"/>
<rect x="158" y="320" width="8" height="8" fill="#3ec1c1"/>
<rect x="166" y="320" width="8" height="8" fill="#47b8b8"/>
<rect x="174" y="320" width="8" height="8" fill="#53acac"/>
<rect x="182" y="320" width="8" height="8" fill="#5ea1a1"/>
<rect x="190" y="320" width="8" height="8" fill="#679898"/>
<rect x="198" y="320" width="8" height="8" fill="#6e9191"/>
<rect x="206" y="320" width="8" height="8" fill="#728d8d"/>
<rect x="214" y="320" width="8" height="8" fill="#748b8b"/>
<rect x="222" y="320" width="8" height="8" fill="#758a8a"/>
<rect x="230" y="320" width="8" height="8" fill="#768989"/>
<rect x="238" y="320" width="8" height="8" fill="#798686"/>
<rect x="246" y="320" width="8" height="8" fill="#7d8282"/>
<rect x="254" y="320" width="8" height="8" fill="#807f7f"/>
<rect x="262" y="320" width="32" height="8" fill="#827d7d"/>
<rect x="294" y="320" width="8" height="8" fill="#837c7c"/>
<rect x="302" y="320" width="8" height="8" fill="#847b7b"/>
<rect x="310" y="320" width="8" height="8" fill="#857a7a"/>
<rect x="318" y="320" width="16" height="8" fill="#867979"/>
<rect x="334" y="320" width="16" height="8" fill="#877878"/>
<rect x="350" y="320" width="8" height="8" fill="#887777"/>
<rect x="358" y="320" width="8" height="8" fill="#8a7575"/>
<rect x="366" y="320" width="8" height="8" fill="#8c7373"/>
<rect x="374" y="320" width="8" height="8" fill="#8e7171"/>
<rect x="382" y="320" width="8" height="8" fill="#906f6f"/>
<rect x="390" y="320" width="8" height="8" fill="#926d6d"/>
<rect x="398" y="320" width="8" height="8" fill="#936c6c"/>
<rect x="406" y="320" width="8" height="8" fill="#966969"/>
<rect x="414" y="320" width="8" height="8" fill="#9a6565"/>
<rect x="422" y="320" width="8" height="8" fill="#a05f5f"/>
<rect x="430" y="320" width="8" height="8" fill="#a85757"/>
<rect x="438" y="320" width="8" height="8" fill="#b14e4e"/>
<rect x="446" y="320" width="8" height="8" fill="#b94646"/>
<rect x="454" y="320" width="8" height="8" fill="#c03f3f"/>
<rect x="462" y="320" width="8" height="8" fill="#c53a3a"/>
<rect x="470" y="320" width="8" height="8" fill="#c83737"/>
<rect x="478" y="320" width="8" height="8" fill="#c73838"/>
<rect x="486" y="320" width="8" height="8" fill="#c53a3a"/>
<rect x="494" y="320" width="8" height="8" fill="#c23d3d"/>
<rect x="502" y="320" width="8" height="8" fill="#bf4040"/>
<rect x="510" y="320" width="8" height="8" fill="#bc4343"/>
<rect x="518" y="320" width="8" height="8" fill="#b94646"/>
<rect x="526" y="320" width="8" height="8" fill="#b64949"/>
<rect x="534" y="320" width="8" height="8" fill="#b44b4b"/>
<rect x="542" y="320" width="8" height="8" fill="#b14e4e"/>
<rect x="550" y="320" width="8" height="8" fill="#ae5151"/>
<rect x="558" y="320" width="8" height="8" fill="#ab5454"/>
<rect x="566" y="320" width="8" height="8" fill="#a85757"/>
<rect x="574" y="320" width="8" height="8" fill="#a55a5a"/>
<rect x="38" y="328" width="16" height="8" fill="#0df2f2"/>
<rect x="54" y="328" width="16" height="8" fill="#0cf3f3"/>
<rect x="70" y="328" width="16" height="8" fill="#0df2f2"/>
<rect x="86" y="328" width="8" height="8" fill="#0ef1f1"/>
<rect x="94" y="328" width="8" height="8" fill="#10efef"/>
<rect x="102" y="328" width="8" height="8" fill="#13ecec"/>
<rect x="110" y="328" width="8" height="8" fill="#17e8e8"/>
<rect x="118" y="328" width="8" height="8" fill="#1ce3e3"/>
<rect x="126" y="328" width="8" height="8" fill="#24dbdb"/>
<rect x="134" y="328" width="8" height="8" fill="#2fd0d0"/>
<rect x="142" y="328" width="8" height="8" fill="#38c7c7"/>
<rect x="150" y="328" width="8" height="8" fill="#3ac5c5"/>
<rect x="158" y="328" width="8" height="8" fill="#39c6c6"/>
<rect x="166" y="328" width="8" height="8" fill="#3fc0c0"/>
<rect x="174" y="328" width="8" height="8" fill="#47b8b8"/>
<rect x="182" y="328" width="8" height="8" fill="#50afaf"/>
<rect x="190" y="328" width="8" height="8" fill="#57a8a8"/>
<rect x="198" y="328" width="8" height="8" fill="#5da2a2"/>
<rect x="206" y="328" width="8" height="8" fill="#619e9e"/>
<rect x="214" y="328" width="8" height="8" fill="#639c9c"/>
<rect x="222" y="328" width="8" height="8" fill="#659a9a"/>
<rect x="230" y="328" width="8" height="8" fill="#689797"/>
<rect x="238" y="328" width="8" height="8" fill="#6d9292"/>
<rect x="246" y="328" width="8" height="8" fill="#728d8d"/>
<rect x="254" y="328" width="8" height="8" fill="#778888"/>
<rect x="262" y="328" width="8" height="8" fill="#7a8585"/>
<rect x="270" y="328" width="8" height="8" fill="#7b8484"/>
<rect x="278" y="328" width="8" height="8" fill="#7c8383"/>
<rect x="286" y="328" width="8" height="8" fill="#7d8282"/>
<rect x="294" y="328" width="8" height="8" fill="#7e8181"/>
<rect x="302" y="328" width="8" height="8" fill="#7f8080"/>
<rect x="310" y="328" width="8" height="8" fill="#807f7f"/>
<rect x="318" y="328" width="16" height="8" fill="#817e7e"/>
<rect x="334" y="328" width="16" height="8" fill="#827d7d"/>
<rect x="350" y="328" width="8" height="8" fill="#837c7c"/>
<rect x="358" y="328" width="8" height="8" fill="#857a7a"/>
<rect x="366" y="328" width="8" height="8" fill="#877878"/>
<rect x="374" y="328" width="8" height="8" fill="#887777"/>
<rect x="382" y="328" width="8" height="8" fill="#8a7575"/>
<rect x="390" y="328" width="8" height="8" fill="#8c7373"/>
<rect x="398" y="328" width="8" height="8" fill="#8d7272"/>
<rect x="406" y="328" width="8" height="8" fill="#8f7070"/>
<rect x="414" y="328" width="8" height="8" fill="#936c6c"/>
<rect x="422" y="328" width="8" height="8" fill="#996666"/>
<rect x="430" y="328" width="8" height="8" fill="#a15e5e"/>
<rect x="438" y="328" width="8" height="8" fill="#aa5555"/>
<rect x="446" y="328" width="8" height="8" fill="#b14e4e"/>
<rect x="454" y="328" width="8" height="8" fill="#b84747"/>
<rect x="462" y="328" width="8" height="8" fill="#bc4343"/>
<rect x="470" y="328" width="8" height="8" fill="#bf4040"/>
<rect x="478" y="328" width="8" height="8" fill="#c03f3f"/>
<rect x="486" y="328" width="8" height="8" fill="#bf4040"/>
<rect x="494" y="328" width="8" height="8" fill="#bd4242"/>
<rect x="502" y="328" width="8" height="8" fill="#bc4343"/>
<rect x="510" y="328" width="8" height="8" fill="#ba4545"/>
<rect x="518" y="328" width="8" height="8" fill="#b84747"/>
<rect x="526" y="328" width="8" height="8" fill="#b64949"/>
<rect x="534" y="328" width="8" height="8" fill="#b44b4b"/>
<rect x="542" y="328" width="8" height="8" fill="#b24d4d"/>
<rect x="550" y="328" width="8" height="8" fill="#af5050"/>
<rect x="558" y="328" width="8" height="8" fill="#ad5252"/>
<rect x="566" y="328" width="8" height="8" fill="#aa5555"/>
<rect x="574" y="328" width="8" height="8" fill="#a85757"/>
<rect x="38" y="336" width="40" height="8" fill="#0df2f2"/>
<rect x="78" y="336" width="8" height="8" fill="#0ef1f1"/>
<rect x="86" y="336" width="8" height="8" fill="#0ff0f0"/>
<rect x="94" y="336" width="8" height="8" fill="#10efef"/>
<rect x="102" y="336" width="8" height="8" fill="#13ecec"/>
<rect x="110" y="336" width="8" height="8" fill="#16e9e9"/>
<rect x="118" y="336" width="8" height="8" fill="#1ae5e5"/>
<rect x="126" y="336" width="8" height="8" fill="#21dede"/>
<rect x="134" y="336" width="8" height="8" fill="#29d6d6"/>
<rect x="142" y="336" width="8" height="8" fill="#30cfcf"/>
<rect x="150" y="336" width="16" height="8" fill="#33cccc"/>
<rect x="166" y="336" width="8" height="8" fill="#37c8c8"/>
<rect x="174" y="336" width="8" height="8" fill="#3dc2c2"/>
<rect x="182" y="336" width="8" height="8" fill="#44bbbb"/>
<rect x="190" y="336" width="8" height="8" fill="#4ab5b5"/>
<rect x="198" y="336" width="8" height="8" fill="#4fb0b0"/>
<rect x="206" y="336" width="8" height="8" fill="#53acac"/>
<rect x="214" y="336" width="8" height="8" fill="#55aaaa"/>
<rect x="222" y="336" width="8" height="8" fill="#58a7a7"/>
<rect x="230" y="336" width="8" height="8" fill="#5ca3a3"/>
<rect x="238" y="336" width="8" height="8" fill="#629d9d"/>
<rect x="246" y="336" width="8" height="8" fill="#689797"/>
<rect x="254" y="336" width="8" height="8" fill="#6e9191"/>
<rect x="262" y="336" width="8" height="8" fill="#728d8d"/>
<rect x="270" y="336" width="8" height="8" fill="#758a8a"/>
<rect x="278" y="336" width="8" height="8" fill="#768989"/>
<rect x="286" y="336" width="8" height="8" fill="#788787"/>
<rect x="294" y="336" width="8" height="8" fill="#798686"/>
<rect x="302" y="336" width="8" height="8" fill="#7a8585"/>
<rect x="310" y="336" width="8" height="8" fill="#7b8484"/>
<rect x="318" y="336" width="8" height="8" fill="#7c8383"/>
<rect x="326" y="336" width="16" height="8" fill="#7d8282"/>
<rect x="342" y="336" width="8" height="8" fill="#7e8181"/>
<rect x="350" y="336" width="8" height="8" fill="#7f8080"/>
<rect x="358" y="336" width="8" height="8" fill="#817e7e"/>
<rect x="366" y="336" width="8" height="8" fill="#827d7d"/>
<rect x="374" y="336" width="8" height="8" fill="#847b7b"/>
<rect x="382" y="336" width="8" height="8" fill="#857a7a"/>
<rect x="390" y="336" width="8" height="8" fill="#877878"/>
<rect x="398" y="336" width="8" height="8" fill="#897676"/>
<rect x="406" y="336" width="8" height="8" fill="#8b7474"/>
<rect x="414" y="336" width="8" height="8" fill="#8f7070"/>
<rect x="422" y="336" width="8" height="8" fill="#956a6a"/>
<rect x="430" y="336" width="8" height="8" fill="#9c6363"/>
<rect x="438" y="336" width="8" height="8" fill="#a35c5c"/>
<rect x="446" y="336" width="8" height="8" fill="#aa5555"/>
<rect x="454" y="336" width="8" height="8" fill="#af5050"/>
<rect x="462" y="336" width="8" height="8" fill="#b34c4c"/>
<rect x="470" y="336" width="8" height="8" fill="#b64949"/>
<rect x="478" y="336" width="8" height="8" fill="#b74848"/>
<rect x="486" y="336" width="24" height="8" fill="#b84747"/>
<rect x="510" y="336" width="16" height="8" fill="#b74848"/>
<rect x="526" y="336" width="8" height="8" fill="#b54a4a"/>
<rect x="534" y="336" width="8" height="8" fill="#b44b4b"/>
<rect x="542" y="336" width="8" height="8" fill="#b24d4d"/>
<rect x="550" y="336" width="8" height="8" fill="#b04f4f"/>
<rect x="558" y="336" width="8" height="8" fill="#ae5151"/>
<rect x="566" y="336" width="8" height="8" fill="#ac5353"/>
<rect x="574" y="336" width="8" height="8" fill="#a95656"/>
<rect x="38" y="344" width="40" height="8" fill="#0df2f2"/>
<rect x="78" y="344" width="8" height="8" fill="#0ef1f1"/>
<rect x="86" y="344" width="8" height="8" fill="#0ff0f0"/>
<rect x="94" y="344" width="8" height="8" fill="#10efef"/>
<rect x="102" y="344" width="8" height="8" fill="#12eded"/>
<rect x="110" y="344" width="8" height="8" fill="#15eaea"/>
<rect x="118" y="344" width="8" height="8" fill="#19e6e6"/>
<rect x="126" y="344" width="8" height="8" fill="#1ee1e1"/>
<rect x="134" y="344" width="8" height="8" fill="#24dbdb"/>
<rect x="142" y="344" width="8" height="8" fill="#28d7d7"/>
<rect x="150" y="344" width="8" height="8" fill="#2bd4d4"/>
<rect x="158" y="344" width="8" height="8" fill="#2dd2d2"/>
<rect x="166" y="344" width="8" height="8" fill="#31cece"/>
<rect x="174" y="344" width="8" height="8" fill="#36c9c9"/>
<rect x="182" y="344" width="8" height="8" fill="#3bc4c4"/>
<rect x="190" y="344" width="8" height="8" fill="#40bfbf"/>
<rect x="198" y="344" width="8" height="8" fill="#44bbbb"/>
<rect x="206" y="344" width="8" height="8" fill="#48b7b7"/>
<rect x="214" y="344" width="8" height="8" fill="#4ab5b5"/>
<rect x="222" y="344" width="8" height="8" fill="#4db2b2"/>
<rect x="230" y="344" width="8" height="8" fill="#52adad"/>
<rect x="238" y="344" width="8" height="8" fill="#59a6a6"/>
<rect x="246" y="344" width="8" height="8" fill="#609f9f"/>
<rect x="254" y="344" width="8" height="8" fill="#669999"/>
<rect x="262" y="344" width="8" height="8" fill="#6b9494"/>
<rect x="270" y="344" width="8" height="8" fill="#6e9191"/>
<rect x="278" y="344" width="8" height="8" fill="#718e8e"/>
<rect x="286" y="344" width="8" height="8" fill="#738c8c"/>
<rect x="294" y="344" width="8" height="8" fill="#758a8a"/>
<rect x="302" y="344" width="8" height="8" fill="#768989"/>
<rect x="310" y="344" width="8" height="8" fill="#778888"/>
<rect x="318" y="344" width="8" height="8" fill="#788787"/>
<rect x="326" y="344" width="8" height="8" fill="#798686"/>
<rect x="334" y="344" width="8" height="8" fill="#7a8585"/>
<rect x="342" y="344" width="8" height="8" fill="#7b8484"/>
<rect x="350" y="344" width="8" height="8" fill="#7c8383"/>
<rect x="358" y="344" width="8" height="8" fill="#7d8282"/>
<rect x="366" y="344" width="8" height="8" fill="#7f8080"/>
<rect x="374" y="344" width="8" height="8" fill="#807f7f"/>
<rect x="382" y="344" width="8" height="8" fill="#827d7d"/>
<rect x="390" y="344" width="8" height="8" fill="#837c7c"/>
<rect x="398" y="344" width="8" height="8" fill="#857a7a"/>
<rect x="406" y="344" width="8" height="8" fill="#887777"/>
<rect x="414" y="344" width="8" height="8" fill="#8c7373"/>
<rect x="422" y="344" width="8" height="8" fill="#916e6e"/>
<rect x="430" y="344" width="8" height="8" fill="#976868"/>
<rect x="438" y="344" width="8" height="8" fill="#9d6262"/>
<rect x="446" y="344" width="8" height="8" fill="#a35c5c"/>
<rect x="454" y="344" width="8" height="8" fill="#a85757"/>
<rect x="462" y="344" width="8" height="8" fill="#ab5454"/>
<rect x="470" y="344" width="8" height="8" fill="#ae5151"/>
<rect x="478" y="344" width="8" height="8" fill="#b04f4f"/>
<rect x="486" y="344" width="8" height="8" fill="#b24d4d"/>
<rect x="494" y="344" width="8" height="8" fill="#b34c4c"/>
<rect x="502" y="344" width="8" height="8" fill="#b44b4b"/>
<rect x="510" y="344" width="16" height="8" fill="#b54a4a"/>
<rect x="526" y="344" width="8" height="8" fill="#b44b4b"/>
<rect x="534" y="344" width="8" height="8" fill="#b34c4c"/>
<rect x="542" y="344" width="8" height="8" fill="#b24d4d"/>
<rect x="550" y="344" width="8" height="8" fill="#b14e4e"/>
<rect x="558" y="344" width="8" height="8" fill="#af5050"/>
<rect x="566" y="344" width="8" height="8" fill="#ad5252"/>
<rect x="574" y="344" width="8" height="8" fill="#ab5454"/>
<rect x="38" y="352" width="40" height="8" fill="#0df2f2"/>
<rect x="78" y="352" width="8" height="8" fill="#0ef1f1"/>
<rect x="86" y="352" width="8" height="8" fill="#0ff0f0"/>
<rect x="94" y="352" width="8" height="8" fill="#10efef"/>
<rect x="102" y="352" width="8" height="8" fill="#12eded"/>
<rect x="110" y="352" width="8" height="8" fill="#14ebeb"/>
<rect x="118" y="352" width="8" height="8" fill="#17e8e8"/>
<rect x="126" y="352" width="8" height="8" fill="#1be4e4"/>
<rect x="134" y="352" width="8" height="8" fill="#1fe0e0"/>
<rect x="142" y="352" width="8" height="8" fill="#22dddd"/>
<rect x="150" y="352" width="8" height="8" fill="#25dada"/>
<rect x="158" y="352" width="8" height="8" fill="#27d8d8"/>
<rect x="166" y="352" width="8" height="8" fill="#2bd4d4"/>
<rect x="174" y="352" width="8" height="8" fill="#2fd0d0"/>
<rect x="182" y="352" width="8" height="8" fill="#34cbcb"/>
<rect x="190" y="352" width="8" height="8" fill="#39c6c6"/>
<rect x="198" y="352" width="8" height="8" fill="#3cc3c3"/>
<rect x="206" y="352" width="8" height="8" fill="#3fc0c0"/>
<rect x="214" y="352" width="8" height="8" fill="#42bdbd"/>
<rect x="222" y="352" width="8" height="8" fill="#45baba"/>
<rect x="230" y="352" width="8" height="8" fill="#4ab5b5"/>
<rect x="238" y="352" width="8" height="8" fill="#51aeae"/>
<rect x="246" y="352" width="8" height="8" fill="#58a7a7"/>
<rect x="254" y="352" width="8" height="8" fill="#5fa0a0"/>
<rect x="262" y="352" width="8" height="8" fill="#649b9b"/>
<rect x="270" y="352" width="8" height="8" fill="#689797"/>
<rect x="278" y="352" width="8" height="8" fill="#6c9393"/>
<rect x="286" y="352" width="8" height="8" fill="#6e9191"/>
<rect x="294" y="352" width="8" height="8" fill="#708f8f"/>
<rect x="302" y="352" width="8" height="8" fill="#728d8d"/>
<rect x="310" y="352" width="8" height="8" fill="#738c8c"/>
<rect x="318" y="352" width="8" height="8" fill="#748b8b"/>
<rect x="326" y="352" width="8" height="8" fill="#758a8a"/>
<rect x="334" y="352" width="8" height="8" fill="#768989"/>
<rect x="342" y="352" width="8" height="8" fill="#778888"/>
<rect x="350" y="352" width="8" height="8" fill="#798686"/>
<rect x="358" y="352" width="8" height="8" fill="#7a8585"/>
<rect x="366" y="352" width="8" height="8" fill="#7c8383"/>
<rect x="374" y="352" width="8" height="8" fill="#7d8282"/>
<rect x="382" y="352" width="8" height="8" fill="#7f8080"/>
<rect x="390" y="352" width="8" height="8" fill="#807f7f"/>
<rect x="398" y="352" width="8" height="8" fill="#837c7c"/>
<rect x="406" y="352" width="8" height="8" fill="#867979"/>
<rect x="414" y="352" width="8" height="8" fill="#897676"/>
<rect x="422" y="352" width="8" height="8" fill="#8e7171"/>
<rect x="430" y="352" width="8" height="8" fill="#936c6c"/>
<rect x="438" y="352" width="8" height="8" fill="#996666"/>
<rect x="446" y="352" width="8" height="8" fill="#9e6161"/>
<rect x="454" y="352" width="8" height="8" fill="#a25d5d"/>
<rect x="462" y="352" width="8" height="8" fill="#a65959"/>
<rect x="470" y="352" width="8" height="8" fill="#a85757"/>
<rect x="478" y="352" width="8" height="8" fill="#aa5555"/>
<rect x="486" y="352" width="8" height="8" fill="#ac5353"/>
<rect x="494" y="352" width="8" height="8" fill="#af5050"/>
<rect x="502" y="352" width="8" height="8" fill="#b14e4e"/>
<rect x="510" y="352" width="8" height="8" fill="#b24d4d"/>
<rect x="518" y="352" width="24" height="8" fill="#b34c4c"/>
<rect x="542" y="352" width="8" height="8" fill="#b24d4d"/>
<rect x="550" y="352" width="8" height="8" fill="#b14e4e"/>
<rect x="558" y="352" width="8" height="8" fill="#b04f4f"/>
<rect x="566" y="352" width="8" height="8" fill="#ae5151"/>
<rect x="574" y="352" width="8" height="8" fill="#ac5353"/>
<rect x="38" y="360" width="32" height="8" fill="#0df2f2"/>
<rect x="70" y="360" width="16" height="8" fill="#0ef1f1"/>
<rect x="86" y="360" width="8" height="8" fill="#0ff0f0"/>
<rect x="94" y="360" width="8" height="8" fill="#10efef"/>
<rect x="102" y="360" width="8" height="8" fill="#12eded"/>
<rect x="110" y="360" width="8" height="8" fill="#14ebeb"/>
<rect x="118" y="360" width="8" height="8" fill="#16e9e9"/>
<rect x="126" y="360" width="8" height="8" fill="#18e7e7"/>
<rect x="134" y="360" width="8" height="8" fill="#1ae5e5"/>
<rect x="142" y="360" width="8" height="8" fill="#1de2e2"/>
<rect x="150" y="360" width="8" height="8" fill="#1fe0e0"/>
<rect x="158" y="360" width="8" height="8" fill="#23dcdc"/>
<rect x="166" y="360" width="8" height="8" fill="#26d9d9"/>
<rect x="174" y="360" width="8" height="8" fill="#2bd4d4"/>
<rect x="182" y="360" width="8" height="8" fill="#2fd0d0"/>
<rect x="190" y="360" width="8" height="8" fill="#33cccc"/>
<rect x="198" y="360" width="8" height="8" fill="#37c8c8"/>
<rect x="206" y="360" width="8" height="8" fill="#3ac5c5"/>
<rect x="214" y="360" width="8" height="8" fill="#3cc3c3"/>
<rect x="222" y="360" width="8" height="8" fill="#40bfbf"/>
<rect x="230" y="360" width="8" height="8" fill="#44bbbb"/>
<rect x="238" y="360" width="8" height="8" fill="#4bb4b4"/>
<rect x="246" y="360" width="8" height="8" fill="#52adad"/>
<rect x="254" y="360" width="8" height="8" fill="#59a6a6"/>
<rect x="262" y="360" width="8" height="8" fill="#5ea1a1"/>
<rect x="270" y="360" width="8" height="8" fill="#639c9c"/>
<rect x="278" y="360" width="8" height="8" fill="#669999"/>
<rect x="286" y="360" width="8" height="8" fill="#699696"/>
<rect x="294" y="360" width="8" height="8" fill="#6c9393"/>
<rect x="302" y="360" width="8" height="8" fill="#6d9292"/>
<rect x="310" y="360" width="8" height="8" fill="#6f9090"/>
<rect x="318" y="360" width="8" height="8" fill="#708f8f"/>
<rect x="326" y="360" width="8" height="8" fill="#718e8e"/>
<rect x="334" y="360" width="8" height="8" fill="#738c8c"/>
<rect x="342" y="360" width="8" height="8" fill="#748b8b"/>
<rect x="350" y="360" width="8" height="8" fill="#768989"/>
<rect x="358" y="360" width="8" height="8" fill="#778888"/>
<rect x="366" y="360" width="8" height="8" fill="#798686"/>
<rect x="374" y="360" width="8" height="8" fill="#7a8585"/>
<rect x="382" y="360" width="8" height="8" fill="#7b8484"/>
<rect x="390" y="360" width="8" height="8" fill="#7d8282"/>
<rect x="398" y="360" width="8" height="8" fill="#807f7f"/>
<rect x="406" y="360" width="8" height="8" fill="#837c7c"/>
<rect x="414" y="360" width="8" height="8" fill="#877878"/>
<rect x="422" y="360" width="8" height="8" fill="#8b7474"/>
<rect x="430" y="360" width="8" height="8" fill="#906f6f"/>
<rect x="438" y="360" width="8" height="8" fill="#966969"/>
<rect x="446" y="360" width="8" height="8" fill="#9b6464"/>
<rect x="454" y="360" width="8" height="8" fill="#9f6060"/>
<rect x="462" y="360" width="8" height="8" fill="#a25d5d"/>
<rect x="470" y="360" width="8" height="8" fill="#a55a5a"/>
<rect x="478" y="360" width="8" height="8" fill="#a75858"/>
<rect x="486" y="360" width="8" height="8" fill="#aa5555"/>
<rect x="494" y="360" width="8" height="8" fill="#ac5353"/>
<rect x="502" y="360" width="8" height="8" fill="#af5050"/>
<rect x="510" y="360" width="8" height="8" fill="#b14e4e"/>
<rect x="518" y="360" width="8" height="8" fill="#b24d4d"/>
<rect x="526" y="360" width="16" height="8" fill="#b34c4c"/>
<rect x="542" y="360" width="8" height="8" fill="#b24d4d"/>
<rect x="550" y="360" width="8" height="8" fill="#b14e4e"/>
<rect x="558" y="360" width="8" height="8" fill="#b04f4f"/>
<rect x="566" y="360" width="8" height="8" fill="#af5050"/>
<rect x="574" y="360" width="8" height="8" fill="#ad5252"/>
<rect x="38" y="368" width="32" height="8" fill="#0df2f2"/>
<rect x="70" y="368" width="16" height="8" fill="#0ef1f1"/>
<rect x="86" y="368" width="8" height="8" fill="#0ff0f0"/>
<rect x="94" y="368" width="8" height="8" fill="#10efef"/>
<rect x="102" y="368" width="8" height="8" fill="#11eeee"/>
<rect x="110" y="368" width="8" height="8" fill="#13ecec"/>
<rect x="118" y="368" width="8" height="8" fill="#15eaea"/>
<rect x="126" y="368" width="8" height="8" fill="#16e9e9"/>
<rect x="134" y="368" width="8" height="8" fill="#18e7e7"/>
<rect x="142" y="368" width="8" height="8" fill="#19e6e6"/>
<rect x="150" y="368" width="8" height="8" fill="#1ce3e3"/>
<rect x="158" y="368" width="8" height="8" fill="#1fe0e0"/>
<rect x="166" y="368" width="8" height="8" fill="#23dcdc"/>
<rect x="174" y="368" width="8" height="8" fill="#27d8d8"/>
<rect x="182" y="368" width="8" height="8" fill="#2bd4d4"/>
<rect x="190" y="368" width="8" height="8" fill="#2fd0d0"/>
<rect x="198" y="368" width="8" height="8" fill="#33cccc"/>
<rect x="206" y="368" width="8" height="8" fill="#36c9c9"/>
<rect x="214" y="368" width="8" height="8" fill="#39c6c6"/>
<rect x="222" y="368" width="8" height="8" fill="#3dc2c2"/>
<rect x="230" y="368" width="8" height="8" fill="#41bebe"/>
<rect x="238" y="368" width="8" height="8" fill="#47b8b8"/>
<rect x="246" y="368" width="8" height="8" fill="#4eb1b1"/>
<rect x="254" y="368" width="8" height="8" fill="#54abab"/>
<rect x="262" y="368" width="8" height="8" fill="#59a6a6"/>
<rect x="270" y="368" width="8" height="8" fill="#5da2a2"/>
<rect x="278" y="368" width="8" height="8" fill="#619e9e"/>
<rect x="286" y="368" width="8" height="8" fill="#649b9b"/>
<rect x="294" y="368" width="8" height="8" fill="#679898"/>
<rect x="302" y="368" width="8" height="8" fill="#699696"/>
<rect x="310" y="368" width="8" height="8" fill="#6b9494"/>
<rect x="318" y="368" width="8" height="8" fill="#6c9393"/>
<rect x="326" y="368" width="8" height="8" fill="#6e9191"/>
<rect x="334" y="368" width="8" height="8" fill="#6f9090"/>
<rect x="342" y="368" width="8" height="8" fill="#718e8e"/>
<rect x="350" y="368" width="8" height="8" fill="#728d8d"/>
<rect x="358" y="368" width="8" height="8" fill="#748b8b"/>
<rect x="366" y="368" width="8" height="8" fill="#768989"/>
<rect x="374" y="368" width="8" height="8" fill="#778888"/>
<rect x="382" y="368" width="8" height="8" fill="#788787"/>
<rect x="390" y="368" width="8" height="8" fill="#7a8585"/>
<rect x="398" y="368" width="8" height="8" fill="#7c8383"/>
<rect x="406" y="368" width="8" height="8" fill="#807f7f"/>
<rect x="414" y="368" width="8" height="8" fill="#847b7b"/>
<rect x="422" y="368" width="8" height="8" fill="#887777"/>
<rect x="430" y="368" width="8" height="8" fill="#8e7171"/>
<rect x="438" y="368" width="8" height="8" fill="#936c6c"/>
<rect x="446" y="368" width="8" height="8" fill="#996666"/>
<rect x="454" y="368" width="8" height="8" fill="#9d6262"/>
<rect x="462" y="368" width="8" height="8" fill="#a15e5e"/>
<rect x="470" y="368" width="8" height="8" fill="#a45b5b"/>
<rect x="478" y="368" width="8" height="8" fill="#a75858"/>
<rect x="486" y="368" width="8" height="8" fill="#a95656"/>
<rect x="494" y="368" width="8" height="8" fill="#ac5353"/>
<rect x="502" y="368" width="8" height="8" fill="#ae5151"/>
<rect x="510" y="368" width="8" height="8" fill="#b04f4f"/>
<rect x="518" y="368" width="8" height="8" fill="#b24d4d"/>
<rect x="526" y="368" width="16" height="8" fill="#b34c4c"/>
<rect x="542" y="368" width="16" height="8" fill="#b24d4d"/>
<rect x="558" y="368" width="8" height="8" fill="#b14e4e"/>
<rect x="566" y="368" width="8" height="8" fill="#af5050"/>
<rect x="574" y="368" width="8" height="8" fill="#ad5252"/>
<rect x="38" y="376" width="24" height="8" fill="#0df2f2"/>
<rect x="62" y="376" width="24" height="8" fill="#0ef1f1"/>
<rect x="86" y="376" width="8" height="8" fill="#0ff0f0"/>
<rect x="94" y="376" width="8" height="8" fill="#10efef"/>
<rect x="102" y="376" width="8" height="8" fill="#11eeee"/>
<rect x="110" y="376" width="8" height="8" fill="#12eded"/>
<rect x="118" y="376" width="8" height="8" fill="#14ebeb"/>
<rect x="126" y="376" width="8" height="8" fill="#15eaea"/>
<rect x="134" y="376" width="8" height="8" fill="#16e9e9"/>
<rect x="142" y="376" width="8" height="8" fill="#18e7e7"/>
<rect x="150" y="376" width="8" height="8" fill="#1be4e4"/>
<rect x="158" y="376" width="8" height="8" fill="#1ee1e1"/>
<rect x="166" y="376" width="8" height="8" fill="#21dede"/>
<rect x="174" y="376" width="8" height="8" fill="#25dada"/>
<rect x="182" y="376" width="8" height="8" fill="#29d6d6"/>
<rect x="190" y="376" width="8" height="8" fill="#2dd2d2"/>
<rect x="198" y="376" width="8" height="8" fill="#30cfcf"/>
<rect x="206" y="376" width="8" height="8" fill="#34cbcb"/>
<rect x="214" y="376" width="8" height="8" fill="#37c8c8"/>
<rect x="222" y="376" width="8" height="8" fill="#3bc4c4"/>
<rect x="230" y="376" width="8" height="8" fill="#3fc0c0"/>
<rect x="238" y="376" width="8" height="8" fill="#44bbbb"/>
<rect x="246" y="376" width="8" height="8" fill="#4ab5b5"/>
<rect x="254" y="376" width="8" height="8" fill="#4fb0b0"/>
<rect x="262" y="376" width="8" height="8" fill="#54abab"/>
<rect x="270" y="376" width="8" height="8" fill="#59a6a6"/>
<rect x="278" y="376" width="8" height="8" fill="#5ca3a3"/>
<rect x="286" y="376" width="8" height="8" fill="#5fa0a0"/>
<rect x="294" y="376" width="8" height="8" fill="#629d9d"/>
<rect x="302" y="376" width="8" height="8" fill="#649b9b"/>
<rect x="310" y="376" width="8" height="8" fill="#669999"/>
<rect x="318" y="376" width="8" height="8" fill="#689797"/>
<rect x="326" y="376" width="8" height="8" fill="#6a9595"/>
<rect x="334" y="376" width="8" height="8" fill="#6c9393"/>
<rect x="342" y="376" width="8" height="8" fill="#6d9292"/>
<rect x="350" y="376" width="8" height="8" fill="#6f9090"/>
<rect x="358" y="376" width="8" height="8" fill="#718e8e"/>
<rect x="366" y="376" width="8" height="8" fill="#728d8d"/>
<rect x="374" y="376" width="8" height="8" fill="#748b8b"/>
<rect x="382" y="376" width="8" height="8" fill="#758a8a"/>
<rect x="390" y="376" width="8" height="8" fill="#778888"/>
<rect x="398" y="376" width="8" height="8" fill="#798686"/>
<rect x="406" y="376" width="8" height="8" fill="#7c8383"/>
<rect x="414" y="376" width="8" height="8" fill="#807f7f"/>
<rect x="422" y="376" width="8" height="8" fill="#857a7a"/>
<rect x="430" y="376" width="8" height="8" fill="#8b7474"/>
<rect x="438" y="376" width="8" height="8" fill="#926d6d"/>
<rect x="446" y="376" width="8" height="8" fill="#986767"/>
<rect x="454" y="376" width="8" height="8" fill="#9d6262"/>
<rect x="462" y="376" width="8" height="8" fill="#a25d5d"/>
<rect x="470" y="376" width="8" height="8" fill="#a55a5a"/>
<rect x="478" y="376" width="8" height="8" fill="#a85757"/>
<rect x="486" y="376" width="8" height="8" fill="#ab5454"/>
<rect x="494" y="376" width="8" height="8" fill="#ad5252"/>
<rect x="502" y="376" width="8" height="8" fill="#af5050"/>
<rect x="510" y="376" width="8" height="8" fill="#b14e4e"/>
<rect x="518" y="376" width="8" height="8" fill="#b24d4d"/>
<rect x="526" y="376" width="24" height="8" fill="#b34c4c"/>
<rect x="550" y="376" width="8" height="8" fill="#b24d4d"/>
<rect x="558" y="376" width="8" height="8" fill="#b14e4e"/>
<rect x="566" y="376" width="8" height="8" fill="#af5050"/>
<rect x="574" y="376" width="8" height="8" fill="#ae5151"/>
<rect x="38" y="384" width="16" height="8" fill="#0df2f2"/>
<rect x="54" y="384" width="32" height="8" fill="#0ef1f1"/>
<rect x="86" y="384" width="8" height="8" fill="#0ff0f0"/>
<rect x="94" y="384" width="8" height="8" fill="#10efef"/>
<rect x="102" y="384" width="8" height="8" fill="#11eeee"/>
<rect x="110" y="384" width="8" height="8" fill="#12eded"/>
<rect x="118" y="384" width="8" height="8" fill="#13ecec"/>
<rect x="126" y="384" width="8" height="8" fill="#15eaea"/>
<rect x="134" y="384" width="8" height="8" fill="#16e9e9"/>
<rect x="142" y="384" width="8" height="8" fill="#18e7e7"/>
<rect x="150" y="384" width="8" height="8" fill="#1ae5e5"/>
<rect x="158" y="384" width="8" height="8" fill="#1de2e2"/>
<rect x="166" y="384" width="8" height="8" fill="#21dede"/>
<rect x="174" y="384" width="8" height="8" fill="#24dbdb"/>
<rect x="182" y="384" width="8" height="8" fill="#28d7d7"/>
<rect x="190" y="384" width="8" height="8" fill="#2bd4d4"/>
<rect x="198" y="384" width="8" height="8" fill="#2fd0d0"/>
<rect x="206" y="384" width="8" height="8" fill="#32cdcd"/>
<rect x="214" y="384" width="8" height="8" fill="#36c9c9"/>
<rect x="222" y="384" width="8" height="8" fill="#3ac5c5"/>
<rect x="230" y="384" width="8" height="8" fill="#3ec1c1"/>
<rect x="238" y="384" width="8" height="8" fill="#42bdbd"/>
<rect x="246" y="384" width="8" height="8" fill="#47b8b8"/>
<rect x="254" y="384" width="8" height="8" fill="#4cb3b3"/>
<rect x="262" y="384" width="8" height="8" fill="#51aeae"/>
<rect x="270" y="384" width="8" height="8" fill="#55aaaa"/>
<rect x="278" y="384" width="8" height="8" fill="#58a7a7"/>
<rect x="286" y="384" width="8" height="8" fill="#5ba4a4"/>
<rect x="294" y="384" width="8" height="8" fill="#5ea1a1"/>
<rect x="302" y="384" width="8" height="8" fill="#609f9f"/>
<rect x="310" y="384" width="8" height="8" fill="#639c9c"/>
<rect x="318" y="384" width="8" height="8" fill="#659a9a"/>
<rect x="326" y="384" width="8" height="8" fill="#679898"/>
<rect x="334" y="384" width="8" height="8" fill="#689797"/>
<rect x="342" y="384" width="8" height="8" fill="#6a9595"/>
<rect x="350" y="384" width="8" height="8" fill="#6c9393"/>
<rect x="358" y="384" width="8" height="8" fill="#6e9191"/>
<rect x="366" y="384" width="8" height="8" fill="#6f9090"/>
<rect x="374" y="384" width="8" height="8" fill="#718e8e"/>
<rect x="382" y="384" width="8" height="8" fill="#728d8d"/>
<rect x="390" y="384" width="8" height="8" fill="#748b8b"/>
<rect x="398" y="384" width="8" height="8" fill="#768989"/>
<rect x="406" y="384" width="8" height="8" fill="#798686"/>
<rect x="414" y="384" width="8" height="8" fill="#7d8282"/>
<rect x="422" y="384" width="8" height="8" fill="#837c7c"/>
<rect x="430" y="384" width="8" height="8" fill="#8a7575"/>
<rect x="438" y="384" width="8" height="8" fill="#916e6e"/>
<rect x="446" y="384" width="8" height="8" fill="#986767"/>
<rect x="454" y="384" width="8" height="8" fill="#9e6161"/>
<rect x="462" y="384" width="8" height="8" fill="#a35c5c"/>
<rect x="470" y="384" width="8" height="8" fill="#a75858"/>
<rect x="478" y="384" width="8" height="8" fill="#aa5555"/>
<rect x="486" y="384" width="8" height="8" fill="#ad5252"/>
<rect x="494" y="384" width="8" height="8" fill="#af5050"/>
<rect x="502" y="384" width="8" height="8" fill="#b14e4e"/>
<rect x="510" y="384" width="8" height="8" fill="#b24d4d"/>
<rect x="518" y="384" width="32" height="8" fill="#b34c4c"/>
<rect x="550" y="384" width="8" height="8" fill="#b24d4d"/>
<rect x="558" y="384" width="8" height="8" fill="#b14e4e"/>
<rect x="566" y="384" width="8" height="8" fill="#af5050"/>
<rect x="574" y="384" width="8" height="8" fill="#ae5151"/>
<rect x="38" y="392" width="16" height="8" fill="#0df2f2"/>
<rect x="54" y="392" width="32" height="8" fill="#0ef1f1"/>
<rect x="86" y="392" width="8" height="8" fill="#0ff0f0"/>
<rect x="94" y="392" width="8" height="8" fill="#10efef"/>
<rect x="102" y="392" width="8" height="8" fill="#11eeee"/>
<rect x="110" y="392" width="8" height="8" fill="#12eded"/>
<rect x="118" y="392" width="8" height="8" fill="#13ecec"/>
<rect x="126" y="392" width="8" height="8" fill="#15eaea"/>
<rect x="134" y="392" width="8" height="8" fill="#16e9e9"/>
<rect x="142" y="392" width="8" height="8" fill="#19e6e6"/>
<rect x="150" y="392" width="8" height="8" fill="#1be4e4"/>
<rect x="158" y="392" width="8" height="8" fill="#1ee1e1"/>
<rect x="166" y="392" width="8" height="8" fill="#21dede"/>
<rect x="174" y="392" width="8" height="8" fill="#24dbdb"/>
<rect x="182" y="392" width="8" height="8" fill="#28d7d7"/>
<rect x="190" y="392" width="8" height="8" fill="#2bd4d4"/>
<rect x="198" y="392" width="8" height="8" fill="#2ed1d1"/>
<rect x="206" y="392" width="8" height="8" fill="#31cece"/>
<rect x="214" y="392" width="8" height="8" fill="#35caca"/>
<rect x="222" y="392" width="8" height="8" fill="#38c7c7"/>
<rect x="230" y="392" width="8" height="8" fill="#3cc3c3"/>
<rect x="238" y="392" width="8" height="8" fill="#41bebe"/>
<rect x="246" y="392" width="8" height="8" fill="#45baba"/>
<rect x="254" y="392" width="8" height="8" fill="#4ab5b5"/>
<rect x="262" y="392" width="8" height="8" fill="#4eb1b1"/>
<rect x="270" y="392" width="8" height="8" fill="#52adad"/>
<rect x="278" y="392" width="8" height="8" fill="#55aaaa"/>
<rect x="286" y="392" width="8" height="8" fill="#58a7a7"/>
<rect x="294" y="392" width="8" height="8" fill="#5aa5a5"/>
<rect x="302" y="392" width="8" height="8" fill="#5da2a2"/>
<rect x="310" y="392" width="8" height="8" fill="#5fa0a0"/>
<rect x="318" y="392" width="8" height="8" fill="#619e9e"/>
<rect x="326" y="392" width="8" height="8" fill="#639c9c"/>
<rect x="334" y="392" width="8" height="8" fill="#659a9a"/>
<rect x="342" y="392" width="8" height="8" fill="#679898"/>
<rect x="350" y="392" width="8" height="8" fill="#699696"/>
<rect x="358" y="392" width="8" height="8" fill="#6b9494"/>
<rect x="366" y="392" width="8" height="8" fill="#6c9393"/>
<rect x="374" y="392" width="8" height="8" fill="#6e9191"/>
<rect x="382" y="392" width="8" height="8" fill="#6f9090"/>
<rect x="390" y="392" width="8" height="8" fill="#718e8e"/>
<rect x="398" y="392" width="8" height="8" fill="#738c8c"/>
<rect x="406" y="392" width="8" height="8" fill="#768989"/>
<rect x="414" y="392" width="8" height="8" fill="#7a8585"/>
<rect x="422" y="392" width="8" height="8" fill="#817e7e"/>
<rect x="430" y="392" width="8" height="8" fill="#887777"/>
<rect x="438" y="392" width="8" height="8" fill="#906f6f"/>
<rect x="446" y="392" width="8" height="8" fill="#986767"/>
<rect x="454" y="392" width="8" height="8" fill="#9f6060"/>
<rect x="462" y="392" width="8" height="8" fill="#a55a5a"/>
<rect x="470" y="392" width="8" height="8" fill="#a95656"/>
<rect x="478" y="392" width="8" height="8" fill="#ad5252"/>
<rect x="486" y="392" width="8" height="8" fill="#af5050"/>
<rect x="494" y="392" width="8" height="8" fill="#b14e4e"/>
<rect x="502" y="392" width="8" height="8" fill="#b24d4d"/>
<rect x="510" y="392" width="16" height="8" fill="#b34c4c"/>
<rect x="526" y="392" width="8" height="8" fill="#b44b4b"/>
<rect x="534" y="392" width="16" height="8" fill="#b34c4c"/>
<rect x="550" y="392" width="8" height="8" fill="#b24d4d"/>
<rect x="558" y="392" width="8" height="8" fill="#b14e4e"/>
<rect x="566" y="392" width="8" height="8" fill="#af5050"/>
<rect x="574" y="392" width="8" height="8" fill="#ae5151"/>
<rect x="38" y="400" width="16" height="8" fill="#0df2f2"/>
<rect x="54" y="400" width="32" height="8" fill="#0ef1f1"/>
<rect x="86" y="400" width="8" height="8" fill="#0ff0f0"/>
<rect x="94" y="400" width="8" height="8" fill="#10efef"/>
<rect x="102" y="400" width="8" height="8" fill="#11eeee"/>
<rect x="110" y="400" width="8" height="8" fill="#12eded"/>
<rect x="118" y="400" width="8" height="8" fill="#14ebeb"/>
<rect x="126" y="400" width="8" height="8" fill="#15eaea"/>
<rect x="134" y="400" width="8" height="8" fill="#17e8e8"/>
<rect x="142" y="400" width="8" height="8" fill="#1ae5e5"/>
<rect x="150" y="400" width="8" height="8" fill="#1ce3e3"/>
<rect x="158" y="400" width="8" height="8" fill="#1fe0e0"/>
<rect x="166" y="400" width="8" height="8" fill="#22dddd"/>
<rect x="174" y="400" width="8" height="8" fill="#25dada"/>
<rect x="182" y="400" width="8" height="8" fill="#28d7d7"/>
<rect x="190" y="400" width="8" height="8" fill="#2bd4d4"/>
<rect x="198" y="400" width="8" height="8" fill="#2ed1d1"/>
<rect x="206" y="400" width="8" height="8" fill="#31cece"/>
<rect x="214" y="400" width="8" height="8" fill="#34cbcb"/>
<rect x="222" y="400" width="8" height="8" fill="#37c8c8"/>
<rect x="230" y="400" width="8" height="8" fill="#3bc4c4"/>
<rect x="238" y="400" width="8" height="8" fill="#3fc0c0"/>
<rect x="246" y="400" width="8" height="8" fill="#44bbbb"/>
<rect x="254" y="400" width="8" height="8" fill="#48b7b7"/>
<rect x="262" y="400" width="8" height="8" fill="#4cb3b3"/>
<rect x="270" y="400" width="8" height="8" fill="#4fb0b0"/>
<rect x="278" y="400" width="8" height="8" fill="#52adad"/>
<rect x="286" y="400" width="8" height="8" fill="#55aaaa"/>
<rect x="294" y="400" width="8" height="8" fill="#58a7a7"/>
<rect x="302" y="400" width="8" height="8" fill="#5aa5a5"/>
<rect x="310" y="400" width="8" height="8" fill="#5ca3a3"/>
<rect x="318" y="400" width="8" height="8" fill="#5ea1a1"/>
<rect x="326" y="400" width="8" height="8" fill="#619e9e"/>
<rect x="334" y="400" width="8" height="8" fill="#629d9d"/>
<rect x="342" y="400" width="8" height="8" fill="#649b9b"/>
<rect x="350" y="400" width="8" height="8" fill="#669999"/>
<rect x="358" y="400" width="8" height="8" fill="#689797"/>
<rect x="366" y="400" width="8" height="8" fill="#699696"/>
<rect x="374" y="400" width="8" height="8" fill="#6b9494"/>
<rect x="382" y="400" width="8" height="8" fill="#6c9393"/>
<rect x="390" y="400" width="8" height="8" fill="#6e9191"/>
<rect x="398" y="400" width="8" height="8" fill="#708f8f"/>
<rect x="406" y="400" width="8" height="8" fill="#738c8c"/>
<rect x="414" y="400" width="8" height="8" fill="#788787"/>
<rect x="422" y="400" width="8" height="8" fill="#7e8181"/>
<rect x="430" y="400" width="8" height="8" fill="#867979"/>
<rect x="438" y="400" width="8" height="8" fill="#8e7171"/>
<rect x="446" y="400" width="8" height="8" fill="#976868"/>
<rect x="454" y="400" width="8" height="8" fill="#a05f5f"/>
<rect x="462" y="400" width="8" height="8" fill="#a65959"/>
<rect x="470" y="400" width="8" height="8" fill="#ac5353"/>
<rect x="478" y="400" width="8" height="8" fill="#af5050"/>
<rect x="486" y="400" width="8" height="8" fill="#b14e4e"/>
<rect x="494" y="400" width="8" height="8" fill="#b34c4c"/>
<rect x="502" y="400" width="32" height="8" fill="#b44b4b"/>
<rect x="534" y="400" width="8" height="8" fill="#b34c4c"/>
<rect x="542" y="400" width="8" height="8" fill="#b24d4d"/>
<rect x="550" y="400" width="8" height="8" fill="#b14e4e"/>
<rect x="558" y="400" width="8" height="8" fill="#b04f4f"/>
<rect x="566" y="400" width="8" height="8" fill="#af5050"/>
<rect x="574" y="400" width="8" height="8" fill="#ad5252"/>
<rect x="38" y="408" width="24" height="8" fill="#0df2f2"/>
<rect x="62" y="408" width="24" height="8" fill="#0ef1f1"/>
<rect x="86" y="408" width="8" height="8" fill="#0ff0f0"/>
<rect x="94" y="408" width="8" height="8" fill="#10efef"/>
<rect x="102" y="408" width="8" height="8" fill="#11eeee"/>
<rect x="110" y="408" width="8" height="8" fill="#12eded"/>
<rect x="118" y="408" width="8" height="8" fill="#14ebeb"/>
<rect x="126" y="408" width="8" height="8" fill="#16e9e9"/>
<rect x="134" y="408" width="8" height="8" fill="#19e6e6"/>
<rect x="142" y="408" width="8" height="8" fill="#1be4e4"/>
<rect x="150" y="408" width="8" height="8" fill="#1ee1e1"/>
<rect x="158" y="408" width="8" height="8" fill="#21dede"/>
<rect x="166" y="408" width="8" height="8" fill="#23dcdc"/>
<rect x="174" y="408" width="8" height="8" fill="#26d9d9"/>
<rect x="182" y="408" width="8" height="8" fill="#29d6d6"/>
<rect x="190" y="408" width="8" height="8" fill="#2cd3d3"/>
<rect x="198" y="408" width="8" height="8" fill="#2fd0d0"/>
<rect x="206" y="408" width="8" height="8" fill="#31cece"/>
<rect x="214" y="408" width="8" height="8" fill="#34cbcb"/>
<rect x="222" y="408" width="8" height="8" fill="#37c8c8"/>
<rect x="230" y="408" width="8" height="8" fill="#3ac5c5"/>
<rect x="238" y="408" width="8" height="8" fill="#3ec1c1"/>
<rect x="246" y="408" width="8" height="8" fill="#43bcbc"/>
<rect x="254" y="408" width="8" height="8" fill="#47b8b8"/>
<rect x="262" y="408" width="8" height="8" fill="#4ab5b5"/>
<rect x="270" y="408" width="8" height="8" fill="#4eb1b1"/>
<rect x="278" y="408" width="8" height="8" fill="#50afaf"/>
<rect x="286" y="408" width="8" height="8" fill="#53acac"/>
<rect x="294" y="408" width="8" height="8" fill="#55aaaa"/>
<rect x="302" y="408" width="8" height="8" fill="#58a7a7"/>
<rect x="310" y="408" width="8" height="8" fill="#5aa5a5"/>
<rect x="318" y="408" width="8" height="8" fill="#5ca3a3"/>
<rect x="326" y="408" width="8" height="8" fill="#5ea1a1"/>
<rect x="334" y="408" width="8" height="8" fill="#609f9f"/>
<rect x="342" y="408" width="8" height="8" fill="#629d9d"/>
<rect x="350" y="408" width="8" height="8" fill="#649b9b"/>
<rect x="358" y="408" width="8" height="8" fill="#659a9a"/>
<rect x="366" y="408" width="8" height="8" fill="#679898"/>
<rect x="374" y="408" width="8" height="8" fill="#689797"/>
<rect x="382" y="408" width="8" height="8" fill="#6a9595"/>
<rect x="390" y="408" width="8" height="8" fill="#6c9393"/>
<rect x="398" y="408" width="8" height="8" fill="#6e9191"/>
<rect x="406" y="408" width="8" height="8" fill="#718e8e"/>
<rect x="414" y="408" width="8" height="8" fill="#758a8a"/>
<rect x="422" y="408" width="8" height="8" fill="#7b8484"/>
<rect x="430" y="408" width="8" height="8" fill="#837c7c"/>
<rect x="438" y="408" width="8" height="8" fill="#8c7373"/>
<rect x="446" y="408" width="8" height="8" fill="#966969"/>
<rect x="454" y="408" width="8" height="8" fill="#9f6060"/>
<rect x="462" y="408" width="8" height="8" fill="#a75858"/>
<rect x="470" y="408" width="8" height="8" fill="#ad5252"/>
<rect x="478" y="408" width="8" height="8" fill="#b24d4d"/>
<rect x="486" y="408" width="8" height="8" fill="#b34c4c"/>
<rect x="494" y="408" width="32" height="8" fill="#b44b4b"/>
<rect x="526" y="408" width="8" height="8" fill="#b34c4c"/>
<rect x="534" y="408" width="8" height="8" fill="#b24d4d"/>
<rect x="542" y="408" width="8" height="8" fill="#b14e4e"/>
<rect x="550" y="408" width="8" height="8" fill="#b04f4f"/>
<rect x="558" y="408" width="8" height="8" fill="#af5050"/>
<rect x="566" y="408" width="8" height="8" fill="#ae5151"/>
<rect x="574" y="408" width="8" height="8" fill="#ac5353"/>
<rect x="38" y="416" width="24" height="8" fill="#0df2f2"/>
<rect x="62" y="416" width="24" height="8" fill="#0ef1f1"/>
<rect x="86" y="416" width="8" height="8" fill="#0ff0f0"/>
<rect x="94" y="416" width="8" height="8" fill="#10efef"/>
<rect x="102" y="416" width="8" height="8" fill="#11eeee"/>
<rect x="110" y="416" width="8" height="8" fill="#13ecec"/>
<rect x="118" y="416" width="8" height="8" fill="#15eaea"/>
<rect x="126" y="416" width="8" height="8" fill="#17e8e8"/>
<rect x="134" y="416" width="8" height="8" fill="#1ae5e5"/>
<rect x="142" y="416" width="8" height="8" fill="#1de2e2"/>
<rect x="150" y="416" width="8" height="8" fill="#1fe0e0"/>
<rect x="158" y="416" width="8" height="8" fill="#22dddd"/>
<rect x="166" y="416" width="8" height="8" fill="#25dada"/>
<rect x="174" y="416" width="8" height="8" fill="#28d7d7"/>
<rect x="182" y="416" width="8" height="8" fill="#2bd4d4"/>
<rect x="190" y="416" width="8" height="8" fill="#2ed1d1"/>
<rect x="198" y="416" width="8" height="8" fill="#30cfcf"/>
<rect x="206" y="416" width="8" height="8" fill="#32cdcd"/>
<rect x="214" y="416" width="8" height="8" fill="#34cbcb"/>
<rect x="222" y="416" width="8" height="8" fill="#37c8c8"/>
<rect x="230" y="416" width="8" height="8" fill="#3ac5c5"/>
<rect x="238" y="416" width="8" height="8" fill="#3ec1c1"/>
<rect x="246" y="416" width="8" height="8" fill="#42bdbd"/>
<rect x="254" y="416" width="8" height="8" fill="#46b9b9"/>
<rect x="262" y="416" width="8" height="8" fill="#49b6b6"/>
<rect x="270" y="416" width="8" height="8" fill="#4cb3b3"/>
<rect x="278" y="416" width="8" height="8" fill="#4fb0b0"/>
<rect x="286" y="416" width="8" height="8" fill="#51aeae"/>
<rect x="294" y="416" width="8" height="8" fill="#53acac"/>
<rect x="302" y="416" width="8" height="8" fill="#55aaaa"/>
<rect x="310" y="416" width="8" height="8" fill="#58a7a7"/>
<rect x="318" y="416" width="8" height="8" fill="#5aa5a5"/>
<rect x="326" y="416" width="8" height="8" fill="#5ca3a3"/>
<rect x="334" y="416" width="8" height="8" fill="#5ea1a1"/>
<rect x="342" y="416" width="8" height="8" fill="#609f9f"/>
<rect x="350" y="416" width="8" height="8" fill="#629d9d"/>
<rect x="358" y="416" width="8" height="8" fill="#649b9b"/>
<rect x="366" y="416" width="8" height="8" fill="#659a9a"/>
<rect x="374" y="416" width="8" height="8" fill="#679898"/>
<rect x="382" y="416" width="8" height="8" fill="#699696"/>
<rect x="390" y="416" width="8" height="8" fill="#6a9595"/>
<rect x="398" y="416" width="8" height="8" fill="#6c9393"/>
<rect x="406" y="416" width="8" height="8" fill="#6f9090"/>
<rect x="414" y="416" width="8" height="8" fill="#728d8d"/>
<rect x="422" y="416" width="8" height="8" fill="#788787"/>
<rect x="430" y="416" width="8" height="8" fill="#7f8080"/>
<rect x="438" y="416" width="8" height="8" fill="#887777"/>
<rect x="446" y="416" width="8" height="8" fill="#926d6d"/>
<rect x="454" y="416" width="8" height="8" fill="#9d6262"/>
<rect x="462" y="416" width="8" height="8" fill="#a55a5a"/>
<rect x="470" y="416" width="8" height="8" fill="#ad5252"/>
<rect x="478" y="416" width="8" height="8" fill="#b24d4d"/>
<rect x="486" y="416" width="24" height="8" fill="#b44b4b"/>
<rect x="510" y="416" width="16" height="8" fill="#b34c4c"/>
<rect x="526" y="416" width="8" height="8" fill="#b24d4d"/>
<rect x="534" y="416" width="8" height="8" fill="#b14e4e"/>
<rect x="542" y="416" width="8" height="8" fill="#b04f4f"/>
<rect x="550" y="416" width="8" height="8" fill="#af5050"/>
<rect x="558" y="416" width="8" height="8" fill="#ae5151"/>
<rect x="566" y="416" width="8" height="8" fill="#ad5252"/>
<rect x="574" y="416" width="8" height="8" fill="#ab5454"/>
<rect x="38" y="424" width="32" height="8" fill="#0df2f2"/>
<rect x="70" y="424" width="16" height="8" fill="#0ef1f1"/>
<rect x="86" y="424" width="8" height="8" fill="#0ff0f0"/>
<rect x="94" y="424" width="8" height="8" fill="#10efef"/>
<rect x="102" y="424" width="8" height="8" fill="#12eded"/>
<rect x="110" y="424" width="8" height="8" fill="#14ebeb"/>
<rect x="118" y="424" width="8" height="8" fill="#16e9e9"/>
<rect x="126" y="424" width="8" height="8" fill="#19e6e6"/>
<rect x="134" y="424" width="8" height="8" fill="#1be4e4"/>
<rect x="142" y="424" width="8" height="8" fill="#1ee1e1"/>
<rect x="150" y="424" width="8" height="8" fill="#21dede"/>
<rect x="158" y="424" width="8" height="8" fill="#24dbdb"/>
<rect x="166" y="424" width="8" height="8" fill="#27d8d8"/>
<rect x="174" y="424" width="8" height="8" fill="#2ad5d5"/>
<rect x="182" y="424" width="8" height="8" fill="#2cd3d3"/>
<rect x="190" y="424" width="8" height="8" fill="#2fd0d0"/>
<rect x="198" y="424" width="8" height="8" fill="#32cdcd"/>
<rect x="206" y="424" width="8" height="8" fill="#33cccc"/>
<rect x="214" y="424" width="8" height="8" fill="#35caca"/>
<rect x="222" y="424" width="8" height="8" fill="#38c7c7"/>
<rect x="230" y="424" width="8" height="8" fill="#3ac5c5"/>
<rect x="238" y="424" width="8" height="8" fill="#3ec1c1"/>
<rect x="246" y="424" width="8" height="8" fill="#41bebe"/>
<rect x="254" y="424" width="8" height="8" fill="#45baba"/>
<rect x="262" y="424" width="8" height="8" fill="#48b7b7"/>
<rect x="270" y="424" width="8" height="8" fill="#4ab5b5"/>
<rect x="278" y="424" width="8" height="8" fill="#4db2b2"/>
<rect x="286" y="424" width="8" height="8" fill="#4fb0b0"/>
<rect x="294" y="424" width="8" height="8" fill="#51aeae"/>
<rect x="302" y="424" width="8" height="8" fill="#54abab"/>
<rect x="310" y="424" width="8" height="8" fill="#56a9a9"/>
<rect x="318" y="424" width="8" height="8" fill="#58a7a7"/>
<rect x="326" y="424" width="8" height="8" fill="#5aa5a5"/>
<rect x="334" y="424" width="8" height="8" fill="#5ca3a3"/>
<rect x="342" y="424" width="8" height="8" fill="#5ea1a1"/>
<rect x="350" y="424" width="8" height="8" fill="#609f9f"/>
<rect x="358" y="424" width="8" height="8" fill="#629d9d"/>
<rect x="366" y="424" width="8" height="8" fill="#649b9b"/>
<rect x="374" y="424" width="8" height="8" fill="#669999"/>
<rect x="382" y="424" width="8" height="8" fill="#689797"/>
<rect x="390" y="424" width="8" height="8" fill="#699696"/>
<rect x="398" y="424" width="8" height="8" fill="#6b9494"/>
<rect x="406" y="424" width="8" height="8" fill="#6d9292"/>
<rect x="414" y="424" width="8" height="8" fill="#708f8f"/>
<rect x="422" y="424" width="8" height="8" fill="#748b8b"/>
<rect x="430" y="424" width="8" height="8" fill="#7a8585"/>
<rect x="438" y="424" width="8" height="8" fill="#827d7d"/>
<rect x="446" y="424" width="8" height="8" fill="#8c7373"/>
<rect x="454" y="424" width="8" height="8" fill="#966969"/>
<rect x="462" y="424" width="8" height="8" fill="#a05f5f"/>
<rect x="470" y="424" width="8" height="8" fill="#a85757"/>
<rect x="478" y="424" width="8" height="8" fill="#ae5151"/>
<rect x="486" y="424" width="8" height="8" fill="#b14e4e"/>
<rect x="494" y="424" width="16" height="8" fill="#b24d4d"/>
<rect x="510" y="424" width="16" height="8" fill="#b14e4e"/>
<rect x="526" y="424" width="8" height="8" fill="#b04f4f"/>
<rect x="534" y="424" width="8" height="8" fill="#af5050"/>
<rect x="542" y="424" width="8" height="8" fill="#ae5151"/>
<rect x="550" y="424" width="8" height="8" fill="#ad5252"/>
<rect x="558" y="424" width="8" height="8" fill="#ac5353"/>
<rect x="566" y="424" width="8" height="8" fill="#ab5454"/>
<rect x="574" y="424" width="8" height="8" fill="#aa5555"/>
<rect x="38" y="432" width="24" height="8" fill="#0df2f2"/>
<rect x="62" y="432" width="16" height="8" fill="#0ef1f1"/>
<rect x="78" y="432" width="16" height="8" fill="#0ff0f0"/>
<rect x="94" y="432" width="8" height="8" fill="#10efef"/>
<rect x="102" y="432" width="8" height="8" fill="#12eded"/>
<rect x="110" y="432" width="8" height="8" fill="#14ebeb"/>
<rect x="118" y="432" width="8" height="8" fill="#17e8e8"/>
<rect x="126" y="432" width="8" height="8" fill="#1ae5e5"/>
<rect x="134" y="432" width="8" height="8" fill="#1de2e2"/>
<rect x="142" y="432" width="8" height="8" fill="#20dfdf"/>
<rect x="150" y="432" width="8" height="8" fill="#23dcdc"/>
<rect x="158" y="432" width="8" height="8" fill="#26d9d9"/>
<rect x="166" y="432" width="8" height="8" fill="#28d7d7"/>
<rect x="174" y="432" width="8" height="8" fill="#2bd4d4"/>
<rect x="182" y="432" width="8" height="8" fill="#2ed1d1"/>
<rect x="190" y="432" width="8" height="8" fill="#31cece"/>
<rect x="198" y="432" width="8" height="8" fill="#33cccc"/>
<rect x="206" y="432" width="8" height="8" fill="#35caca"/>
<rect x="214" y="432" width="8" height="8" fill="#36c9c9"/>
<rect x="222" y="432" width="8" height="8" fill="#38c7c7"/>
<rect x="230" y="432" width="8" height="8" fill="#3bc4c4"/>
<rect x="238" y="432" width="8" height="8" fill="#3ec1c1"/>
<rect x="246" y="432" width="8" height="8" fill="#41bebe"/>
<rect x="254" y="432" width="8" height="8" fill="#44bbbb"/>
<rect x="262" y="432" width="8" height="8" fill="#47b8b8"/>
<rect x="270" y="432" width="8" height="8" fill="#49b6b6"/>
<rect x="278" y="432" width="8" height="8" fill="#4bb4b4"/>
<rect x="286" y="432" width="8" height="8" fill="#4eb1b1"/>
<rect x="294" y="432" width="8" height="8" fill="#50afaf"/>
<rect x="302" y="432" width="8" height="8" fill="#52adad"/>
<rect x="310" y="432" width="8" height="8" fill="#54abab"/>
<rect x="318" y="432" width="8" height="8" fill="#56a9a9"/>
<rect x="326" y="432" width="8" height="8" fill="#59a6a6"/>
<rect x="334" y="432" width="8" height="8" fill="#5ba4a4"/>
<rect x="342" y="432" width="8" height="8" fill="#5da2a2"/>
<rect x="350" y="432" width="8" height="8" fill="#5fa0a0"/>
<rect x="358" y="432" width="8" height="8" fill="#629d9d"/>
<rect x="366" y="432" width="8" height="8" fill="#649b9b"/>
<rect x="374" y="432" width="8" height="8" fill="#669999"/>
<rect x="382" y="432" width="8" height="8" fill="#679898"/>
<rect x="390" y="432" width="8" height="8" fill="#699696"/>
<rect x="398" y="432" width="8" height="8" fill="#6a9595"/>
<rect x="406" y="432" width="8" height="8" fill="#6c9393"/>
<rect x="414" y="432" width="8" height="8" fill="#6e9191"/>
<rect x="422" y="432" width="8" height="8" fill="#718e8e"/>
<rect x="430" y="432" width="8" height="8" fill="#758a8a"/>
<rect x="438" y="432" width="8" height="8" fill="#7b8484"/>
<rect x="446" y="432" width="8" height="8" fill="#847b7b"/>
<rect x="454" y="432" width="8" height="8" fill="#8e7171"/>
<rect x="462" y="432" width="8" height="8" fill="#996666"/>
<rect x="470" y="432" width="8" height="8" fill="#a15e5e"/>
<rect x="478" y="432" width="8" height="8" fill="#a85757"/>
<rect x="486" y="432" width="8" height="8" fill="#ab5454"/>
<rect x="494" y="432" width="8" height="8" fill="#ad5252"/>
<rect x="502" y="432" width="16" height="8" fill="#ae5151"/>
<rect x="518" y="432" width="16" height="8" fill="#ad5252"/>
<rect x="534" y="432" width="8" height="8" fill="#ac5353"/>
<rect x="542" y="432" width="16" height="8" fill="#ab5454"/>
<rect x="558" y="432" width="8" height="8" fill="#aa5555"/>
<rect x="566" y="432" width="8" height="8" fill="#a95656"/>
<rect x="574" y="432" width="8" height="8" fill="#a85757"/>
<rect x="38" y="440" width="24" height="8" fill="#0df2f2"/>
<rect x="62" y="440" width="16" height="8" fill="#0ef1f1"/>
<rect x="78" y="440" width="8" height="8" fill="#0ff0f0"/>
<rect x="86" y="440" width="8" height="8" fill="#10efef"/>
<rect x="94" y="440" width="8" height="8" fill="#11eeee"/>
<rect x="102" y="440" width="8" height="8" fill="#13ecec"/>
<rect x="110" y="440" width="8" height="8" fill="#15eaea"/>
<rect x="118" y="440" width="8" height="8" fill="#18e7e7"/>
<rect x="126" y="440" width="8" height="8" fill="#1be4e4"/>
<rect x="134" y="440" width="8" height="8" fill="#1ee1e1"/>
<rect x="142" y="440" width="8" height="8" fill="#21dede"/>
<rect x="150" y="440" width="8" height="8" fill="#24dbdb"/>
<rect x="158" y="440" width="8" height="8" fill="#27d8d8"/>
<rect x="166" y="440" width="8" height="8" fill="#29d6d6"/>
<rect x="174" y="440" width="8" height="8" fill="#2cd3d3"/>
<rect x="182" y="440" width="8" height="8" fill="#2fd0d0"/>
<rect x="190" y="440" width="8" height="8" fill="#32cdcd"/>
<rect x="198" y="440" width="8" height="8" fill="#34cbcb"/>
<rect x="206" y="440" width="8" height="8" fill="#36c9c9"/>
<rect x="214" y="440" width="8" height="8" fill="#37c8c8"/>
<rect x="222" y="440" width="8" height="8" fill="#39c6c6"/>
<rect x="230" y="440" width="8" height="8" fill="#3bc4c4"/>
<rect x="238" y="440" width="8" height="8" fill="#3ec1c1"/>
<rect x="246" y="440" width="8" height="8" fill="#40bfbf"/>
<rect x="254" y="440" width="8" height="8" fill="#43bcbc"/>
<rect x="262" y="440" width="8" height="8" fill="#45baba"/>
<rect x="270" y="440" width="8" height="8" fill="#48b7b7"/>
<rect x="278" y="440" width="8" height="8" fill="#4ab5b5"/>
<rect x="286" y="440" width="8" height="8" fill="#4cb3b3"/>
<rect x="294" y="440" width="8" height="8" fill="#4eb1b1"/>
<rect x="302" y="440" width="8" height="8" fill="#51aeae"/>
<rect x="310" y="440" width="8" height="8" fill="#53acac"/>
<rect x="318" y="440" width="8" height="8" fill="#55aaaa"/>
<rect x="326" y="440" width="8" height="8" fill="#57a8a8"/>
<rect x="334" y="440" width="8" height="8" fill="#5aa5a5"/>
<rect x="342" y="440" width="8" height="8" fill="#5ca3a3"/>
<rect x="350" y="440" width="8" height="8" fill="#5ea1a1"/>
<rect x="358" y="440" width="8" height="8" fill="#619e9e"/>
<rect x="366" y="440" width="8" height="8" fill="#639c9c"/>
<rect x="374" y="440" width="8" height="8" fill="#659a9a"/>
<rect x="382" y="440" width="8" height="8" fill="#679898"/>
<rect x="390" y="440" width="8" height="8" fill="#689797"/>
<rect x="398" y="440" width="8" height="8" fill="#699696"/>
<rect x="406" y="440" width="8" height="8" fill="#6b9494"/>
<rect x="414" y="440" width="8" height="8" fill="#6d9292"/>
<rect x="422" y="440" width="8" height="8" fill="#6f9090"/>
<rect x="430" y="440" width="8" height="8" fill="#728d8d"/>
<rect x="438" y="440" width="8" height="8" fill="#768989"/>
<rect x="446" y="440" width="8" height="8" fill="#7e8181"/>
<rect x="454" y="440" width="8" height="8" fill="#877878"/>
<rect x="462" y="440" width="8" height="8" fill="#916e6e"/>
<rect x="470" y="440" width="8" height="8" fill="#996666"/>
<rect x="478" y="440" width="8" height="8" fill="#9f6060"/>
<rect x="486" y="440" width="8" height="8" fill="#a45b5b"/>
<rect x="494" y="440" width="8" height="8" fill="#a65959"/>
<rect x="502" y="440" width="8" height="8" fill="#a85757"/>
<rect x="510" y="440" width="24" height="8" fill="#a95656"/>
<rect x="534" y="440" width="16" height="8" fill="#a85757"/>
<rect x="550" y="440" width="16" height="8" fill="#a75858"/>
<rect x="566" y="440" width="8" height="8" fill="#a65959"/>
<rect x="574" y="440" width="8" height="8" fill="#a55a5a"/>
<rect x="38" y="448" width="16" height="8" fill="#0df2f2"/>
<rect x="54" y="448" width="16" height="8" fill="#0ef1f1"/>
<rect x="70" y="448" width="16" height="8" fill="#0ff0f0"/>
<rect x="86" y="448" width="8" height="8" fill="#10efef"/>
<rect x="94" y="448" width="8" height="8" fill="#12eded"/>
<rect x="102" y="448" width="8" height="8" fill="#13ecec"/>
<rect x="110" y="448" width="8" height="8" fill="#16e9e9"/>
<rect x="118" y="448" width="8" height="8" fill="#18e7e7"/>
<rect x="126" y="448" width="8" height="8" fill="#1be4e4"/>
<rect x="134" y="448" width="8" height="8" fill="#1ee1e1"/>
<rect x="142" y="448" width="8" height="8" fill="#21dede"/>
<rect x="150" y="448" width="8" height="8" fill="#24dbdb"/>
<rect x="158" y="448" width="8" height="8" fill="#27d8d8"/>
<rect x="166" y="448" width="8" height="8" fill="#2ad5d5"/>
<rect x="174" y="448" width="8" height="8" fill="#2dd2d2"/>
<rect x="182" y="448" width="8" height="8" fill="#2fd0d0"/>
<rect x="190" y="448" width="8" height="8" fill="#32cdcd"/>
<rect x="198" y="448" width="8" height="8" fill="#34cbcb"/>
<rect x="206" y="448" width="8" height="8" fill="#36c9c9"/>
<rect x="214" y="448" width="8" height="8" fill="#37c8c8"/>
<rect x="222" y="448" width="8" height="8" fill="#39c6c6"/>
<rect x="230" y="448" width="8" height="8" fill="#3bc4c4"/>
<rect x="238" y="448" width="8" height="8" fill="#3dc2c2"/>
<rect x="246" y="448" width="8" height="8" fill="#40bfbf"/>
<rect x="254" y="448" width="8" height="8" fill="#42bdbd"/>
<rect x="262" y="448" width="8" height="8" fill="#44bbbb"/>
<rect x="270" y="448" width="8" height="8" fill="#47b8b8"/>
<rect x="278" y="448" width="8" height="8" fill="#49b6b6"/>
<rect x="286" y="448" width="8" height="8" fill="#4bb4b4"/>
<rect x="294" y="448" width="8" height="8" fill="#4db2b2"/>
<rect x="302" y="448" width="8" height="8" fill="#4fb0b0"/>
<rect x="310" y="448" width="8" height="8" fill="#51aeae"/>
<rect x="318" y="448" width="8" height="8" fill="#54abab"/>
<rect x="326" y="448" width="8" height="8" fill="#56a9a9"/>
<rect x="334" y="448" width="8" height="8" fill="#58a7a7"/>
<rect x="342" y="448" width="8" height="8" fill="#5ba4a4"/>
<rect x="350" y="448" width="8" height="8" fill="#5da2a2"/>
<rect x="358" y="448" width="8" height="8" fill="#5fa0a0"/>
<rect x="366" y="448" width="8" height="8" fill="#629d9d"/>
<rect x="374" y="448" width="8" height="8" fill="#649b9b"/>
<rect x="382" y="448" width="8" height="8" fill="#659a9a"/>
<rect x="390" y="448" width="8" height="8" fill="#679898"/>
<rect x="398" y="448" width="8" height="8" fill="#689797"/>
<rect x="406" y="448" width="8" height="8" fill="#6a9595"/>
<rect x="414" y="448" width="8" height="8" fill="#6c9393"/>
<rect x="422" y="448" width="8" height="8" fill="#6e9191"/>
<rect x="430" y="448" width="8" height="8" fill="#718e8e"/>
<rect x="438" y="448" width="8" height="8" fill="#748b8b"/>
<rect x="446" y="448" width="8" height="8" fill="#7a8585"/>
<rect x="454" y="448" width="8" height="8" fill="#827d7d"/>
<rect x="462" y="448" width="8" height="8" fill="#897676"/>
<rect x="470" y="448" width="8" height="8" fill="#916e6e"/>
<rect x="478" y="448" width="8" height="8" fill="#976868"/>
<rect x="486" y="448" width="8" height="8" fill="#9b6464"/>
<rect x="494" y="448" width="8" height="8" fill="#9f6060"/>
<rect x="502" y="448" width="8" height="8" fill="#a15e5e"/>
<rect x="510" y="448" width="8" height="8" fill="#a25d5d"/>
<rect x="518" y="448" width="8" height="8" fill="#a35c5c"/>
<rect x="526" y="448" width="32" height="8" fill="#a45b5b"/>
<rect x="558" y="448" width="16" height="8" fill="#a35c5c"/>
<rect x="574" y="448" width="8" height="8" fill="#a25d5d"/>
<rect x="38" y="456" width="16" height="8" fill="#0df2f2"/>
<rect x="54" y="456" width="16" height="8" fill="#0ef1f1"/>
<rect x="70" y="456" width="8" height="8" fill="#0ff0f0"/>
<rect x="78" y="456" width="8" height="8" fill="#10efef"/>
<rect x="86" y="456" width="8" height="8" fill="#11eeee"/>
<rect x="94" y="456" width="8" height="8" fill="#12eded"/>
<rect x="102" y="456" width="8" height="8" fill="#14ebeb"/>
<rect x="110" y="456" width="8" height="8" fill="#16e9e9"/>
<rect x="118" y="456" width="8" height="8" fill="#19e6e6"/>
<rect x="126" y="456" width="8" height="8" fill="#1ce3e3"/>
<rect x="134" y="456" width="8" height="8" fill="#1fe0e0"/>
<rect x="142" y="456" width="8" height="8" fill="#22dddd"/>
<rect x="150" y="456" width="8" height="8" fill="#24dbdb"/>
<rect x="158" y="456" width="8" height="8" fill="#27d8d8"/>
<rect x="166" y="456" width="8" height="8" fill="#2ad5d5"/>
<rect x="174" y="456" width="8" height="8" fill="#2dd2d2"/>
<rect x="182" y="456" width="8" height="8" fill="#2fd0d0"/>
<rect x="190" y="456" width="8" height="8" fill="#32cdcd"/>
<rect x="198" y="456" width="8" height="8" fill="#34cbcb"/>
<rect x="206" y="456" width="8" height="8" fill="#36c9c9"/>
<rect x="214" y="456" width="8" height="8" fill="#37c8c8"/>
<rect x="222" y="456" width="8" height="8" fill="#39c6c6"/>
<rect x="230" y="456" width="8" height="8" fill="#3bc4c4"/>
<rect x="238" y="456" width="8" height="8" fill="#3dc2c2"/>
<rect x="246" y="456" width="8" height="8" fill="#3fc0c0"/>
<rect x="254" y="456" width="8" height="8" fill="#41bebe"/>
<rect x="262" y="456" width="8" height="8" fill="#43bcbc"/>
<rect x="270" y="456" width="8" height="8" fill="#46b9b9"/>
<rect x="278" y="456" width="8" height="8" fill="#48b7b7"/>
<rect x="286" y="456" width="8" height="8" fill="#4ab5b5"/>
<rect x="294" y="456" width="8" height="8" fill="#4cb3b3"/>
<rect x="302" y="456" width="8" height="8" fill="#4eb1b1"/>
<rect x="310" y="456" width="8" height="8" fill="#50afaf"/>
<rect x="318" y="456" width="8" height="8" fill="#53acac"/>
<rect x="326" y="456" width="8" height="8" fill="#55aaaa"/>
<rect x="334" y="456" width="8" height="8" fill="#57a8a8"/>
<rect x="342" y="456" width="8" height="8" fill="#5aa5a5"/>
<rect x="350" y="456" width="8" height="8" fill="#5ca3a3"/>
<rect x="358" y="456" width="8" height="8" fill="#5ea1a1"/>
<rect x="366" y="456" width="8" height="8" fill="#609f9f"/>
<rect x="374" y="456" width="8" height="8" fill="#629d9d"/>
<rect x="382" y="456" width="8" height="8" fill="#649b9b"/>
<rect x="390" y="456" width="8" height="8" fill="#659a9a"/>
<rect x="398" y="456" width="8" height="8" fill="#679898"/>
<rect x="406" y="456" width="8" height="8" fill="#689797"/>
<rect x="414" y="456" width="8" height="8" fill="#6b9494"/>
<rect x="422" y="456" width="8" height="8" fill="#6d9292"/>
<rect x="430" y="456" width="8" height="8" fill="#708f8f"/>
<rect x="438" y="456" width="8" height="8" fill="#738c8c"/>
<rect x="446" y="456" width="8" height="8" fill="#778888"/>
<rect x="454" y="456" width="8" height="8" fill="#7c8383"/>
<rect x="462" y="456" width="8" height="8" fill="#827d7d"/>
<rect x="470" y="456" width="8" height="8" fill="#897676"/>
<rect x="478" y="456" width="8" height="8" fill="#8e7171"/>
<rect x="486" y="456" width="8" height="8" fill="#936c6c"/>
<rect x="494" y="456" width="8" height="8" fill="#976868"/>
<rect x="502" y="456" width="8" height="8" fill="#9a6565"/>
<rect x="510" y="456" width="8" height="8" fill="#9c6363"/>
<rect x="518" y="456" width="8" height="8" fill="#9d6262"/>
<rect x="526" y="456" width="8" height="8" fill="#9e6161"/>
<rect x="534" y="456" width="8" height="8" fill="#9f6060"/>
<rect x="542" y="456" width="24" height="8" fill="#a05f5f"/>
<rect x="566" y="456" width="16" height="8" fill="#9f6060"/>
<rect x="38" y="464" width="8" height="8" fill="#0df2f2"/>
<rect x="46" y="464" width="16" height="8" fill="#0ef1f1"/>
<rect x="62" y="464" width="8" height="8" fill="#0ff0f0"/>
<rect x="70" y="464" width="8" height="8" fill="#10efef"/>
<rect x="78" y="464" width="8" height="8" fill="#11eeee"/>
<rect x="86" y="464" width="8" height="8" fill="#12eded"/>
<rect x="94" y="464" width="8" height="8" fill="#13ecec"/>
<rect x="102" y="464" width="8" height="8" fill="#15eaea"/>
<rect x="110" y="464" width="8" height="8" fill="#17e8e8"/>
<rect x="118" y="464" width="8" height="8" fill="#19e6e6"/>
<rect x="126" y="464" width="8" height="8" fill="#1ce3e3"/>
<rect x="134" y="464" width="8" height="8" fill="#1fe0e0"/>
<rect x="142" y="464" width="8" height="8" fill="#21dede"/>
<rect x="150" y="464" width="8" height="8" fill="#24dbdb"/>
<rect x="158" y="464" width="8" height="8" fill="#27d8d8"/>
<rect x="166" y="464" width="8" height="8" fill="#2ad5d5"/>
<rect x="174" y="464" width="8" height="8" fill="#2cd3d3"/>
<rect x="182" y="464" width="8" height="8" fill="#2fd0d0"/>
<rect x="190" y="464" width="8" height="8" fill="#31cece"/>
<rect x="198" y="464" width="8" height="8" fill="#33cccc"/>
<rect x="206" y="464" width="8" height="8" fill="#35caca"/>
<rect x="214" y="464" width="8" height="8" fill="#37c8c8"/>
<rect x="222" y="464" width="8" height="8" fill="#39c6c6"/>
<rect x="230" y="464" width="8" height="8" fill="#3ac5c5"/>
<rect x="238" y="464" width="8" height="8" fill="#3cc3c3"/>
<rect x="246" y="464" width="8" height="8" fill="#3ec1c1"/>
<rect x="254" y="464" width="8" height="8" fill="#40bfbf"/>
<rect x="262" y="464" width="8" height="8" fill="#42bdbd"/>
<rect x="270" y="464" width="8" height="8" fill="#44bbbb"/>
<rect x="278" y="464" width="8" height="8" fill="#47b8b8"/>
<rect x="286" y="464" width="8" height="8" fill="#49b6b6"/>
<rect x="294" y="464" width="8" height="8" fill="#4bb4b4"/>
<rect x="302" y="464" width="8" height="8" fill="#4db2b2"/>
<rect x="310" y="464" width="8" height="8" fill="#4fb0b0"/>
<rect x="318" y="464" width="8" height="8" fill="#51aeae"/>
<rect x="326" y="464" width="8" height="8" fill="#54abab"/>
<rect x="334" y="464" width="8" height="8" fill="#56a9a9"/>
<rect x="342" y="464" width="8" height="8" fill="#58a7a7"/>
<rect x="350" y="464" width="8" height="8" fill="#5ba4a4"/>
<rect x="358" y="464" width="8" height="8" fill="#5da2a2"/>
<rect x="366" y="464" width="8" height="8" fill="#5ea1a1"/>
<rect x="374" y="464" width="8" height="8" fill="#609f9f"/>
<rect x="382" y="464" width="8" height="8" fill="#629d9d"/>
<rect x="390" y="464" width="8" height="8" fill="#639c9c"/>
<rect x="398" y="464" width="8" height="8" fill="#659a9a"/>
<rect x="406" y="464" width="8" height="8" fill="#679898"/>
<rect x="414" y="464" width="8" height="8" fill="#699696"/>
<rect x="422" y="464" width="8" height="8" fill="#6b9494"/>
<rect x="430" y="464" width="8" height="8" fill="#6e9191"/>
<rect x="438" y="464" width="8" height="8" fill="#718e8e"/>
<rect x="446" y="464" width="8" height="8" fill="#748b8b"/>
<rect x="454" y="464" width="8" height="8" fill="#778888"/>
<rect x="462" y="464" width="8" height="8" fill="#7c8383"/>
<rect x="470" y="464" width="8" height="8" fill="#817e7e"/>
<rect x="478" y="464" width="8" height="8" fill="#867979"/>
<rect x="486" y="464" width="8" height="8" fill="#8b7474"/>
<rect x="494" y="464" width="8" height="8" fill="#8f7070"/>
<rect x="502" y="464" width="8" height="8" fill="#926d6d"/>
<rect x="510" y="464" width="8" height="8" fill="#956a6a"/>
<rect x="518" y="464" width="8" height="8" fill="#976868"/>
<rect x="526" y="464" width="8" height="8" fill="#996666"/>
<rect x="534" y="464" width="8" height="8" fill="#9a6565"/>
<rect x="542" y="464" width="16" height="8" fill="#9b6464"/>
<rect x="558" y="464" width="24" height="8" fill="#9c6363"/>
<rect x="38" y="472" width="8" height="8" fill="#0df2f2"/>
<rect x="46" y="472" width="8" height="8" fill="#0ef1f1"/>
<rect x="54" y="472" width="16" height="8" fill="#0ff0f0"/>
<rect x="70" y="472" width="8" height="8" fill="#10efef"/>
<rect x="78" y="472" width="8" height="8" fill="#11eeee"/>
<rect x="86" y="472" width="8" height="8" fill="#12eded"/>
<rect x="94" y="472" width="8" height="8" fill="#14ebeb"/>
<rect x="102" y="472" width="8" height="8" fill="#16e9e9"/>
<rect x="110" y="472" width="8" height="8" fill="#18e7e7"/>
<rect x="118" y="472" width="8" height="8" fill="#1ae5e5"/>
<rect x="126" y="472" width="8" height="8" fill="#1ce3e3"/>
<rect x="134" y="472" width="8" height="8" fill="#1fe0e0"/>
<rect x="142" y="472" width="8" height="8" fill="#21dede"/>
<rect x="150" y="472" width="8" height="8" fill="#24dbdb"/>
<rect x="158" y="472" width="8" height="8" fill="#27d8d8"/>
<rect x="166" y="472" width="8" height="8" fill="#29d6d6"/>
<rect x="174" y="472" width="8" height="8" fill="#2cd3d3"/>
<rect x="182" y="472" width="8" height="8" fill="#2ed1d1"/>
<rect x="190" y="472" width="8" height="8" fill="#30cfcf"/>
<rect x="198" y="472" width="8" height="8" fill="#32cdcd"/>
<rect x="206" y="472" width="8" height="8" fill="#34cbcb"/>
<rect x="214" y="472" width="8" height="8" fill="#36c9c9"/>
<rect x="222" y="472" width="8" height="8" fill="#38c7c7"/>
<rect x="230" y="472" width="8" height="8" fill="#3ac5c5"/>
<rect x="238" y="472" width="8" height="8" fill="#3bc4c4"/>
<rect x="246" y="472" width="8" height="8" fill="#3dc2c2"/>
<rect x="254" y="472" width="8" height="8" fill="#3fc0c0"/>
<rect x="262" y="472" width="8" height="8" fill="#41bebe"/>
<rect x="270" y="472" width="8" height="8" fill="#43bcbc"/>
<rect x="278" y="472" width="8" height="8" fill="#45baba"/>
<rect x="286" y="472" width="8" height="8" fill="#48b7b7"/>
<rect x="294" y="472" width="8" height="8" fill="#4ab5b5"/>
<rect x="302" y="472" width="8" height="8" fill="#4cb3b3"/>
<rect x="310" y="472" width="8" height="8" fill="#4eb1b1"/>
<rect x="318" y="472" width="8" height="8" fill="#50afaf"/>
<rect x="326" y="472" width="8" height="8" fill="#52adad"/>
<rect x="334" y="472" width="8" height="8" fill="#55aaaa"/>
<rect x="342" y="472" width="8" height="8" fill="#57a8a8"/>
<rect x="350" y="472" width="8" height="8" fill="#59a6a6"/>
<rect x="358" y="472" width="8" height="8" fill="#5ba4a4"/>
<rect x="366" y="472" width="8" height="8" fill="#5da2a2"/>
<rect x="374" y="472" width="8" height="8" fill="#5ea1a1"/>
<rect x="382" y="472" width="8" height="8" fill="#609f9f"/>
<rect x="390" y="472" width="8" height="8" fill="#619e9e"/>
<rect x="398" y="472" width="8" height="8" fill="#639c9c"/>
<rect x="406" y="472" width="8" height="8" fill="#649b9b"/>
<rect x="414" y="472" width="8" height="8" fill="#669999"/>
<rect x="422" y="472" width="8" height="8" fill="#699696"/>
<rect x="430" y="472" width="8" height="8" fill="#6b9494"/>
<rect x="438" y="472" width="8" height="8" fill="#6d9292"/>
<rect x="446" y="472" width="8" height="8" fill="#6f9090"/>
<rect x="454" y="472" width="8" height="8" fill="#718e8e"/>
<rect x="462" y="472" width="8" height="8" fill="#748b8b"/>
<rect x="470" y="472" width="8" height="8" fill="#798686"/>
<rect x="478" y="472" width="8" height="8" fill="#7e8181"/>
<rect x="486" y="472" width="8" height="8" fill="#837c7c"/>
<rect x="494" y="472" width="8" height="8" fill="#877878"/>
<rect x="502" y="472" width="8" height="8" fill="#8b7474"/>
<rect x="510" y="472" width="8" height="8" fill="#8e7171"/>
<rect x="518" y="472" width="8" height="8" fill="#916e6e"/>
<rect x="526" y="472" width="8" height="8" fill="#936c6c"/>
<rect x="534" y="472" width="8" height="8" fill="#946b6b"/>
<rect x="542" y="472" width="8" height="8" fill="#966969"/>
<rect x="550" y="472" width="16" height="8" fill="#976868"/>
<rect x="566" y="472" width="16" height="8" fill="#986767"/>
<rect x="38" y="480" width="16" height="8" fill="#0ef1f1"/>
<rect x="54" y="480" width="8" height="8" fill="#0ff0f0"/>
<rect x="62" y="480" width="8" height="8" fill="#10efef"/>
<rect x="70" y="480" width="8" height="8" fill="#11eeee"/>
<rect x="78" y="480" width="8" height="8" fill="#12eded"/>
<rect x="86" y="480" width="8" height="8" fill="#13ecec"/>
<rect x="94" y="480" width="8" height="8" fill="#14ebeb"/>
<rect x="102" y="480" width="8" height="8" fill="#16e9e9"/>
<rect x="110" y="480" width="8" height="8" fill="#18e7e7"/>
<rect x="118" y="480" width="8" height="8" fill="#1ae5e5"/>
<rect x="126" y="480" width="8" height="8" fill="#1ce3e3"/>
<rect x="134" y="480" width="8" height="8" fill="#1fe0e0"/>
<rect x="142" y="480" width="8" height="8" fill="#21dede"/>
<rect x="150" y="480" width="8" height="8" fill="#24dbdb"/>
<rect x="158" y="480" width="8" height="8" fill="#26d9d9"/>
<rect x="166" y="480" width="8" height="8" fill="#29d6d6"/>
<rect x="174" y="480" width="8" height="8" fill="#2bd4d4"/>
<rect x="182" y="480" width="8" height="8" fill="#2dd2d2"/>
<rect x="190" y="480" width="8" height="8" fill="#30cfcf"/>
<rect x="198" y="480" width="8" height="8" fill="#32cdcd"/>
<rect x="206" y="480" width="8" height="8" fill="#34cbcb"/>
<rect x="214" y="480" width="8" height="8" fill="#35caca"/>
<rect x="222" y="480" width="8" height="8" fill="#37c8c8"/>
<rect x="230" y="480" width="8" height="8" fill="#39c6c6"/>
<rect x="238" y="480" width="8" height="8" fill="#3ac5c5"/>
<rect x="246" y="480" width="8" height="8" fill="#3cc3c3"/>
<rect x="254" y="480" width="8" height="8" fill="#3ec1c1"/>
<rect x="262" y="480" width="8" height="8" fill="#40bfbf"/>
<rect x="270" y="480" width="8" height="8" fill="#42bdbd"/>
<rect x="278" y="480" width="8" height="8" fill="#44bbbb"/>
<rect x="286" y="480" width="8" height="8" fill="#46b9b9"/>
<rect x="294" y="480" width="8" height="8" fill="#48b7b7"/>
<rect x="302" y="480" width="8" height="8" fill="#4bb4b4"/>
<rect x="310" y="480" width="8" height="8" fill="#4db2b2"/>
<rect x="318" y="480" width="8" height="8" fill="#4fb0b0"/>
<rect x="326" y="480" width="8" height="8" fill="#51aeae"/>
<rect x="334" y="480" width="8" height="8" fill="#53acac"/>
<rect x="342" y="480" width="8" height="8" fill="#55aaaa"/>
<rect x="350" y="480" width="8" height="8" fill="#57a8a8"/>
<rect x="358" y="480" width="8" height="8" fill="#59a6a6"/>
<rect x="366" y="480" width="8" height="8" fill="#5ba4a4"/>
<rect x="374" y="480" width="8" height="8" fill="#5ca3a3"/>
<rect x="382" y="480" width="8" height="8" fill="#5da2a2"/>
<rect x="390" y="480" width="8" height="8" fill="#5fa0a0"/>
<rect x="398" y="480" width="8" height="8" fill="#609f9f"/>
<rect x="406" y="480" width="8" height="8" fill="#629d9d"/>
<rect x="414" y="480" width="8" height="8" fill="#639c9c"/>
<rect x="422" y="480" width="8" height="8" fill="#659a9a"/>
<rect x="430" y="480" width="8" height="8" fill="#679898"/>
<rect x="438" y="480" width="8" height="8" fill="#689797"/>
<rect x="446" y="480" width="8" height="8" fill="#699696"/>
<rect x="454" y="480" width="8" height="8" fill="#6a9595"/>
<rect x="462" y="480" width="8" height="8" fill="#6d9292"/>
<rect x="470" y="480" width="8" height="8" fill="#728d8d"/>
<rect x="478" y="480" width="8" height="8" fill="#778888"/>
<rect x="486" y="480" width="8" height="8" fill="#7b8484"/>
<rect x="494" y="480" width="8" height="8" fill="#807f7f"/>
<rect x="502" y="480" width="8" height="8" fill="#847b7b"/>
<rect x="510" y="480" width="8" height="8" fill="#877878"/>
<rect x="518" y="480" width="8" height="8" fill="#8a7575"/>
<rect x="526" y="480" width="8" height="8" fill="#8d7272"/>
<rect x="534" y="480" width="8" height="8" fill="#8f7070"/>
<rect x="542" y="480" width="8" height="8" fill="#916e6e"/>
<rect x="550" y="480" width="8" height="8" fill="#926d6d"/>
<rect x="558" y="480" width="8" height="8" fill="#936c6c"/>
<rect x="566" y="480" width="16" height="8" fill="#946b6b"/>
<rect x="38" y="488" width="8" height="8" fill="#0ef1f1"/>
<rect x="46" y="488" width="16" height="8" fill="#0ff0f0"/>
<rect x="62" y="488" width="8" height="8" fill="#10efef"/>
<rect x="70" y="488" width="8" height="8" fill="#11eeee"/>
<rect x="78" y="488" width="8" height="8" fill="#12eded"/>
<rect x="86" y="488" width="8" height="8" fill="#13ecec"/>
<rect x="94" y="488" width="8" height="8" fill="#15eaea"/>
<rect x="102" y="488" width="8" height="8" fill="#16e9e9"/>
<rect x="110" y="488" width="8" height="8" fill="#18e7e7"/>
<rect x="118" y="488" width="8" height="8" fill="#1ae5e5"/>
<rect x="126" y="488" width="8" height="8" fill="#1ce3e3"/>
<rect x="134" y="488" width="8" height="8" fill="#1ee1e1"/>
<rect x="142" y="488" width="8" height="8" fill="#21dede"/>
<rect x="150" y="488" width="8" height="8" fill="#23dcdc"/>
<rect x="158" y="488" width="8" height="8" fill="#26d9d9"/>
<rect x="166" y="488" width="8" height="8" fill="#28d7d7"/>
<rect x="174" y="488" width="8" height="8" fill="#2ad5d5"/>
<rect x="182" y="488" width="8" height="8" fill="#2dd2d2"/>
<rect x="190" y="488" width="8" height="8" fill="#2fd0d0"/>
<rect x="198" y="488" width="8" height="8" fill="#31cece"/>
<rect x="206" y="488" width="8" height="8" fill="#33cccc"/>
<rect x="214" y="488" width="8" height="8" fill="#34cbcb"/>
<rect x="222" y="488" width="8" height="8" fill="#36c9c9"/>
<rect x="230" y="488" width="8" height="8" fill="#38c7c7"/>
<rect x="238" y="488" width="8" height="8" fill="#39c6c6"/>
<rect x="246" y="488" width="8" height="8" fill="#3bc4c4"/>
<rect x="254" y="488" width="8" height="8" fill="#3dc2c2"/>
<rect x="262" y="488" width="8" height="8" fill="#3fc0c0"/>
<rect x="270" y="488" width="8" height="8" fill="#41bebe"/>
<rect x="278" y="488" width="8" height="8" fill="#43bcbc"/>
<rect x="286" y="488" width="8" height="8" fill="#45baba"/>
<rect x="294" y="488" width="8" height="8" fill="#47b8b8"/>
<rect x="302" y="488" width="8" height="8" fill="#49b6b6"/>
<rect x="310" y="488" width="8" height="8" fill="#4bb4b4"/>
<rect x="318" y="488" width="8" height="8" fill="#4db2b2"/>
<rect x="326" y="488" width="8" height="8" fill="#50afaf"/>
<rect x="334" y="488" width="8" height="8" fill="#52adad"/>
<rect x="342" y="488" width="8" height="8" fill="#54abab"/>
<rect x="350" y="488" width="8" height="8" fill="#55aaaa"/>
<rect x="358" y="488" width="8" height="8" fill="#57a8a8"/>
<rect x="366" y="488" width="8" height="8" fill="#58a7a7"/>
<rect x="374" y="488" width="8" height="8" fill="#5aa5a5"/>
<rect x="382" y="488" width="8" height="8" fill="#5ba4a4"/>
<rect x="390" y="488" width="8" height="8" fill="#5ca3a3"/>
<rect x="398" y="488" width="8" height="8" fill="#5da2a2"/>
<rect x="406" y="488" width="8" height="8" fill="#5fa0a0"/>
<rect x="414" y="488" width="8" height="8" fill="#609f9f"/>
<rect x="422" y="488" width="8" height="8" fill="#619e9e"/>
<rect x="430" y="488" width="8" height="8" fill="#629d9d"/>
<rect x="438" y="488" width="16" height="8" fill="#639c9c"/>
<rect x="454" y="488" width="8" height="8" fill="#649b9b"/>
<rect x="462" y="488" width="8" height="8" fill="#679898"/>
<rect x="470" y="488" width="8" height="8" fill="#6b9494"/>
<rect x="478" y="488" width="8" height="8" fill="#708f8f"/>
<rect x="486" y="488" width="8" height="8" fill="#758a8a"/>
<rect x="494" y="488" width="8" height="8" fill="#798686"/>
<rect x="502" y="488" width="8" height="8" fill="#7e8181"/>
<rect x="510" y="488" width="8" height="8" fill="#817e7e"/>
<rect x="518" y="488" width="8" height="8" fill="#847b7b"/>
<rect x="526" y="488" width="8" height="8" fill="#877878"/>
<rect x="534" y="488" width="8" height="8" fill="#8a7575"/>
<rect x="542" y="488" width="8" height="8" fill="#8c7373"/>
<rect x="550" y="488" width="8" height="8" fill="#8d7272"/>
<rect x="558" y="488" width="8" height="8" fill="#8f7070"/>
<rect x="566" y="488" width="16" height="8" fill="#906f6f"/>
<rect x="38" y="496" width="8" height="8" fill="#0ef1f1"/>
<rect x="46" y="496" width="8" height="8" fill="#0ff0f0"/>
<rect x="54" y="496" width="8" height="8" fill="#10efef"/>
<rect x="62" y="496" width="8" height="8" fill="#11eeee"/>
<rect x="70" y="496" width="8" height="8" fill="#12eded"/>
<rect x="78" y="496" width="8" height="8" fill="#13ecec"/>
<rect x="86" y="496" width="8" height="8" fill="#14ebeb"/>
<rect x="94" y="496" width="8" height="8" fill="#15eaea"/>
<rect x="102" y="496" width="8" height="8" fill="#17e8e8"/>
<rect x="110" y="496" width="8" height="8" fill="#18e7e7"/>
<rect x="118" y="496" width="8" height="8" fill="#1ae5e5"/>
<rect x="126" y="496" width="8" height="8" fill="#1ce3e3"/>
<rect x="134" y="496" width="8" height="8" fill="#1ee1e1"/>
<rect x="142" y="496" width="8" height="8" fill="#21dede"/>
<rect x="150" y="496" width="8" height="8" fill="#23dcdc"/>
<rect x="158" y="496" width="8" height="8" fill="#25dada"/>
<rect x="166" y="496" width="8" height="8" fill="#27d8d8"/>
<rect x="174" y="496" width="8" height="8" fill="#2ad5d5"/>
<rect x="182" y="496" width="8" height="8" fill="#2cd3d3"/>
<rect x="190" y="496" width="8" height="8" fill="#2ed1d1"/>
<rect x="198" y="496" width="8" height="8" fill="#30cfcf"/>
<rect x="206" y="496" width="8" height="8" fill="#32cdcd"/>
<rect x="214" y="496" width="8" height="8" fill="#33cccc"/>
<rect x="222" y="496" width="8" height="8" fill="#35caca"/>
<rect x="230" y="496" width="8" height="8" fill="#37c8c8"/>
<rect x="238" y="496" width="8" height="8" fill="#39c6c6"/>
<rect x="246" y="496" width="8" height="8" fill="#3ac5c5"/>
<rect x="254" y="496" width="8" height="8" fill="#3cc3c3"/>
<rect x="262" y="496" width="8" height="8" fill="#3ec1c1"/>
<rect x="270" y="496" width="8" height="8" fill="#40bfbf"/>
<rect x="278" y="496" width="8" height="8" fill="#42bdbd"/>
<rect x="286" y="496" width="8" height="8" fill="#44bbbb"/>
<rect x="294" y="496" width="8" height="8" fill="#46b9b9"/>
<rect x="302" y="496" width="8" height="8" fill="#48b7b7"/>
<rect x="310" y="496" width="8" height="8" fill="#4ab5b5"/>
<rect x="318" y="496" width="8" height="8" fill="#4cb3b3"/>
<rect x="326" y="496" width="8" height="8" fill="#4eb1b1"/>
<rect x="334" y="496" width="8" height="8" fill="#50afaf"/>
<rect x="342" y="496" width="8" height="8" fill="#52adad"/>
<rect x="350" y="496" width="8" height="8" fill="#53acac"/>
<rect x="358" y="496" width="8" height="8" fill="#55aaaa"/>
<rect x="366" y="496" width="8" height="8" fill="#56a9a9"/>
<rect x="374" y="496" width="8" height="8" fill="#57a8a8"/>
<rect x="382" y="496" width="8" height="8" fill="#58a7a7"/>
<rect x="390" y="496" width="8" height="8" fill="#59a6a6"/>
<rect x="398" y="496" width="8" height="8" fill="#5aa5a5"/>
<rect x="406" y="496" width="8" height="8" fill="#5ba4a4"/>
<rect x="414" y="496" width="8" height="8" fill="#5ca3a3"/>
<rect x="422" y="496" width="8" height="8" fill="#5da2a2"/>
<rect x="430" y="496" width="16" height="8" fill="#5ea1a1"/>
<rect x="446" y="496" width="8" height="8" fill="#5fa0a0"/>
<rect x="454" y="496" width="8" height="8" fill="#609f9f"/>
<rect x="462" y="496" width="8" height="8" fill="#629d9d"/>
<rect x="470" y="496" width="8" height="8" fill="#669999"/>
<rect x="478" y="496" width="8" height="8" fill="#6b9494"/>
<rect x="486" y="496" width="8" height="8" fill="#6f9090"/>
<rect x="494" y="496" width="8" height="8" fill="#748b8b"/>
<rect x="502" y="496" width="8" height="8" fill="#788787"/>
<rect x="510" y="496" width="8" height="8" fill="#7b8484"/>
<rect x="518" y="496" width="8" height="8" fill="#7f8080"/>
<rect x="526" y="496" width="8" height="8" fill="#827d7d"/>
<rect x="534" y="496" width="8" height="8" fill="#847b7b"/>
<rect x="542" y="496" width="8" height="8" fill="#877878"/>
<rect x="550" y="496" width="8" height="8" fill="#897676"/>
<rect x="558" y="496" width="8" height="8" fill="#8a7575"/>
<rect x="566" y="496" width="8" height="8" fill="#8c7373"/>
<rect x="574" y="496" width="8" height="8" fill="#8d7272"/>
<rect x="38" y="504" width="8" height="8" fill="#0ef1f1"/>
<rect x="46" y="504" width="8" height="8" fill="#0ff0f0"/>
<rect x="54" y="504" width="8" height="8" fill="#10efef"/>
<rect x="62" y="504" width="8" height="8" fill="#11eeee"/>
<rect x="70" y="504" width="8" height="8" fill="#12eded"/>
<rect x="78" y="504" width="8" height="8" fill="#13ecec"/>
<rect x="86" y="504" width="8" height="8" fill="#14ebeb"/>
<rect x="94" y="504" width="8" height="8" fill="#16e9e9"/>
<rect x="102" y="504" width="8" height="8" fill="#17e8e8"/>
<rect x="110" y="504" width="8" height="8" fill="#19e6e6"/>
<rect x="118" y="504" width="8" height="8" fill="#1ae5e5"/>
<rect x="126" y="504" width="8" height="8" fill="#1ce3e3"/>
<rect x="134" y="504" width="8" height="8" fill="#1ee1e1"/>
<rect x="142" y="504" width="8" height="8" fill="#20dfdf"/>
<rect x="150" y="504" width="8" height="8" fill="#22dddd"/>
<rect x="158" y="504" width="8" height="8" fill="#25dada"/>
<rect x="166" y="504" width="8" height="8" fill="#27d8d8"/>
<rect x="174" y="504" width="8" height="8" fill="#29d6d6"/>
<rect x="182" y="504" width="8" height="8" fill="#2bd4d4"/>
<rect x="190" y="504" width="8" height="8" fill="#2dd2d2"/>
<rect x="198" y="504" width="8" height="8" fill="#2fd0d0"/>
<rect x="206" y="504" width="8" height="8" fill="#31cece"/>
<rect x="214" y="504" width="8" height="8" fill="#33cccc"/>
<rect x="222" y="504" width="8" height="8" fill="#34cbcb"/>
<rect x="230" y="504" width="8" height="8" fill="#36c9c9"/>
<rect x="238" y="504" width="8" height="8" fill="#38c7c7"/>
<rect x="246" y="504" width="8" height="8" fill="#39c6c6"/>
<rect x="254" y="504" width="8" height="8" fill="#3bc4c4"/>
<rect x="262" y="504" width="8" height="8" fill="#3dc2c2"/>
<rect x="270" y="504" width="8" height="8" fill="#3fc0c0"/>
<rect x="278" y="504" width="8" height="8" fill="#41bebe"/>
<rect x="286" y="504" width="8" height="8" fill="#43bcbc"/>
<rect x="294" y="504" width="8" height="8" fill="#44bbbb"/>
<rect x="302" y="504" width="8" height="8" fill="#46b9b9"/>
<rect x="310" y="504" width="8" height="8" fill="#48b7b7"/>
<rect x="318" y="504" width="8" height="8" fill="#4ab5b5"/>
<rect x="326" y="504" width="8" height="8" fill="#4cb3b3"/>
<rect x="334" y="504" width="8" height="8" fill="#4eb1b1"/>
<rect x="342" y="504" width="8" height="8" fill="#50afaf"/>
<rect x="350" y="504" width="8" height="8" fill="#51aeae"/>
<rect x="358" y="504" width="8" height="8" fill="#52adad"/>
<rect x="366" y="504" width="8" height="8" fill="#54abab"/>
<rect x="374" y="504" width="8" height="8" fill="#55aaaa"/>
<rect x="382" y="504" width="8" height="8" fill="#56a9a9"/>
<rect x="390" y="504" width="16" height="8" fill="#57a8a8"/>
<rect x="406" y="504" width="8" height="8" fill="#58a7a7"/>
<rect x="414" y="504" width="16" height="8" fill="#59a6a6"/>
<rect x="430" y="504" width="16" height="8" fill="#5aa5a5"/>
<rect x="446" y="504" width="8" height="8" fill="#5ba4a4"/>
<rect x="454" y="504" width="8" height="8" fill="#5ca3a3"/>
<rect x="462" y="504" width="8" height="8" fill="#5fa0a0"/>
<rect x="470" y="504" width="8" height="8" fill="#629d9d"/>
<rect x="478" y="504" width="8" height="8" fill="#669999"/>
<rect x="486" y="504" width="8" height="8" fill="#6a9595"/>
<rect x="494" y="504" width="8" height="8" fill="#6e9191"/>
<rect x="502" y="504" width="8" height="8" fill="#728d8d"/>
<rect x="510" y="504" width="8" height="8" fill="#768989"/>
<rect x="518" y="504" width="8" height="8" fill="#7a8585"/>
<rect x="526" y="504" width="8" height="8" fill="#7d8282"/>
<rect x="534" y="504" width="8" height="8" fill="#807f7f"/>
<rect x="542" y="504" width="8" height="8" fill="#827d7d"/>
<rect x="550" y="504" width="8" height="8" fill="#847b7b"/>
<rect x="558" y="504" width="8" height="8" fill="#867979"/>
<rect x="566" y="504" width="8" height="8" fill="#877878"/>
<rect x="574" y="504" width="8" height="8" fill="#897676"/></g>
<defs><clipPath id="landin"><path d="M56.8,26.8 L56.8,134.2 L98.5,134.2 L98.5,123.5 L139.7,123.2 L152.8,119.0 L152.8,145.0 L160.8,150.4 L166.9,152.4 L172.3,156.7 L170.3,180.4 L167.3,188.6 L148.4,191.8 L130.6,197.4 L128.8,211.1 L129.8,225.5 L136.3,237.0 L141.5,243.5 L146.4,253.3 L153.8,266.0 L152.8,278.0 L156.1,282.4 L161.1,295.0 L163.6,307.3 L166.0,321.6 L168.4,331.4 L170.8,341.3 L170.8,351.8 L175.3,351.8 L177.7,347.0 L188.3,347.0 L200.6,344.6 L213.1,347.0 L224.1,349.2 L226.5,346.0 L224.3,337.1 L222.3,328.5 L219.1,320.7 L215.1,310.2 L212.4,295.6 L211.3,286.2 L203.7,282.9 L194.7,284.1 L195.4,270.1 L199.2,259.8 L198.3,250.7 L192.3,243.5 L204.2,236.4 L221.2,230.4 L232.5,222.8 L236.4,211.3 L243.9,198.3 L264.6,196.6 L299.7,189.6 L319.8,187.2 L344.7,184.2 L351.3,182.8 L382.8,182.8 L426.8,172.7 L426.8,205.6 L417.6,218.6 L401.5,222.2 L390.4,228.8 L376.1,234.7 L365.7,231.5 L362.4,236.5 L364.5,253.6 L368.9,266.8 L373.2,276.3 L391.9,277.8 L420.2,277.8 L436.5,282.4 L452.6,288.9 L465.6,298.6 L475.4,308.4 L481.8,318.2 L485.0,327.6 L488.0,331.2 L500.6,343.8 L505.5,360.1 L503.7,372.6 L492.8,374.4 L476.7,369.7 L464.0,363.3 L451.2,352.2 L447.8,346.4 L438.5,358.2 L429.4,370.4 L423.5,382.4 L422.0,396.6 L428.8,402.0 L440.8,406.5 L448.2,409.0 L451.1,395.8 L461.8,394.0 L471.6,395.0 L481.5,398.3 L491.4,408.9 L494.7,418.7 L494.7,431.9 L488.0,442.0 L475.3,449.9 L462.9,457.7 L451.1,465.0 L450.0,471.0 L457.1,476.6 L462.2,485.6 L462.0,488.2 L558.2,488.2 L558.2,26.8Z" clip-rule="evenodd"/></clipPath></defs>
<polygon points="55.0,25.0 560.0,25.0 560.0,490.0 460.0,490.0 460.4,486.0 455.7,477.8 448.0,471.7 449.5,463.9 461.9,456.2 474.3,448.4 486.7,440.7 492.9,431.4 492.9,419.0 489.8,409.8 480.5,399.9 471.2,396.8 461.9,395.8 452.6,397.4 449.5,411.3 440.2,408.2 427.9,403.6 420.1,397.4 421.7,381.9 427.9,369.5 437.1,357.1 448.0,343.2 452.6,351.0 465.0,361.8 477.4,368.0 492.9,372.6 502.1,371.0 503.7,360.2 499.0,344.8 486.7,332.4 483.4,328.5 480.2,319.0 474.0,309.5 464.4,300.0 451.7,290.5 435.9,284.1 420.0,279.6 391.8,279.6 372.0,278.0 367.2,267.5 362.7,254.0 360.5,236.0 365.0,229.4 376.0,232.8 389.6,227.2 400.8,220.5 416.5,217.0 425.0,205.0 425.0,190.0 425.0,175.0 383.0,184.6 351.5,184.6 345.0,186.0 320.0,189.0 300.0,191.4 264.8,198.4 245.0,200.0 238.0,212.0 234.0,224.0 222.0,232.0 205.0,238.0 195.0,244.0 200.0,250.0 201.0,260.0 197.2,270.5 196.6,282.0 204.0,281.0 213.0,285.0 214.2,295.3 216.8,309.7 220.8,320.0 224.0,328.0 226.0,336.7 228.5,346.4 224.8,351.2 212.7,348.8 200.6,346.4 188.5,348.8 178.8,348.8 176.4,353.6 169.0,353.6 169.0,341.5 166.7,331.8 164.2,322.0 161.8,307.6 159.4,295.5 154.5,283.3 151.0,278.5 152.0,266.4 144.8,254.2 140.0,244.5 134.8,238.0 128.0,226.0 127.0,211.0 129.0,196.0 148.0,190.0 166.0,187.0 168.5,180.0 170.4,157.5 166.0,154.0 160.0,152.0 151.0,146.0 151.0,121.5 140.0,125.0 100.3,125.3 100.3,136.0 55.0,136.0" fill="#7fb200"/>
<polygon points="351.0,184.0 320.0,187.0 300.0,187.0 280.0,187.0 255.0,186.4 240.0,194.0 232.0,215.0 230.0,225.2 209.2,229.2 198.8,234.4 192.2,244.8 187.0,254.0 188.3,263.0 189.6,272.3 190.0,282.0 196.5,282.0 197.5,272.3 200.0,265.8 201.4,259.2 205.3,254.0 211.8,246.0 219.7,238.3 230.0,233.0 235.0,226.0 249.4,222.0 262.0,216.0 276.8,211.0 290.0,207.0 304.0,203.0 313.4,200.0 329.0,194.0 345.0,189.0" fill="#40c8cc"/>
<rect x="331.7" y="184.1" width="7.2" height="3.6" fill="#00ffff"/><rect x="338.9" y="184.1" width="10.8" height="3.6" fill="#48c8d0"/><rect x="248.9" y="187.7" width="3.6" height="3.6" fill="#00ffff"/><rect x="252.5" y="187.7" width="3.6" height="3.6" fill="#7fb200"/><rect x="256.1" y="187.7" width="3.6" height="3.6" fill="#00ffff"/><rect x="259.7" y="187.7" width="3.6" height="3.6" fill="#10d8ff"/><rect x="263.3" y="187.7" width="3.6" height="3.6" fill="#48c8d0"/><rect x="270.5" y="187.7" width="3.6" height="3.6" fill="#7fb200"/><rect x="274.1" y="187.7" width="10.8" height="3.6" fill="#00ffff"/><rect x="284.9" y="187.7" width="3.6" height="3.6" fill="#8aa0a8"/><rect x="288.5" y="187.7" width="3.6" height="3.6" fill="#48c8d0"/><rect x="292.1" y="187.7" width="3.6" height="3.6" fill="#00ffff"/><rect x="295.7" y="187.7" width="3.6" height="3.6" fill="#8aa0a8"/><rect x="299.3" y="187.7" width="3.6" height="3.6" fill="#00ffff"/><rect x="302.9" y="187.7" width="3.6" height="3.6" fill="#48c8d0"/><rect x="306.5" y="187.7" width="3.6" height="3.6" fill="#7fb200"/><rect x="310.1" y="187.7" width="3.6" height="3.6" fill="#00ffff"/><rect x="313.7" y="187.7" width="3.6" height="3.6" fill="#48c8d0"/><rect x="317.3" y="187.7" width="3.6" height="3.6" fill="#7fb200"/><rect x="320.9" y="187.7" width="3.6" height="3.6" fill="#10d8ff"/><rect x="324.5" y="187.7" width="3.6" height="3.6" fill="#48c8d0"/><rect x="328.1" y="187.7" width="7.2" height="3.6" fill="#00ffff"/><rect x="335.3" y="187.7" width="7.2" height="3.6" fill="#7fb200"/><rect x="241.7" y="191.3" width="3.6" height="3.6" fill="#7fb200"/><rect x="245.3" y="191.3" width="3.6" height="3.6" fill="#8aa0a8"/><rect x="248.9" y="191.3" width="3.6" height="3.6" fill="#7fb200"/><rect x="256.1" y="191.3" width="3.6" height="3.6" fill="#8aa0a8"/><rect x="259.7" y="191.3" width="3.6" height="3.6" fill="#7fb200"/><rect x="263.3" y="191.3" width="3.6" height="3.6" fill="#10d8ff"/><rect x="266.9" y="191.3" width="3.6" height="3.6" fill="#00ffff"/><rect x="270.5" y="191.3" width="3.6" height="3.6" fill="#8aa0a8"/><rect x="274.1" y="191.3" width="3.6" height="3.6" fill="#48c8d0"/><rect x="277.7" y="191.3" width="3.6" height="3.6" fill="#00ffff"/><rect x="281.3" y="191.3" width="3.6" height="3.6" fill="#7fb200"/><rect x="284.9" y="191.3" width="3.6" height="3.6" fill="#00ffff"/><rect x="288.5" y="191.3" width="3.6" height="3.6" fill="#7fb200"/><rect x="292.1" y="191.3" width="3.6" height="3.6" fill="#48c8d0"/><rect x="295.7" y="191.3" width="7.2" height="3.6" fill="#7fb200"/><rect x="302.9" y="191.3" width="3.6" height="3.6" fill="#48c8d0"/><rect x="306.5" y="191.3" width="3.6" height="3.6" fill="#7fb200"/><rect x="313.7" y="191.3" width="7.2" height="3.6" fill="#00ffff"/><rect x="320.9" y="191.3" width="3.6" height="3.6" fill="#8aa0a8"/><rect x="324.5" y="191.3" width="3.6" height="3.6" fill="#00ffff"/><rect x="328.1" y="191.3" width="3.6" height="3.6" fill="#48c8d0"/><rect x="238.1" y="194.9" width="3.6" height="3.6" fill="#10d8ff"/><rect x="241.7" y="194.9" width="3.6" height="3.6" fill="#48c8d0"/><rect x="245.3" y="194.9" width="3.6" height="3.6" fill="#8aa0a8"/><rect x="248.9" y="194.9" width="7.2" height="3.6" fill="#7fb200"/><rect x="256.1" y="194.9" width="3.6" height="3.6" fill="#48c8d0"/><rect x="259.7" y="194.9" width="25.2" height="3.6" fill="#00ffff"/><rect x="284.9" y="194.9" width="3.6" height="3.6" fill="#8aa0a8"/><rect x="288.5" y="194.9" width="3.6" height="3.6" fill="#00ffff"/><rect x="292.1" y="194.9" width="3.6" height="3.6" fill="#48c8d0"/><rect x="295.7" y="194.9" width="3.6" height="3.6" fill="#7fb200"/><rect x="302.9" y="194.9" width="3.6" height="3.6" fill="#48c8d0"/><rect x="306.5" y="194.9" width="10.8" height="3.6" fill="#00ffff"/><rect x="317.3" y="194.9" width="3.6" height="3.6" fill="#10d8ff"/><rect x="238.1" y="198.5" width="7.2" height="3.6" fill="#00ffff"/><rect x="245.3" y="198.5" width="3.6" height="3.6" fill="#10d8ff"/><rect x="248.9" y="198.5" width="3.6" height="3.6" fill="#7fb200"/><rect x="252.5" y="198.5" width="3.6" height="3.6" fill="#48c8d0"/><rect x="256.1" y="198.5" width="7.2" height="3.6" fill="#7fb200"/><rect x="263.3" y="198.5" width="3.6" height="3.6" fill="#00ffff"/><rect x="266.9" y="198.5" width="3.6" height="3.6" fill="#10d8ff"/><rect x="270.5" y="198.5" width="7.2" height="3.6" fill="#7fb200"/><rect x="277.7" y="198.5" width="3.6" height="3.6" fill="#48c8d0"/><rect x="281.3" y="198.5" width="7.2" height="3.6" fill="#00ffff"/><rect x="288.5" y="198.5" width="3.6" height="3.6" fill="#7fb200"/><rect x="295.7" y="198.5" width="3.6" height="3.6" fill="#10d8ff"/><rect x="306.5" y="198.5" width="7.2" height="3.6" fill="#00ffff"/><rect x="234.5" y="202.1" width="3.6" height="3.6" fill="#8aa0a8"/><rect x="241.7" y="202.1" width="3.6" height="3.6" fill="#48c8d0"/><rect x="245.3" y="202.1" width="3.6" height="3.6" fill="#7fb200"/><rect x="248.9" y="202.1" width="3.6" height="3.6" fill="#8aa0a8"/><rect x="256.1" y="202.1" width="3.6" height="3.6" fill="#7fb200"/><rect x="259.7" y="202.1" width="7.2" height="3.6" fill="#00ffff"/><rect x="266.9" y="202.1" width="3.6" height="3.6" fill="#10d8ff"/><rect x="270.5" y="202.1" width="3.6" height="3.6" fill="#48c8d0"/><rect x="277.7" y="202.1" width="7.2" height="3.6" fill="#00ffff"/><rect x="288.5" y="202.1" width="3.6" height="3.6" fill="#00ffff"/><rect x="292.1" y="202.1" width="3.6" height="3.6" fill="#10d8ff"/><rect x="295.7" y="202.1" width="3.6" height="3.6" fill="#48c8d0"/><rect x="234.5" y="205.7" width="3.6" height="3.6" fill="#00ffff"/><rect x="238.1" y="205.7" width="3.6" height="3.6" fill="#10d8ff"/><rect x="241.7" y="205.7" width="3.6" height="3.6" fill="#48c8d0"/><rect x="248.9" y="205.7" width="3.6" height="3.6" fill="#7fb200"/><rect x="252.5" y="205.7" width="7.2" height="3.6" fill="#00ffff"/><rect x="259.7" y="205.7" width="3.6" height="3.6" fill="#8aa0a8"/><rect x="263.3" y="205.7" width="3.6" height="3.6" fill="#48c8d0"/><rect x="266.9" y="205.7" width="3.6" height="3.6" fill="#7fb200"/><rect x="270.5" y="205.7" width="3.6" height="3.6" fill="#48c8d0"/><rect x="274.1" y="205.7" width="7.2" height="3.6" fill="#7fb200"/><rect x="281.3" y="205.7" width="3.6" height="3.6" fill="#48c8d0"/><rect x="284.9" y="205.7" width="3.6" height="3.6" fill="#00ffff"/><rect x="234.5" y="209.3" width="3.6" height="3.6" fill="#00ffff"/><rect x="238.1" y="209.3" width="3.6" height="3.6" fill="#7fb200"/><rect x="241.7" y="209.3" width="3.6" height="3.6" fill="#48c8d0"/><rect x="245.3" y="209.3" width="3.6" height="3.6" fill="#8aa0a8"/><rect x="248.9" y="209.3" width="3.6" height="3.6" fill="#48c8d0"/><rect x="252.5" y="209.3" width="3.6" height="3.6" fill="#7fb200"/><rect x="256.1" y="209.3" width="3.6" height="3.6" fill="#8aa0a8"/><rect x="259.7" y="209.3" width="3.6" height="3.6" fill="#00ffff"/><rect x="263.3" y="209.3" width="3.6" height="3.6" fill="#48c8d0"/><rect x="266.9" y="209.3" width="3.6" height="3.6" fill="#7fb200"/><rect x="274.1" y="209.3" width="3.6" height="3.6" fill="#8aa0a8"/><rect x="230.9" y="212.9" width="10.8" height="3.6" fill="#48c8d0"/><rect x="245.3" y="212.9" width="3.6" height="3.6" fill="#7fb200"/><rect x="252.5" y="212.9" width="3.6" height="3.6" fill="#8aa0a8"/><rect x="259.7" y="212.9" width="3.6" height="3.6" fill="#00ffff"/><rect x="263.3" y="212.9" width="3.6" height="3.6" fill="#48c8d0"/><rect x="230.9" y="216.5" width="3.6" height="3.6" fill="#00ffff"/><rect x="234.5" y="216.5" width="3.6" height="3.6" fill="#8aa0a8"/><rect x="238.1" y="216.5" width="7.2" height="3.6" fill="#7fb200"/><rect x="245.3" y="216.5" width="3.6" height="3.6" fill="#00ffff"/><rect x="248.9" y="216.5" width="7.2" height="3.6" fill="#10d8ff"/><rect x="230.9" y="220.1" width="3.6" height="3.6" fill="#48c8d0"/><rect x="238.1" y="220.1" width="3.6" height="3.6" fill="#00ffff"/><rect x="241.7" y="220.1" width="3.6" height="3.6" fill="#48c8d0"/><rect x="245.3" y="220.1" width="3.6" height="3.6" fill="#00ffff"/><rect x="227.3" y="223.7" width="3.6" height="3.6" fill="#7fb200"/><rect x="230.9" y="223.7" width="3.6" height="3.6" fill="#8aa0a8"/><rect x="234.5" y="223.7" width="3.6" height="3.6" fill="#00ffff"/><rect x="209.3" y="227.3" width="3.6" height="3.6" fill="#8aa0a8"/><rect x="212.9" y="227.3" width="3.6" height="3.6" fill="#00ffff"/><rect x="220.1" y="227.3" width="3.6" height="3.6" fill="#10d8ff"/><rect x="223.7" y="227.3" width="3.6" height="3.6" fill="#00ffff"/><rect x="227.3" y="227.3" width="3.6" height="3.6" fill="#7fb200"/><rect x="230.9" y="227.3" width="3.6" height="3.6" fill="#00ffff"/><rect x="202.1" y="230.9" width="3.6" height="3.6" fill="#7fb200"/><rect x="205.7" y="230.9" width="3.6" height="3.6" fill="#00ffff"/><rect x="209.3" y="230.9" width="7.2" height="3.6" fill="#7fb200"/><rect x="216.5" y="230.9" width="3.6" height="3.6" fill="#00ffff"/><rect x="220.1" y="230.9" width="3.6" height="3.6" fill="#48c8d0"/><rect x="223.7" y="230.9" width="3.6" height="3.6" fill="#10d8ff"/><rect x="227.3" y="230.9" width="3.6" height="3.6" fill="#7fb200"/><rect x="198.5" y="234.5" width="7.2" height="3.6" fill="#7fb200"/><rect x="205.7" y="234.5" width="3.6" height="3.6" fill="#00ffff"/><rect x="209.3" y="234.5" width="3.6" height="3.6" fill="#10d8ff"/><rect x="212.9" y="234.5" width="10.8" height="3.6" fill="#00ffff"/><rect x="194.9" y="238.1" width="21.6" height="3.6" fill="#00ffff"/><rect x="191.3" y="241.7" width="3.6" height="3.6" fill="#8aa0a8"/><rect x="194.9" y="241.7" width="3.6" height="3.6" fill="#48c8d0"/><rect x="202.1" y="241.7" width="3.6" height="3.6" fill="#7fb200"/><rect x="205.7" y="241.7" width="7.2" height="3.6" fill="#48c8d0"/><rect x="191.3" y="245.3" width="3.6" height="3.6" fill="#8aa0a8"/><rect x="198.5" y="245.3" width="3.6" height="3.6" fill="#7fb200"/><rect x="202.1" y="245.3" width="3.6" height="3.6" fill="#8aa0a8"/><rect x="205.7" y="245.3" width="3.6" height="3.6" fill="#00ffff"/><rect x="187.7" y="248.9" width="3.6" height="3.6" fill="#00ffff"/><rect x="191.3" y="248.9" width="3.6" height="3.6" fill="#7fb200"/><rect x="194.9" y="248.9" width="3.6" height="3.6" fill="#00ffff"/><rect x="198.5" y="248.9" width="3.6" height="3.6" fill="#7fb200"/><rect x="202.1" y="248.9" width="3.6" height="3.6" fill="#8aa0a8"/><rect x="205.7" y="248.9" width="3.6" height="3.6" fill="#00ffff"/><rect x="187.7" y="252.5" width="7.2" height="3.6" fill="#48c8d0"/><rect x="194.9" y="252.5" width="3.6" height="3.6" fill="#10d8ff"/><rect x="202.1" y="252.5" width="3.6" height="3.6" fill="#00ffff"/><rect x="191.3" y="256.1" width="10.8" height="3.6" fill="#48c8d0"/><rect x="187.7" y="259.7" width="3.6" height="3.6" fill="#48c8d0"/><rect x="191.3" y="259.7" width="3.6" height="3.6" fill="#00ffff"/><rect x="194.9" y="259.7" width="3.6" height="3.6" fill="#48c8d0"/><rect x="198.5" y="259.7" width="3.6" height="3.6" fill="#00ffff"/><rect x="187.7" y="263.3" width="3.6" height="3.6" fill="#00ffff"/><rect x="191.3" y="263.3" width="3.6" height="3.6" fill="#48c8d0"/><rect x="194.9" y="263.3" width="3.6" height="3.6" fill="#8aa0a8"/><rect x="187.7" y="266.9" width="3.6" height="3.6" fill="#7fb200"/><rect x="191.3" y="266.9" width="3.6" height="3.6" fill="#00ffff"/><rect x="191.3" y="270.5" width="3.6" height="3.6" fill="#7fb200"/><rect x="194.9" y="270.5" width="3.6" height="3.6" fill="#00ffff"/><rect x="191.3" y="274.1" width="7.2" height="3.6" fill="#7fb200"/><rect x="191.3" y="277.7" width="3.6" height="3.6" fill="#00ffff"/><rect x="194.9" y="277.7" width="3.6" height="3.6" fill="#48c8d0"/>
<polygon points="89.4,90.0 107.0,90.0 107.0,93.6 139.0,93.6 145.0,108.0 168.0,104.8 180.0,108.0 186.0,120.0 175.0,124.0 151.0,121.5 140.0,125.0 117.4,125.3 110.0,113.0 100.3,105.8 95.5,102.0" fill="#10f0f0"/>
<polygon points="77.6,46.7 102.0,46.7 102.0,55.0 77.6,55.0" fill="#40d8d8"/>
<polygon points="116.0,96.0 123.0,96.0 123.0,121.6 116.0,121.6" fill="#7fb200"/>
<rect x="80.5" y="28.5" width="4" height="4" fill="#00ffff"/><rect x="148.5" y="28.5" width="4" height="4" fill="#00ffff"/><rect x="152.5" y="28.5" width="4" height="4" fill="#48d8e0"/><rect x="156.5" y="28.5" width="4" height="4" fill="#20eef2"/><rect x="164.5" y="28.5" width="4" height="4" fill="#48d8e0"/><rect x="60.5" y="32.5" width="4" height="4" fill="#20eef2"/><rect x="68.5" y="32.5" width="4" height="4" fill="#00ffff"/><rect x="80.5" y="32.5" width="4" height="4" fill="#00ffff"/><rect x="84.5" y="32.5" width="4" height="4" fill="#20eef2"/><rect x="112.5" y="32.5" width="8" height="4" fill="#00ffff"/><rect x="132.5" y="32.5" width="4" height="4" fill="#48d8e0"/><rect x="264.5" y="32.5" width="4" height="4" fill="#00ffff"/><rect x="68.5" y="36.5" width="4" height="4" fill="#00ffff"/><rect x="104.5" y="36.5" width="4" height="4" fill="#00ffff"/><rect x="188.5" y="36.5" width="4" height="4" fill="#00ffff"/><rect x="192.5" y="36.5" width="4" height="4" fill="#20eef2"/><rect x="196.5" y="36.5" width="8" height="4" fill="#00ffff"/><rect x="204.5" y="36.5" width="4" height="4" fill="#48d8e0"/><rect x="212.5" y="36.5" width="4" height="4" fill="#48d8e0"/><rect x="60.5" y="40.5" width="4" height="4" fill="#20eef2"/><rect x="64.5" y="40.5" width="4" height="4" fill="#00ffff"/><rect x="144.5" y="40.5" width="4" height="4" fill="#00ffff"/><rect x="152.5" y="40.5" width="4" height="4" fill="#00ffff"/><rect x="176.5" y="40.5" width="4" height="4" fill="#00ffff"/><rect x="184.5" y="40.5" width="4" height="4" fill="#00ffff"/><rect x="196.5" y="40.5" width="12" height="4" fill="#00ffff"/><rect x="224.5" y="40.5" width="4" height="4" fill="#00ffff"/><rect x="96.5" y="44.5" width="4" height="4" fill="#20eef2"/><rect x="132.5" y="44.5" width="4" height="4" fill="#00ffff"/><rect x="140.5" y="44.5" width="4" height="4" fill="#00ffff"/><rect x="156.5" y="44.5" width="4" height="4" fill="#20eef2"/><rect x="188.5" y="44.5" width="4" height="4" fill="#20eef2"/><rect x="200.5" y="44.5" width="4" height="4" fill="#20eef2"/><rect x="208.5" y="44.5" width="4" height="4" fill="#00ffff"/><rect x="60.5" y="48.5" width="4" height="4" fill="#00ffff"/><rect x="144.5" y="48.5" width="4" height="4" fill="#00ffff"/><rect x="184.5" y="48.5" width="4" height="4" fill="#20eef2"/><rect x="196.5" y="48.5" width="4" height="4" fill="#20eef2"/><rect x="204.5" y="48.5" width="4" height="4" fill="#20eef2"/><rect x="64.5" y="52.5" width="4" height="4" fill="#00ffff"/><rect x="96.5" y="52.5" width="4" height="4" fill="#00ffff"/><rect x="104.5" y="52.5" width="4" height="4" fill="#48d8e0"/><rect x="112.5" y="52.5" width="4" height="4" fill="#48d8e0"/><rect x="188.5" y="52.5" width="4" height="4" fill="#00ffff"/><rect x="196.5" y="52.5" width="4" height="4" fill="#48d8e0"/><rect x="204.5" y="52.5" width="4" height="4" fill="#48d8e0"/><rect x="208.5" y="52.5" width="4" height="4" fill="#00ffff"/><rect x="68.5" y="56.5" width="8" height="4" fill="#00ffff"/><rect x="144.5" y="56.5" width="4" height="4" fill="#20eef2"/><rect x="188.5" y="56.5" width="4" height="4" fill="#00ffff"/><rect x="196.5" y="56.5" width="4" height="4" fill="#20eef2"/><rect x="204.5" y="56.5" width="4" height="4" fill="#00ffff"/><rect x="220.5" y="56.5" width="4" height="4" fill="#00ffff"/><rect x="180.5" y="60.5" width="4" height="4" fill="#00ffff"/><rect x="188.5" y="60.5" width="20" height="4" fill="#00ffff"/><rect x="212.5" y="60.5" width="4" height="4" fill="#00ffff"/><rect x="240.5" y="60.5" width="4" height="4" fill="#48d8e0"/><rect x="68.5" y="64.5" width="4" height="4" fill="#20eef2"/><rect x="136.5" y="64.5" width="4" height="4" fill="#00ffff"/><rect x="204.5" y="64.5" width="4" height="4" fill="#00ffff"/><rect x="256.5" y="64.5" width="4" height="4" fill="#00ffff"/><rect x="60.5" y="68.5" width="4" height="4" fill="#00ffff"/><rect x="68.5" y="68.5" width="8" height="4" fill="#00ffff"/><rect x="84.5" y="68.5" width="4" height="4" fill="#00ffff"/><rect x="144.5" y="68.5" width="4" height="4" fill="#20eef2"/><rect x="152.5" y="68.5" width="4" height="4" fill="#48d8e0"/><rect x="196.5" y="68.5" width="8" height="4" fill="#00ffff"/><rect x="124.5" y="72.5" width="4" height="4" fill="#20eef2"/><rect x="140.5" y="72.5" width="4" height="4" fill="#20eef2"/><rect x="184.5" y="72.5" width="4" height="4" fill="#20eef2"/><rect x="204.5" y="72.5" width="4" height="4" fill="#00ffff"/><rect x="216.5" y="72.5" width="4" height="4" fill="#00ffff"/><rect x="220.5" y="72.5" width="4" height="4" fill="#48d8e0"/><rect x="252.5" y="72.5" width="4" height="4" fill="#00ffff"/><rect x="296.5" y="72.5" width="8" height="4" fill="#00ffff"/><rect x="64.5" y="76.5" width="4" height="4" fill="#00ffff"/><rect x="84.5" y="76.5" width="4" height="4" fill="#00ffff"/><rect x="140.5" y="76.5" width="4" height="4" fill="#00ffff"/><rect x="184.5" y="76.5" width="4" height="4" fill="#20eef2"/><rect x="196.5" y="76.5" width="4" height="4" fill="#00ffff"/><rect x="200.5" y="76.5" width="4" height="4" fill="#20eef2"/><rect x="204.5" y="76.5" width="4" height="4" fill="#48d8e0"/><rect x="216.5" y="76.5" width="4" height="4" fill="#00ffff"/><rect x="236.5" y="76.5" width="4" height="4" fill="#00ffff"/><rect x="84.5" y="80.5" width="4" height="4" fill="#00ffff"/><rect x="92.5" y="80.5" width="4" height="4" fill="#00ffff"/><rect x="124.5" y="80.5" width="4" height="4" fill="#00ffff"/><rect x="132.5" y="80.5" width="4" height="4" fill="#00ffff"/><rect x="148.5" y="80.5" width="4" height="4" fill="#00ffff"/><rect x="304.5" y="80.5" width="4" height="4" fill="#00ffff"/><rect x="128.5" y="84.5" width="4" height="4" fill="#48d8e0"/><rect x="144.5" y="84.5" width="4" height="4" fill="#48d8e0"/><rect x="168.5" y="84.5" width="4" height="4" fill="#00ffff"/><rect x="176.5" y="84.5" width="4" height="4" fill="#00ffff"/><rect x="164.5" y="88.5" width="4" height="4" fill="#00ffff"/><rect x="64.5" y="92.5" width="4" height="4" fill="#00ffff"/><rect x="168.5" y="92.5" width="4" height="4" fill="#00ffff"/><rect x="176.5" y="92.5" width="4" height="4" fill="#00ffff"/><rect x="60.5" y="96.5" width="4" height="4" fill="#00ffff"/><rect x="176.5" y="96.5" width="4" height="4" fill="#20eef2"/><rect x="192.5" y="96.5" width="4" height="4" fill="#00ffff"/><rect x="64.5" y="100.5" width="4" height="4" fill="#00ffff"/><rect x="96.5" y="100.5" width="4" height="4" fill="#00ffff"/><rect x="172.5" y="100.5" width="4" height="4" fill="#48d8e0"/><rect x="176.5" y="100.5" width="4" height="4" fill="#00ffff"/><rect x="184.5" y="100.5" width="4" height="4" fill="#00ffff"/><rect x="84.5" y="104.5" width="4" height="4" fill="#00ffff"/><rect x="160.5" y="104.5" width="4" height="4" fill="#20eef2"/><rect x="180.5" y="104.5" width="4" height="4" fill="#20eef2"/><rect x="184.5" y="104.5" width="4" height="4" fill="#00ffff"/><rect x="192.5" y="104.5" width="4" height="4" fill="#00ffff"/><rect x="84.5" y="108.5" width="4" height="4" fill="#20eef2"/><rect x="92.5" y="108.5" width="4" height="4" fill="#48d8e0"/><rect x="160.5" y="108.5" width="4" height="4" fill="#20eef2"/><rect x="172.5" y="108.5" width="4" height="4" fill="#20eef2"/><rect x="260.5" y="108.5" width="4" height="4" fill="#00ffff"/><rect x="96.5" y="112.5" width="4" height="4" fill="#00ffff"/><rect x="168.5" y="112.5" width="8" height="4" fill="#00ffff"/><rect x="188.5" y="112.5" width="4" height="4" fill="#20eef2"/><rect x="68.5" y="116.5" width="4" height="4" fill="#48d8e0"/><rect x="88.5" y="116.5" width="4" height="4" fill="#48d8e0"/><rect x="160.5" y="116.5" width="8" height="4" fill="#00ffff"/><rect x="184.5" y="116.5" width="4" height="4" fill="#00ffff"/><rect x="188.5" y="116.5" width="4" height="4" fill="#48d8e0"/><rect x="68.5" y="120.5" width="4" height="4" fill="#00ffff"/><rect x="160.5" y="120.5" width="4" height="4" fill="#00ffff"/><rect x="184.5" y="120.5" width="4" height="4" fill="#00ffff"/><rect x="188.5" y="120.5" width="4" height="4" fill="#20eef2"/><rect x="220.5" y="120.5" width="4" height="4" fill="#48d8e0"/><rect x="224.5" y="120.5" width="4" height="4" fill="#00ffff"/><rect x="232.5" y="120.5" width="4" height="4" fill="#20eef2"/><rect x="192.5" y="124.5" width="4" height="4" fill="#00ffff"/><rect x="220.5" y="124.5" width="4" height="4" fill="#00ffff"/><rect x="64.5" y="128.5" width="4" height="4" fill="#00ffff"/><rect x="72.5" y="128.5" width="4" height="4" fill="#00ffff"/><rect x="160.5" y="128.5" width="4" height="4" fill="#00ffff"/><rect x="168.5" y="128.5" width="4" height="4" fill="#20eef2"/><rect x="176.5" y="128.5" width="4" height="4" fill="#00ffff"/><rect x="196.5" y="128.5" width="4" height="4" fill="#00ffff"/><rect x="212.5" y="128.5" width="8" height="4" fill="#00ffff"/><rect x="220.5" y="128.5" width="4" height="4" fill="#48d8e0"/><rect x="228.5" y="128.5" width="4" height="4" fill="#20eef2"/><rect x="72.5" y="132.5" width="4" height="4" fill="#00ffff"/><rect x="80.5" y="132.5" width="4" height="4" fill="#20eef2"/><rect x="160.5" y="132.5" width="4" height="4" fill="#00ffff"/><rect x="216.5" y="132.5" width="4" height="4" fill="#48d8e0"/><rect x="220.5" y="132.5" width="4" height="4" fill="#00ffff"/><rect x="228.5" y="132.5" width="4" height="4" fill="#00ffff"/><rect x="180.5" y="136.5" width="4" height="4" fill="#48d8e0"/><rect x="192.5" y="136.5" width="4" height="4" fill="#00ffff"/><rect x="208.5" y="136.5" width="4" height="4" fill="#20eef2"/><rect x="164.5" y="140.5" width="4" height="4" fill="#48d8e0"/><rect x="176.5" y="140.5" width="4" height="4" fill="#20eef2"/><rect x="180.5" y="140.5" width="4" height="4" fill="#00ffff"/><rect x="188.5" y="140.5" width="4" height="4" fill="#00ffff"/><rect x="200.5" y="140.5" width="4" height="4" fill="#20eef2"/><rect x="216.5" y="140.5" width="4" height="4" fill="#48d8e0"/><rect x="220.5" y="140.5" width="4" height="4" fill="#00ffff"/><rect x="228.5" y="140.5" width="4" height="4" fill="#00ffff"/><rect x="276.5" y="140.5" width="4" height="4" fill="#00ffff"/><rect x="196.5" y="144.5" width="8" height="4" fill="#00ffff"/><rect x="212.5" y="144.5" width="4" height="4" fill="#00ffff"/><rect x="220.5" y="144.5" width="8" height="4" fill="#48d8e0"/><rect x="192.5" y="148.5" width="4" height="4" fill="#20eef2"/><rect x="212.5" y="148.5" width="4" height="4" fill="#00ffff"/><rect x="224.5" y="148.5" width="8" height="4" fill="#48d8e0"/><rect x="232.5" y="148.5" width="4" height="4" fill="#20eef2"/><rect x="196.5" y="152.5" width="4" height="4" fill="#20eef2"/><rect x="200.5" y="152.5" width="4" height="4" fill="#00ffff"/><rect x="212.5" y="152.5" width="4" height="4" fill="#00ffff"/><rect x="220.5" y="152.5" width="4" height="4" fill="#20eef2"/><rect x="304.5" y="152.5" width="4" height="4" fill="#00ffff"/><rect x="204.5" y="156.5" width="4" height="4" fill="#20eef2"/><rect x="220.5" y="156.5" width="4" height="4" fill="#48d8e0"/><rect x="228.5" y="156.5" width="8" height="4" fill="#00ffff"/><rect x="188.5" y="160.5" width="4" height="4" fill="#48d8e0"/><rect x="168.5" y="164.5" width="4" height="4" fill="#20eef2"/><rect x="172.5" y="180.5" width="4" height="4" fill="#00ffff"/><rect x="192.5" y="184.5" width="4" height="4" fill="#00ffff"/><rect x="180.5" y="192.5" width="4" height="4" fill="#00ffff"/><rect x="192.5" y="196.5" width="4" height="4" fill="#00ffff"/><rect x="168.5" y="200.5" width="4" height="4" fill="#00ffff"/><rect x="172.5" y="200.5" width="4" height="4" fill="#48d8e0"/><rect x="188.5" y="200.5" width="4" height="4" fill="#48d8e0"/><rect x="168.5" y="208.5" width="4" height="4" fill="#00ffff"/><rect x="176.5" y="216.5" width="4" height="4" fill="#00ffff"/><rect x="168.5" y="220.5" width="4" height="4" fill="#00ffff"/><rect x="184.5" y="220.5" width="4" height="4" fill="#00ffff"/><rect x="196.5" y="220.5" width="4" height="4" fill="#00ffff"/><rect x="180.5" y="232.5" width="4" height="4" fill="#00ffff"/>
<polygon points="151.0,121.5 171.0,121.5 176.0,127.0 171.0,139.7 165.0,146.0 151.0,146.0" fill="#7fb200"/>
<polyline points="123.0,29.0 123.0,31.6 120.4,36.8 117.7,44.7 113.8,52.5 108.6,57.7 102.0,60.3 91.6,61.6 78.6,63.0 65.5,63.0 59.0,61.6" fill="none" stroke="#00ffff" stroke-width="4.0" stroke-linejoin="round"/>
<rect x="59" y="59" width="30" height="7" fill="#00ffff"/><rect x="116" y="29" width="19" height="2.5" fill="#00ffff"/><rect x="59" y="34" width="4" height="27" fill="#00ffff"/><rect x="59" y="68" width="4" height="31" fill="#00ffff"/><rect x="100" y="66" width="7" height="32" fill="#00ffff"/><rect x="121.6" y="73.4" width="8" height="5.2" fill="#00ffff"/><rect x="116.4" y="93" width="22.6" height="5" fill="#00ffff"/><rect x="126" y="55" width="3" height="3" fill="#00ffff"/><rect x="59" y="100" width="3" height="25" fill="#00ffff"/>
<rect x="76" y="47.3" width="26" height="11.7" fill="#3cdce4"/><rect x="78" y="70" width="16" height="27" fill="#3cdce4"/>
<rect x="80" y="52" width="5" height="6" fill="#7fb200"/><rect x="90" y="50" width="4" height="4" fill="#7fb200"/><rect x="82" y="75" width="4" height="6" fill="#7fb200"/><rect x="88" y="84" width="4" height="8" fill="#7fb200"/><rect x="94" y="72" width="6" height="6" fill="#7fb200"/><rect x="79" y="90" width="6" height="4" fill="#7fb200"/>
<polyline points="61.6,35.5 66.0,42.0 70.0,46.0 74.7,50.0" fill="none" stroke="#00ffff" stroke-width="2.5" stroke-linejoin="round"/>
<polygon points="129.3,196.6 148.0,191.0 166.6,189.0 174.0,198.5 176.0,213.4 189.0,219.0 189.0,228.4 178.0,230.0 176.0,240.0 172.0,249.0 162.0,248.0 158.0,236.0 157.3,224.6 138.7,222.8 127.5,211.6" fill="#10f4f4"/>
<rect x="140.5" y="202" width="3.5" height="12" fill="#7fb200"/><rect x="153.6" y="193" width="3.5" height="12" fill="#7fb200"/><rect x="155.4" y="210" width="3.5" height="7" fill="#7fb200"/><rect x="131" y="195" width="4" height="4" fill="#7fb200"/><rect x="165" y="205" width="4" height="4" fill="#7fb200"/><rect x="147" y="218" width="4" height="4" fill="#7fb200"/><rect x="170" y="222" width="5" height="4" fill="#7fb200"/>
<polyline points="227.8,29.0 229.0,30.2 242.4,36.3 254.6,46.0 264.3,55.7 276.4,58.2 286.2,50.9 295.9,43.6 305.6,38.7 318.0,35.0" fill="none" stroke="#00ffff" stroke-width="3.0" stroke-linejoin="round"/>
<rect x="178" y="221" width="10" height="8" fill="#00ffff"/><rect x="174" y="232" width="9" height="8" fill="#00ffff"/><rect x="170" y="243.5" width="8" height="13" fill="#00ffff"/><rect x="175" y="259" width="7" height="3" fill="#00ffff"/>
<rect x="187" y="63" width="18" height="14" fill="#00ffff"/><rect x="214" y="74" width="11" height="6" fill="#00ffff"/><rect x="190" y="38" width="18" height="5" fill="#00ffff"/>
<rect x="193" y="67" width="5" height="5" fill="#7fb200"/><rect x="200" y="70" width="4" height="4" fill="#7fb200"/>
<polygon points="200.0,135.0 215.0,128.0 234.0,124.0 236.0,132.0 225.0,145.0 210.0,155.0 198.0,157.0 193.0,150.0" fill="#30e0e8"/>
<polygon points="196.0,145.0 205.0,140.0 210.0,148.0 202.0,156.0 196.0,155.0" fill="#50b8c0"/>
<rect x="227" y="165" width="16" height="10" fill="#3a8a2c"/>
<rect x="244" y="166" width="18" height="9" fill="#5a9a20"/>
<rect x="195" y="85" width="16" height="16" fill="#6a9e1a"/>
<rect x="270" y="168" width="10" height="7" fill="#70a818"/>
<polygon points="320.0,75.0 304.0,84.6 290.0,87.0 276.8,87.4 267.0,86.0 262.0,80.0 256.5,82.7 248.3,88.2 243.6,92.2 235.0,94.2 228.5,97.4 218.0,99.4 213.5,101.3 208.3,104.0 205.0,105.9 194.7,114.7 181.0,128.4 167.4,136.6 153.7,144.8 150.0,150.0 160.0,160.0 167.4,164.0 174.0,157.0 181.0,150.3 194.7,133.8 201.0,127.0 207.6,120.0 212.8,113.1 219.4,107.2 226.6,106.6 231.8,105.3 232.5,103.3 240.3,103.3 245.0,102.0 263.0,98.3 290.4,92.8 320.0,90.0" fill="#84878a"/>
<rect x="221" y="85" width="10" height="11" fill="#74a512"/>
<rect x="262" y="100" width="16" height="7" fill="#5e9a24"/>
<polyline points="255.0,82.0 268.0,77.0 280.0,74.0 292.0,66.0 300.0,60.0" fill="none" stroke="#58b4bc" stroke-width="3.0" stroke-linejoin="round"/>
<rect x="286" y="29" width="20" height="6" fill="#4a8a30"/>
<polyline points="281.0,60.6 295.0,54.0 310.0,47.0" fill="none" stroke="#00ffff" stroke-width="2.5" stroke-linejoin="round"/>
<polygon points="330.0,29.0 343.8,29.0 331.7,51.8 321.0,73.0 312.0,83.7 305.8,88.0 304.0,85.0 319.5,59.4" fill="#3cd0d8"/>
<rect x="303" y="29" width="41" height="4" fill="#20e0e8"/>
<polyline points="287.6,59.4 300.0,53.0 310.4,48.8 315.0,40.0" fill="none" stroke="#00ffff" stroke-width="2.5" stroke-linejoin="round"/>
<polygon points="368.6,26.0 512.0,26.0 512.0,32.0 508.0,40.0 500.0,50.0 490.0,56.0 480.0,52.0 472.0,58.0 476.0,72.0 484.0,82.0 490.0,92.0 488.0,104.0 476.0,110.0 460.0,114.0 450.0,116.0 445.0,120.0 447.0,135.0 452.0,150.0 456.0,165.0 458.0,168.0 440.0,168.0 434.0,169.3 421.2,170.9 402.0,169.3 382.9,170.9 363.8,169.3 347.8,163.0 338.3,155.0 328.7,147.0 325.5,134.2 323.9,121.5 319.1,108.7 312.8,99.2 309.6,91.2 312.8,86.4 322.3,73.6 331.9,60.9 341.5,49.7 354.2,41.8" fill="#337f33" filter="url(#b1)"/>
<polygon points="483.0,26.0 560.0,26.0 560.0,54.0 548.0,55.0 535.0,56.5 520.0,55.0 509.0,48.6 496.0,39.5" fill="#7fb200" filter="url(#b1)"/>
<polyline points="511.8,27.0 512.5,36.0 513.0,42.0 519.7,50.0 528.8,53.2 542.0,51.9 551.0,48.6 558.0,46.0" fill="none" stroke="#00ffff" stroke-width="3.5" stroke-linejoin="round"/>
<rect x="543" y="29" width="12" height="4" fill="#00ffff"/>
<polygon points="470.0,54.0 478.0,52.0 486.0,60.0 492.0,70.0 498.0,80.0 510.0,82.0 522.0,84.0 530.0,90.0 530.0,104.0 524.0,116.0 514.0,126.0 502.0,134.0 490.0,137.0 478.0,138.0 470.0,142.0 466.0,152.0 464.0,165.0 452.0,166.0 447.0,150.0 442.0,138.0 440.0,126.0 446.0,118.0 462.0,114.0 478.0,110.0 486.0,100.0 488.0,88.0 480.0,74.0" fill="#7fb200" filter="url(#b2)"/>
<polygon points="400.0,98.0 420.0,101.0 444.0,110.0 444.0,116.0 420.0,106.0 400.0,103.0" fill="#7fb200" filter="url(#b1)"/>
<polygon points="420.0,139.0 447.0,140.0 447.0,145.0 420.0,144.0" fill="#7fb200" filter="url(#b1)"/>
<polygon points="472.8,135.4 492.4,136.8 496.6,146.6 495.2,157.8 486.8,163.5 472.8,162.0 467.2,152.2 467.2,141.0" fill="#337f33" filter="url(#b1)"/>
<polygon points="488.0,56.0 520.0,57.0 540.0,60.0 560.0,58.0 560.0,174.0 520.0,172.0 512.0,160.0 512.0,130.0 522.0,115.0 530.0,102.0 536.0,90.0 526.0,84.0 512.0,81.0 500.0,79.0 494.0,72.0" fill="#337f33" filter="url(#b2)"/>
<polygon points="498.0,80.0 520.0,79.0 540.0,79.0 556.0,77.0 556.0,100.0 545.0,96.0 535.0,90.0 520.0,87.0 505.0,85.0" fill="#7fb200" filter="url(#b2)" opacity="0.7"/>
<polygon points="440.0,122.0 456.0,121.4 482.6,114.4 484.0,132.6 472.8,135.4 467.2,146.6 464.4,160.6 456.0,160.6 450.0,147.0 446.0,136.0" fill="#00d4ff"/>
<polygon points="450.0,145.0 466.0,145.0 464.4,160.6 456.0,163.0 452.0,160.0" fill="#00bfff"/>
<polygon points="499.4,80.8 517.6,85.0 523.2,89.2 523.2,101.8 517.6,113.0 509.2,121.4 498.0,129.8 484.0,132.6 482.6,115.8 492.4,110.2 498.0,101.8 496.6,90.6" fill="#00ffff"/>
<polygon points="360.0,180.0 386.0,179.0 390.0,174.0 424.0,174.0 424.0,188.0 405.0,189.0 385.0,186.0 383.0,184.6 360.0,184.6" fill="#00e4ff"/>
<rect x="251" y="187" width="5" height="8" fill="#2080ff"/>
<rect x="259" y="187" width="12" height="8" fill="#00ffff"/>
<rect x="271" y="188" width="18" height="7" fill="#10a8ff"/>
<rect x="410.9" y="173.3" width="3.6" height="3.6" fill="#10c8ff"/><rect x="421.7" y="173.3" width="3.6" height="3.6" fill="#7fb200"/><rect x="385.7" y="176.9" width="3.6" height="3.6" fill="#00ffff"/><rect x="392.9" y="176.9" width="3.6" height="3.6" fill="#00ffff"/><rect x="407.3" y="176.9" width="3.6" height="3.6" fill="#7fb200"/><rect x="414.5" y="176.9" width="7.2" height="3.6" fill="#7fb200"/><rect x="385.7" y="180.5" width="3.6" height="3.6" fill="#00ffff"/><rect x="400.1" y="180.5" width="7.2" height="3.6" fill="#7fb200"/><rect x="389.3" y="184.1" width="3.6" height="3.6" fill="#7fb200"/><rect x="407.3" y="184.1" width="3.6" height="3.6" fill="#10c8ff"/><rect x="414.5" y="184.1" width="3.6" height="3.6" fill="#7fb200"/><rect x="418.1" y="184.1" width="3.6" height="3.6" fill="#00ffff"/>
<polygon points="385.0,186.0 405.0,189.0 418.0,198.0 420.0,208.0 416.5,217.0 400.8,220.5 389.6,227.2 383.0,231.7 382.9,213.8 385.0,204.8 391.8,198.0 385.0,191.4" fill="#84888c"/>
<rect x="396.5" y="187.7" width="3.6" height="3.6" fill="#00f0ff"/><rect x="403.7" y="191.3" width="3.6" height="3.6" fill="#00f0ff"/><rect x="407.3" y="191.3" width="3.6" height="3.6" fill="#40c0d0"/><rect x="389.3" y="194.9" width="7.2" height="3.6" fill="#40c0d0"/><rect x="407.3" y="194.9" width="3.6" height="3.6" fill="#00f0ff"/><rect x="392.9" y="198.5" width="3.6" height="3.6" fill="#40c0d0"/><rect x="400.1" y="198.5" width="7.2" height="3.6" fill="#00f0ff"/><rect x="410.9" y="198.5" width="3.6" height="3.6" fill="#40c0d0"/><rect x="414.5" y="198.5" width="3.6" height="3.6" fill="#00f0ff"/><rect x="407.3" y="202.1" width="3.6" height="3.6" fill="#40c0d0"/><rect x="403.7" y="205.7" width="3.6" height="3.6" fill="#00f0ff"/><rect x="385.7" y="209.3" width="3.6" height="3.6" fill="#40c0d0"/><rect x="410.9" y="209.3" width="3.6" height="3.6" fill="#00f0ff"/><rect x="414.5" y="209.3" width="3.6" height="3.6" fill="#40c0d0"/><rect x="382.1" y="212.9" width="3.6" height="3.6" fill="#00f0ff"/><rect x="392.9" y="212.9" width="3.6" height="3.6" fill="#00f0ff"/><rect x="382.1" y="216.5" width="3.6" height="3.6" fill="#40c0d0"/><rect x="400.1" y="216.5" width="3.6" height="3.6" fill="#00f0ff"/><rect x="385.7" y="220.1" width="3.6" height="3.6" fill="#00f0ff"/><rect x="385.7" y="223.7" width="3.6" height="3.6" fill="#00f0ff"/>
<polygon points="410.5,188.0 424.0,188.0 424.0,210.0 415.0,212.0 410.0,205.0" fill="#7fb200"/>
<polyline points="423.7,190.8 430.0,195.0 440.0,198.0 450.0,200.0 460.0,199.0 468.0,201.0 476.0,202.7" fill="none" stroke="#1e8cff" stroke-width="3.0" stroke-linejoin="round"/>
<polyline points="461.6,199.0 468.0,201.0 475.9,203.0" fill="none" stroke="#0818f0" stroke-width="3.0" stroke-linejoin="round"/>
<polyline points="426.0,186.0 427.0,195.0 425.0,205.0 428.0,214.0" fill="none" stroke="#20a8ff" stroke-width="3.0" stroke-linejoin="round"/>
<polyline points="478.0,183.7 490.0,186.0 492.0,191.0 502.0,189.6 514.0,189.6 525.0,186.0 535.0,183.0 542.0,181.0" fill="none" stroke="#00e4ff" stroke-width="2.0" stroke-linejoin="round"/>
<polyline points="428.0,178.0 440.0,177.0 450.0,177.0" fill="none" stroke="#20c8ff" stroke-width="2.0" stroke-linejoin="round"/>
<polyline points="456.0,170.0 458.0,178.0 460.0,183.0" fill="none" stroke="#2050ff" stroke-width="2.0" stroke-linejoin="round"/>
<g clip-path="url(#landin)"><path d="M355.0,240.0 L360.0,232.0 L365.0,229.4 L376.0,232.8 L389.6,227.2 L400.8,220.5 L416.5,217.0 L439.0,214.4 L458.0,208.0 L467.6,224.0 L483.4,230.2 L502.4,233.4 L515.0,238.2 L524.6,233.4 L537.3,211.2 L546.8,198.5 L556.0,189.0 L562.0,189.0 L562.0,492.0 L400.0,492.0 L400.0,300.0 L355.0,290.0Z" fill="#337f33" fill-rule="evenodd" filter="url(#b2)"/></g>
<polygon points="459.0,327.0 466.0,326.0 467.0,333.0 461.0,336.0" fill="#7fb200"/>
<polygon points="490.0,280.0 505.0,272.0 525.0,270.0 535.0,276.0 530.0,290.0 515.0,298.0 498.0,300.0 486.0,292.0" fill="#6ea514" filter="url(#b3)" opacity="0.85"/>
<polygon points="478.0,292.0 490.0,296.0 500.0,315.0 508.0,335.0 515.0,355.0 518.0,372.0 508.0,378.0 500.0,372.0 497.0,355.0 490.0,338.0 482.0,322.0 474.0,306.0" fill="#6ea514" filter="url(#b3)" opacity="0.85"/>
<polygon points="488.0,380.0 500.0,372.0 520.0,364.0 545.0,360.0 556.0,362.0 556.0,425.0 540.0,430.0 520.0,428.0 505.0,422.0 496.0,410.0 490.0,398.0" fill="#6ea514" filter="url(#b3)" opacity="0.85"/>
<polygon points="458.0,440.0 475.0,436.0 490.0,432.0 497.0,440.0 495.0,460.0 485.0,472.0 470.0,476.0 460.0,470.0" fill="#6ea514" filter="url(#b3)" opacity="0.85"/>
<polyline points="136.0,240.5 134.0,241.7 124.8,249.2 115.5,258.5 108.0,266.0 103.3,275.0" fill="none" stroke="#7fb200" stroke-width="3.6" stroke-linejoin="round"/>
<polygon points="93.0,278.0 102.4,277.2 107.0,281.9 102.4,290.3 98.7,295.0 93.0,293.0 87.5,287.5 89.3,281.0" fill="#7fb200"/>
<polyline points="134.5,295.5 124.8,305.2" fill="none" stroke="#7fb200" stroke-width="4.5" stroke-linejoin="round"/>
<rect x="94" y="217" width="4" height="4" fill="#7fb200"/><rect x="97" y="221" width="3" height="7" fill="#7fb200"/><rect x="100" y="219" width="3" height="3" fill="#7fb200"/><rect x="108" y="226" width="3" height="3" fill="#7fb200"/><rect x="112" y="229" width="3" height="3" fill="#7fb200"/>
<polygon points="188.0,288.0 196.0,283.0 204.0,282.0 212.0,288.0 213.0,300.0 208.0,307.0 200.0,310.0 192.0,309.0 188.0,300.0" fill="#bb4c4c"/>
<polygon points="198.0,284.0 210.0,284.0 213.0,292.0 210.0,300.0 204.0,302.0 199.0,296.0" fill="#8c8890"/>
<g clip-path="url(#landin)"><path d="M140.0,280.0 L153.3,277.3 L175.0,269.0 L182.8,273.0 L188.0,286.0 L188.0,296.6 L190.7,307.0 L197.2,312.3 L207.7,315.0 L214.2,317.5 L219.4,322.7 L222.0,328.0 L230.0,340.0 L232.0,352.0 L220.0,349.0 L207.9,346.4 L193.3,341.5 L181.2,334.2 L169.0,330.0 L150.0,330.0Z" fill="#337f33" fill-rule="evenodd" filter="url(#b1)"/></g>
<polygon points="176.0,270.0 184.0,274.0 188.0,288.0 188.0,300.0 192.0,308.0 186.0,306.0 180.0,295.0 176.0,282.0" fill="#6fa81a" filter="url(#b2)"/>
<polygon points="168.0,330.0 185.0,334.0 200.0,340.0 215.0,345.0 222.0,350.0 205.0,350.0 185.0,350.0 170.0,352.0" fill="#6fa81a" filter="url(#b2)"/>
</g>
<rect x="59.5" y="29.5" width="496.0" height="456.8" fill="none" stroke="#000" stroke-width="1.1"/>
<line x1="54.6" y1="29.8" x2="59.5" y2="29.8" stroke="#000" stroke-width="1.1"/>
<text x="49.8" y="35.9" font-size="13.9" text-anchor="end">49.20</text>
<line x1="54.6" y1="101.2" x2="59.5" y2="101.2" stroke="#000" stroke-width="1.1"/>
<text x="49.8" y="107.3" font-size="13.9" text-anchor="end">49.15</text>
<line x1="54.6" y1="172.6" x2="59.5" y2="172.6" stroke="#000" stroke-width="1.1"/>
<text x="49.8" y="178.7" font-size="13.9" text-anchor="end">49.10</text>
<line x1="54.6" y1="244.0" x2="59.5" y2="244.0" stroke="#000" stroke-width="1.1"/>
<text x="49.8" y="250.1" font-size="13.9" text-anchor="end">49.05</text>
<line x1="54.6" y1="315.4" x2="59.5" y2="315.4" stroke="#000" stroke-width="1.1"/>
<text x="49.8" y="321.5" font-size="13.9" text-anchor="end">49.00</text>
<line x1="54.6" y1="386.8" x2="59.5" y2="386.8" stroke="#000" stroke-width="1.1"/>
<text x="49.8" y="392.9" font-size="13.9" text-anchor="end">48.95</text>
<line x1="54.6" y1="458.2" x2="59.5" y2="458.2" stroke="#000" stroke-width="1.1"/>
<text x="49.8" y="464.3" font-size="13.9" text-anchor="end">48.90</text>
<line x1="59.5" y1="486.3" x2="59.5" y2="491.2" stroke="#000" stroke-width="1.1"/>
<text x="0" y="0" font-size="13.9" text-anchor="middle" transform="translate(58.9,511.3) rotate(-20) translate(0,5.0)">−123.2</text>
<line x1="154.9" y1="486.3" x2="154.9" y2="491.2" stroke="#000" stroke-width="1.1"/>
<text x="0" y="0" font-size="13.9" text-anchor="middle" transform="translate(154.3,511.3) rotate(-20) translate(0,5.0)">−123.1</text>
<line x1="250.3" y1="486.3" x2="250.3" y2="491.2" stroke="#000" stroke-width="1.1"/>
<text x="0" y="0" font-size="13.9" text-anchor="middle" transform="translate(249.7,511.3) rotate(-20) translate(0,5.0)">−123.0</text>
<line x1="345.7" y1="486.3" x2="345.7" y2="491.2" stroke="#000" stroke-width="1.1"/>
<text x="0" y="0" font-size="13.9" text-anchor="middle" transform="translate(345.1,511.3) rotate(-20) translate(0,5.0)">−122.9</text>
<line x1="441.1" y1="486.3" x2="441.1" y2="491.2" stroke="#000" stroke-width="1.1"/>
<text x="0" y="0" font-size="13.9" text-anchor="middle" transform="translate(440.5,511.3) rotate(-20) translate(0,5.0)">−122.8</text>
<line x1="536.5" y1="486.3" x2="536.5" y2="491.2" stroke="#000" stroke-width="1.1"/>
<text x="0" y="0" font-size="13.9" text-anchor="middle" transform="translate(535.9,511.3) rotate(-20) translate(0,5.0)">−122.7</text>
<text x="306.8" y="21.7" font-size="16.67" text-anchor="middle">6:45:00 after earthquake</text>
<rect x="586.4" y="69.4" width="19" height="377" fill="url(#cb)" stroke="#000" stroke-width="1.1"/>
<line x1="605.4" y1="69.4" x2="610.3" y2="69.4" stroke="#000" stroke-width="1.1"/>
<text x="615.7" y="75.4" font-size="13.9">1.5</text>
<line x1="605.4" y1="132.2" x2="610.3" y2="132.2" stroke="#000" stroke-width="1.1"/>
<text x="615.7" y="138.2" font-size="13.9">1.0</text>
<line x1="605.4" y1="195.1" x2="610.3" y2="195.1" stroke="#000" stroke-width="1.1"/>
<text x="615.7" y="201.1" font-size="13.9">0.5</text>
<line x1="605.4" y1="257.9" x2="610.3" y2="257.9" stroke="#000" stroke-width="1.1"/>
<text x="615.7" y="263.9" font-size="13.9">0.0</text>
<line x1="605.4" y1="320.7" x2="610.3" y2="320.7" stroke="#000" stroke-width="1.1"/>
<text x="615.7" y="326.7" font-size="13.9">−0.5</text>
<line x1="605.4" y1="383.6" x2="610.3" y2="383.6" stroke="#000" stroke-width="1.1"/>
<text x="615.7" y="389.6" font-size="13.9">−1.0</text>
<line x1="605.4" y1="446.4" x2="610.3" y2="446.4" stroke="#000" stroke-width="1.1"/>
<text x="615.7" y="452.4" font-size="13.9">−1.5</text>
</svg></body></html>
